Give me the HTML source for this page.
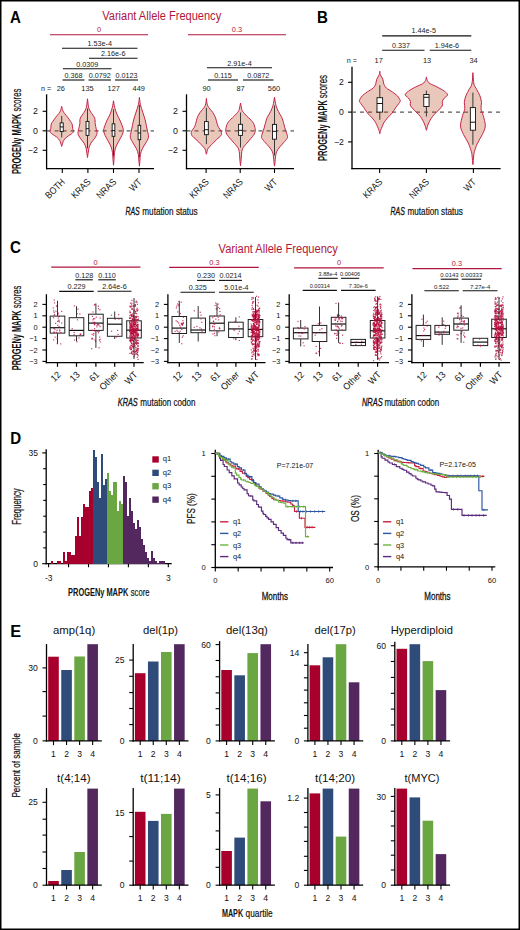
<!DOCTYPE html>
<html><head><meta charset="utf-8"><style>
html,body{margin:0;padding:0;background:#fff;}
body{width:520px;height:930px;overflow:hidden;}
svg{display:block;font-family:"Liberation Sans", sans-serif;}
</style></head><body>
<svg width="520" height="930" viewBox="0 0 520 930">
<rect x="0.75" y="0.75" width="518.5" height="928.5" fill="#fff" stroke="#000" stroke-width="1.5"/>
<text x="10.00" y="23.00" font-size="16.6" fill="#000" font-weight="bold" textLength="10.90" lengthAdjust="spacingAndGlyphs">A</text>
<text x="317.00" y="23.40" font-size="16.6" fill="#000" font-weight="bold" textLength="10.90" lengthAdjust="spacingAndGlyphs">B</text>
<text x="10.00" y="253.00" font-size="16.6" fill="#000" font-weight="bold" textLength="10.90" lengthAdjust="spacingAndGlyphs">C</text>
<text x="10.20" y="444.00" font-size="16.6" fill="#000" font-weight="bold" textLength="10.90" lengthAdjust="spacingAndGlyphs">D</text>
<text x="10.20" y="637.40" font-size="16.6" fill="#000" font-weight="bold" textLength="10.90" lengthAdjust="spacingAndGlyphs">E</text>
<text x="102.20" y="19.60" font-size="12.3" fill="#b0163c" textLength="119.00" lengthAdjust="spacingAndGlyphs">Variant Allele Frequency</text>
<line x1="50.00" y1="34.75" x2="148.00" y2="34.75" stroke="#b0163c" stroke-width="1.2"/>
<text x="99.00" y="32.40" font-size="7.4" fill="#b0163c" text-anchor="middle">0</text>
<line x1="188.00" y1="34.75" x2="286.00" y2="34.75" stroke="#b0163c" stroke-width="1.2"/>
<text x="237.00" y="32.40" font-size="7.4" fill="#b0163c" text-anchor="middle">0.3</text>
<line x1="62.00" y1="48.25" x2="137.50" y2="48.25" stroke="#111" stroke-width="1.1"/>
<text x="99.75" y="46.05" font-size="7.2" fill="#222" text-anchor="middle">1.53e-4</text>
<line x1="89.00" y1="58.25" x2="137.50" y2="58.25" stroke="#111" stroke-width="1.1"/>
<text x="113.25" y="56.05" font-size="7.2" fill="#222" text-anchor="middle">2.16e-6</text>
<line x1="63.00" y1="68.75" x2="111.50" y2="68.75" stroke="#111" stroke-width="1.1"/>
<text x="87.25" y="66.55" font-size="7.2" fill="#222" text-anchor="middle">0.0309</text>
<line x1="62.50" y1="80.00" x2="84.50" y2="80.00" stroke="#111" stroke-width="1.1"/>
<text x="73.50" y="77.80" font-size="7.2" fill="#222" text-anchor="middle">0.368</text>
<line x1="88.50" y1="80.00" x2="111.00" y2="80.00" stroke="#111" stroke-width="1.1"/>
<text x="99.75" y="77.80" font-size="7.2" fill="#222" text-anchor="middle">0.0792</text>
<line x1="115.00" y1="80.00" x2="138.00" y2="80.00" stroke="#111" stroke-width="1.1"/>
<text x="126.50" y="77.80" font-size="7.2" fill="#222" text-anchor="middle">0.0123</text>
<line x1="207.00" y1="67.75" x2="272.00" y2="67.75" stroke="#111" stroke-width="1.1"/>
<text x="239.50" y="65.55" font-size="7.2" fill="#222" text-anchor="middle">2.91e-4</text>
<line x1="208.00" y1="80.00" x2="238.00" y2="80.00" stroke="#111" stroke-width="1.1"/>
<text x="223.00" y="77.80" font-size="7.2" fill="#222" text-anchor="middle">0.115</text>
<line x1="243.00" y1="80.00" x2="273.50" y2="80.00" stroke="#111" stroke-width="1.1"/>
<text x="258.25" y="77.80" font-size="7.2" fill="#222" text-anchor="middle">0.0872</text>
<text x="41.00" y="91.00" font-size="7.2" fill="#222">n =</text>
<text x="60.75" y="91.00" font-size="7.4" fill="#222" text-anchor="middle">26</text>
<text x="87.50" y="91.00" font-size="7.4" fill="#222" text-anchor="middle">135</text>
<text x="113.75" y="91.00" font-size="7.4" fill="#222" text-anchor="middle">127</text>
<text x="138.75" y="91.00" font-size="7.4" fill="#222" text-anchor="middle">449</text>
<text x="206.50" y="91.00" font-size="7.4" fill="#222" text-anchor="middle">90</text>
<text x="240.50" y="91.00" font-size="7.4" fill="#222" text-anchor="middle">87</text>
<text x="274.00" y="91.00" font-size="7.4" fill="#222" text-anchor="middle">560</text>
<line x1="46.60" y1="94.30" x2="46.60" y2="169.30" stroke="#000" stroke-width="1.3"/>
<line x1="46.00" y1="168.70" x2="154.00" y2="168.70" stroke="#000" stroke-width="1.3"/>
<line x1="42.60" y1="111.30" x2="46.60" y2="111.30" stroke="#000" stroke-width="1.1"/>
<text x="37.90" y="114.47" font-size="8.8" fill="#111" text-anchor="end">2</text>
<line x1="42.60" y1="130.80" x2="46.60" y2="130.80" stroke="#000" stroke-width="1.1"/>
<text x="37.90" y="133.97" font-size="8.8" fill="#111" text-anchor="end">0</text>
<line x1="42.60" y1="150.30" x2="46.60" y2="150.30" stroke="#000" stroke-width="1.1"/>
<text x="37.90" y="153.47" font-size="8.8" fill="#111" text-anchor="end">−2</text>
<line x1="186.50" y1="94.30" x2="186.50" y2="169.30" stroke="#000" stroke-width="1.3"/>
<line x1="185.90" y1="168.70" x2="294.00" y2="168.70" stroke="#000" stroke-width="1.3"/>
<line x1="182.50" y1="111.30" x2="186.50" y2="111.30" stroke="#000" stroke-width="1.1"/>
<text x="177.90" y="114.47" font-size="8.8" fill="#111" text-anchor="end">2</text>
<line x1="182.50" y1="130.80" x2="186.50" y2="130.80" stroke="#000" stroke-width="1.1"/>
<text x="177.90" y="133.97" font-size="8.8" fill="#111" text-anchor="end">0</text>
<line x1="182.50" y1="150.30" x2="186.50" y2="150.30" stroke="#000" stroke-width="1.1"/>
<text x="177.90" y="153.47" font-size="8.8" fill="#111" text-anchor="end">−2</text>
<line x1="46.60" y1="130.80" x2="154.00" y2="130.80" stroke="#5a5a5a" stroke-width="1.2" stroke-dasharray="4,4"/>
<line x1="186.50" y1="130.80" x2="294.00" y2="130.80" stroke="#5a5a5a" stroke-width="1.2" stroke-dasharray="4,4"/>
<path d="M61.70,106.40 C61.90,107.13 62.42,109.62 62.90,110.80 C63.38,111.98 63.77,112.38 64.60,113.50 C65.43,114.62 66.90,116.17 67.90,117.50 C68.90,118.83 69.88,120.38 70.60,121.50 C71.32,122.62 71.87,123.07 72.20,124.20 C72.53,125.33 72.38,127.07 72.60,128.30 C72.82,129.53 73.78,130.60 73.50,131.60 C73.22,132.60 72.03,133.40 70.90,134.30 C69.77,135.20 67.90,135.98 66.70,137.00 C65.50,138.02 64.37,139.38 63.70,140.40 C63.03,141.42 63.03,142.10 62.70,143.10 C62.37,144.10 61.87,145.85 61.70,146.40 L61.70,146.40 C61.53,145.85 61.03,144.10 60.70,143.10 C60.37,142.10 60.37,141.42 59.70,140.40 C59.03,139.38 57.90,138.02 56.70,137.00 C55.50,135.98 53.63,135.20 52.50,134.30 C51.37,133.40 50.18,132.60 49.90,131.60 C49.62,130.60 50.58,129.53 50.80,128.30 C51.02,127.07 50.87,125.33 51.20,124.20 C51.53,123.07 52.08,122.62 52.80,121.50 C53.52,120.38 54.50,118.83 55.50,117.50 C56.50,116.17 57.97,114.62 58.80,113.50 C59.63,112.38 60.02,111.98 60.50,110.80 C60.98,109.62 61.50,107.13 61.70,106.40 Z" fill="#b6441c" fill-opacity="0.3" stroke="#c21a42" stroke-width="0.95"/>
<path d="M87.50,98.80 C87.70,100.25 88.13,105.25 88.70,107.50 C89.27,109.75 89.90,110.53 90.90,112.30 C91.90,114.07 93.98,116.18 94.70,118.10 C95.42,120.02 94.95,122.03 95.20,123.80 C95.45,125.57 95.90,127.08 96.20,128.70 C96.50,130.32 97.25,131.90 97.00,133.50 C96.75,135.10 95.72,136.70 94.70,138.30 C93.68,139.90 91.85,141.50 90.90,143.10 C89.95,144.70 89.43,146.42 89.00,147.90 C88.57,149.38 88.55,150.40 88.30,152.00 C88.05,153.60 87.63,156.58 87.50,157.50 L87.50,157.50 C87.37,156.58 86.95,153.60 86.70,152.00 C86.45,150.40 86.43,149.38 86.00,147.90 C85.57,146.42 85.05,144.70 84.10,143.10 C83.15,141.50 81.32,139.90 80.30,138.30 C79.28,136.70 78.25,135.10 78.00,133.50 C77.75,131.90 78.50,130.32 78.80,128.70 C79.10,127.08 79.55,125.57 79.80,123.80 C80.05,122.03 79.58,120.02 80.30,118.10 C81.02,116.18 83.10,114.07 84.10,112.30 C85.10,110.53 85.73,109.75 86.30,107.50 C86.87,105.25 87.30,100.25 87.50,98.80 Z" fill="#b6441c" fill-opacity="0.3" stroke="#c21a42" stroke-width="0.95"/>
<path d="M113.50,100.80 C113.70,101.92 114.13,105.27 114.70,107.50 C115.27,109.73 116.05,112.12 116.90,114.20 C117.75,116.28 118.92,118.07 119.80,120.00 C120.68,121.93 121.60,124.03 122.20,125.80 C122.80,127.57 123.45,129.00 123.40,130.60 C123.35,132.20 122.67,133.63 121.90,135.40 C121.13,137.17 119.80,139.28 118.80,141.20 C117.80,143.12 116.62,144.98 115.90,146.90 C115.18,148.82 114.80,150.85 114.50,152.70 C114.20,154.55 114.27,155.92 114.10,158.00 C113.93,160.08 113.60,164.00 113.50,165.20 L113.50,165.20 C113.40,164.00 113.07,160.08 112.90,158.00 C112.73,155.92 112.80,154.55 112.50,152.70 C112.20,150.85 111.82,148.82 111.10,146.90 C110.38,144.98 109.20,143.12 108.20,141.20 C107.20,139.28 105.87,137.17 105.10,135.40 C104.33,133.63 103.65,132.20 103.60,130.60 C103.55,129.00 104.20,127.57 104.80,125.80 C105.40,124.03 106.32,121.93 107.20,120.00 C108.08,118.07 109.25,116.28 110.10,114.20 C110.95,112.12 111.73,109.73 112.30,107.50 C112.87,105.27 113.30,101.92 113.50,100.80 Z" fill="#b6441c" fill-opacity="0.3" stroke="#c21a42" stroke-width="0.95"/>
<path d="M139.40,97.40 C139.57,98.60 139.83,102.12 140.40,104.60 C140.97,107.08 142.00,109.73 142.80,112.30 C143.60,114.87 144.60,117.75 145.20,120.00 C145.80,122.25 146.00,123.88 146.40,125.80 C146.80,127.72 147.25,129.58 147.60,131.50 C147.95,133.42 148.82,135.37 148.50,137.30 C148.18,139.23 146.73,141.18 145.70,143.10 C144.67,145.02 143.18,146.88 142.30,148.80 C141.42,150.72 140.78,152.73 140.40,154.60 C140.02,156.47 140.17,158.07 140.00,160.00 C139.83,161.93 139.50,165.17 139.40,166.20 L139.40,166.20 C139.30,165.17 138.97,161.93 138.80,160.00 C138.63,158.07 138.78,156.47 138.40,154.60 C138.02,152.73 137.38,150.72 136.50,148.80 C135.62,146.88 134.13,145.02 133.10,143.10 C132.07,141.18 130.62,139.23 130.30,137.30 C129.98,135.37 130.85,133.42 131.20,131.50 C131.55,129.58 132.00,127.72 132.40,125.80 C132.80,123.88 133.00,122.25 133.60,120.00 C134.20,117.75 135.20,114.87 136.00,112.30 C136.80,109.73 137.83,107.08 138.40,104.60 C138.97,102.12 139.23,98.60 139.40,97.40 Z" fill="#b6441c" fill-opacity="0.3" stroke="#c21a42" stroke-width="0.95"/>
<path d="M206.40,98.40 C206.62,99.63 206.63,103.45 207.70,105.80 C208.77,108.15 211.48,110.48 212.80,112.50 C214.12,114.52 214.90,116.10 215.60,117.90 C216.30,119.70 216.52,121.73 217.00,123.30 C217.48,124.87 217.80,125.97 218.50,127.30 C219.20,128.63 220.78,129.95 221.20,131.30 C221.62,132.65 221.73,134.05 221.00,135.40 C220.27,136.75 218.40,137.83 216.80,139.40 C215.20,140.97 212.88,143.23 211.40,144.80 C209.92,146.37 208.62,147.68 207.90,148.80 C207.18,149.92 207.35,150.60 207.10,151.50 C206.85,152.40 206.52,153.75 206.40,154.20 L206.40,154.20 C206.28,153.75 205.95,152.40 205.70,151.50 C205.45,150.60 205.62,149.92 204.90,148.80 C204.18,147.68 202.88,146.37 201.40,144.80 C199.92,143.23 197.60,140.97 196.00,139.40 C194.40,137.83 192.53,136.75 191.80,135.40 C191.07,134.05 191.18,132.65 191.60,131.30 C192.02,129.95 193.60,128.63 194.30,127.30 C195.00,125.97 195.32,124.87 195.80,123.30 C196.28,121.73 196.50,119.70 197.20,117.90 C197.90,116.10 198.68,114.52 200.00,112.50 C201.32,110.48 204.03,108.15 205.10,105.80 C206.17,103.45 206.18,99.63 206.40,98.40 Z" fill="#b6441c" fill-opacity="0.3" stroke="#c21a42" stroke-width="0.95"/>
<path d="M240.50,103.10 C240.67,103.92 241.17,106.65 241.50,108.00 C241.83,109.35 241.55,109.78 242.50,111.20 C243.45,112.62 245.52,114.72 247.20,116.50 C248.88,118.28 251.32,120.10 252.60,121.90 C253.88,123.70 254.52,125.50 254.90,127.30 C255.28,129.10 255.50,130.90 254.90,132.70 C254.30,134.50 252.70,136.30 251.30,138.10 C249.90,139.90 247.97,141.72 246.50,143.50 C245.03,145.28 243.33,147.02 242.50,148.80 C241.67,150.58 241.73,152.33 241.50,154.20 C241.27,156.07 241.27,158.08 241.10,160.00 C240.93,161.92 240.60,164.75 240.50,165.70 L240.50,165.70 C240.40,164.75 240.07,161.92 239.90,160.00 C239.73,158.08 239.73,156.07 239.50,154.20 C239.27,152.33 239.33,150.58 238.50,148.80 C237.67,147.02 235.97,145.28 234.50,143.50 C233.03,141.72 231.10,139.90 229.70,138.10 C228.30,136.30 226.70,134.50 226.10,132.70 C225.50,130.90 225.72,129.10 226.10,127.30 C226.48,125.50 227.12,123.70 228.40,121.90 C229.68,120.10 232.12,118.28 233.80,116.50 C235.48,114.72 237.55,112.62 238.50,111.20 C239.45,109.78 239.17,109.35 239.50,108.00 C239.83,106.65 240.33,103.92 240.50,103.10 Z" fill="#b6441c" fill-opacity="0.3" stroke="#c21a42" stroke-width="0.95"/>
<path d="M274.50,97.30 C274.75,98.67 275.35,103.13 276.00,105.50 C276.65,107.87 277.43,109.50 278.40,111.50 C279.37,113.50 280.95,115.63 281.80,117.50 C282.65,119.37 283.00,120.98 283.50,122.70 C284.00,124.42 284.30,126.08 284.80,127.80 C285.30,129.52 286.05,131.42 286.50,133.00 C286.95,134.58 287.82,135.87 287.50,137.30 C287.18,138.73 285.87,140.02 284.60,141.60 C283.33,143.18 281.25,145.08 279.90,146.80 C278.55,148.52 277.23,150.18 276.50,151.90 C275.77,153.62 275.73,155.50 275.50,157.10 C275.27,158.70 275.27,160.00 275.10,161.50 C274.93,163.00 274.60,165.33 274.50,166.10 L274.50,166.10 C274.40,165.33 274.07,163.00 273.90,161.50 C273.73,160.00 273.73,158.70 273.50,157.10 C273.27,155.50 273.23,153.62 272.50,151.90 C271.77,150.18 270.45,148.52 269.10,146.80 C267.75,145.08 265.67,143.18 264.40,141.60 C263.13,140.02 261.82,138.73 261.50,137.30 C261.18,135.87 262.05,134.58 262.50,133.00 C262.95,131.42 263.70,129.52 264.20,127.80 C264.70,126.08 265.00,124.42 265.50,122.70 C266.00,120.98 266.35,119.37 267.20,117.50 C268.05,115.63 269.63,113.50 270.60,111.50 C271.57,109.50 272.35,107.87 273.00,105.50 C273.65,103.13 274.25,98.67 274.50,97.30 Z" fill="#b6441c" fill-opacity="0.3" stroke="#c21a42" stroke-width="0.95"/>
<line x1="61.70" y1="115.80" x2="61.70" y2="137.40" stroke="#3a3a3a" stroke-width="1.0"/>
<rect x="60.15" y="122.90" width="3.10" height="8.70" fill="#fff" stroke="#111" stroke-width="0.9"/>
<line x1="60.15" y1="126.90" x2="63.25" y2="126.90" stroke="#111" stroke-width="1.0"/>
<line x1="87.50" y1="108.50" x2="87.50" y2="148.40" stroke="#3a3a3a" stroke-width="1.0"/>
<rect x="86.05" y="121.40" width="2.90" height="14.00" fill="#fff" stroke="#111" stroke-width="0.9"/>
<line x1="86.05" y1="128.70" x2="88.95" y2="128.70" stroke="#111" stroke-width="1.0"/>
<line x1="113.50" y1="109.40" x2="113.50" y2="156.50" stroke="#3a3a3a" stroke-width="1.0"/>
<rect x="112.15" y="123.80" width="2.70" height="12.50" fill="#fff" stroke="#111" stroke-width="0.9"/>
<line x1="112.15" y1="130.60" x2="114.85" y2="130.60" stroke="#111" stroke-width="1.0"/>
<line x1="139.40" y1="104.60" x2="139.40" y2="157.50" stroke="#3a3a3a" stroke-width="1.0"/>
<rect x="138.10" y="125.30" width="2.60" height="14.40" fill="#fff" stroke="#111" stroke-width="0.9"/>
<line x1="138.10" y1="133.00" x2="140.70" y2="133.00" stroke="#111" stroke-width="1.0"/>
<line x1="206.40" y1="107.80" x2="206.40" y2="144.10" stroke="#3a3a3a" stroke-width="1.0"/>
<rect x="204.50" y="121.60" width="3.80" height="13.10" fill="#fff" stroke="#111" stroke-width="0.9"/>
<line x1="204.50" y1="129.70" x2="208.30" y2="129.70" stroke="#111" stroke-width="1.0"/>
<line x1="240.50" y1="112.50" x2="240.50" y2="147.50" stroke="#3a3a3a" stroke-width="1.0"/>
<rect x="238.60" y="124.30" width="3.80" height="11.10" fill="#fff" stroke="#111" stroke-width="0.9"/>
<line x1="238.60" y1="130.30" x2="242.40" y2="130.30" stroke="#111" stroke-width="1.0"/>
<line x1="274.50" y1="105.50" x2="274.50" y2="155.40" stroke="#3a3a3a" stroke-width="1.0"/>
<rect x="272.55" y="124.40" width="3.90" height="14.80" fill="#fff" stroke="#111" stroke-width="0.9"/>
<line x1="272.55" y1="131.30" x2="276.45" y2="131.30" stroke="#111" stroke-width="1.0"/>
<line x1="62.30" y1="168.70" x2="62.30" y2="173.00" stroke="#000" stroke-width="1.1"/>
<text x="65.70" y="182.60" font-size="9.6" fill="#111" text-anchor="end" textLength="23.60" lengthAdjust="spacingAndGlyphs" transform="rotate(-45 65.70 182.60)">BOTH</text>
<line x1="87.90" y1="168.70" x2="87.90" y2="173.00" stroke="#000" stroke-width="1.1"/>
<text x="91.30" y="182.60" font-size="9.6" fill="#111" text-anchor="end" textLength="23.14" lengthAdjust="spacingAndGlyphs" transform="rotate(-45 91.30 182.60)">KRAS</text>
<line x1="113.50" y1="168.70" x2="113.50" y2="173.00" stroke="#000" stroke-width="1.1"/>
<text x="116.90" y="182.60" font-size="9.6" fill="#111" text-anchor="end" textLength="23.61" lengthAdjust="spacingAndGlyphs" transform="rotate(-45 116.90 182.60)">NRAS</text>
<line x1="139.00" y1="168.70" x2="139.00" y2="173.00" stroke="#000" stroke-width="1.1"/>
<text x="142.40" y="182.60" font-size="9.6" fill="#111" text-anchor="end" textLength="13.21" lengthAdjust="spacingAndGlyphs" transform="rotate(-45 142.40 182.60)">WT</text>
<line x1="206.10" y1="168.70" x2="206.10" y2="173.00" stroke="#000" stroke-width="1.1"/>
<text x="209.50" y="182.60" font-size="9.6" fill="#111" text-anchor="end" textLength="23.14" lengthAdjust="spacingAndGlyphs" transform="rotate(-45 209.50 182.60)">KRAS</text>
<line x1="240.20" y1="168.70" x2="240.20" y2="173.00" stroke="#000" stroke-width="1.1"/>
<text x="243.60" y="182.60" font-size="9.6" fill="#111" text-anchor="end" textLength="23.61" lengthAdjust="spacingAndGlyphs" transform="rotate(-45 243.60 182.60)">NRAS</text>
<line x1="274.50" y1="168.70" x2="274.50" y2="173.00" stroke="#000" stroke-width="1.1"/>
<text x="277.90" y="182.60" font-size="9.6" fill="#111" text-anchor="end" textLength="13.21" lengthAdjust="spacingAndGlyphs" transform="rotate(-45 277.90 182.60)">WT</text>
<g transform="translate(20.80 173.90) rotate(-90)">
<text x="0" y="0" font-size="12.3" font-weight="bold" fill="#111" textLength="60.30" lengthAdjust="spacingAndGlyphs">PROGENy MAPK</text>
<text x="62.30" y="0" font-size="12.3" fill="#111" textLength="23.00" lengthAdjust="spacingAndGlyphs" stroke="#111" stroke-width="0.2">scores</text>
</g>
<text x="125.40" y="214.60" font-size="10.4" fill="#111" font-style="italic" textLength="14.30" lengthAdjust="spacingAndGlyphs" stroke="#111" stroke-width="0.3">RAS</text>
<text x="142.30" y="214.60" font-size="10.4" fill="#111" textLength="55.40" lengthAdjust="spacingAndGlyphs" stroke="#111" stroke-width="0.2">mutation status</text>
<line x1="382.20" y1="35.90" x2="471.30" y2="35.90" stroke="#111" stroke-width="1.1"/>
<text x="423.80" y="33.30" font-size="7.2" fill="#222" text-anchor="middle">1.44e-5</text>
<line x1="382.20" y1="50.30" x2="424.50" y2="50.30" stroke="#111" stroke-width="1.1"/>
<text x="401.00" y="47.70" font-size="7.2" fill="#222" text-anchor="middle">0.337</text>
<line x1="429.80" y1="50.30" x2="471.30" y2="50.30" stroke="#111" stroke-width="1.1"/>
<text x="446.90" y="47.70" font-size="7.2" fill="#222" text-anchor="middle">1.94e-6</text>
<text x="346.80" y="63.30" font-size="7.2" fill="#222">n =</text>
<text x="378.70" y="63.30" font-size="7.4" fill="#222" text-anchor="middle">17</text>
<text x="427.00" y="63.30" font-size="7.4" fill="#222" text-anchor="middle">13</text>
<text x="473.60" y="63.30" font-size="7.4" fill="#222" text-anchor="middle">34</text>
<line x1="352.00" y1="66.70" x2="352.00" y2="169.20" stroke="#000" stroke-width="1.3"/>
<line x1="351.40" y1="168.60" x2="500.60" y2="168.60" stroke="#000" stroke-width="1.3"/>
<line x1="348.00" y1="82.30" x2="352.00" y2="82.30" stroke="#000" stroke-width="1.1"/>
<text x="343.70" y="85.40" font-size="8.6" fill="#111" text-anchor="end">2</text>
<line x1="348.00" y1="112.10" x2="352.00" y2="112.10" stroke="#000" stroke-width="1.1"/>
<text x="343.70" y="115.20" font-size="8.6" fill="#111" text-anchor="end">0</text>
<line x1="348.00" y1="141.90" x2="352.00" y2="141.90" stroke="#000" stroke-width="1.1"/>
<text x="343.70" y="145.00" font-size="8.6" fill="#111" text-anchor="end">−2</text>
<line x1="352.00" y1="112.10" x2="500.60" y2="112.10" stroke="#5a5a5a" stroke-width="1.2" stroke-dasharray="4,4"/>
<path d="M379.80,71.25 C379.88,71.81 379.78,73.24 380.30,74.60 C380.82,75.96 382.30,77.80 382.90,79.40 C383.50,81.00 383.30,82.75 383.90,84.20 C384.50,85.65 385.10,86.82 386.50,88.10 C387.90,89.38 390.50,90.62 392.30,91.90 C394.10,93.18 395.98,94.35 397.30,95.80 C398.62,97.25 399.95,99.32 400.20,100.60 C400.45,101.88 399.63,102.22 398.80,103.50 C397.97,104.78 396.32,106.70 395.20,108.30 C394.08,109.90 393.38,111.50 392.10,113.10 C390.82,114.70 388.87,116.30 387.50,117.90 C386.13,119.50 384.78,121.27 383.90,122.70 C383.02,124.13 382.75,125.22 382.20,126.50 C381.65,127.78 381.00,129.19 380.60,130.40 C380.20,131.61 379.93,133.19 379.80,133.75 L379.80,133.75 C379.67,133.19 379.40,131.61 379.00,130.40 C378.60,129.19 377.95,127.78 377.40,126.50 C376.85,125.22 376.58,124.13 375.70,122.70 C374.82,121.27 373.47,119.50 372.10,117.90 C370.73,116.30 368.78,114.70 367.50,113.10 C366.22,111.50 365.52,109.90 364.40,108.30 C363.28,106.70 361.63,104.78 360.80,103.50 C359.97,102.22 359.15,101.88 359.40,100.60 C359.65,99.32 360.98,97.25 362.30,95.80 C363.62,94.35 365.50,93.18 367.30,91.90 C369.10,90.62 371.70,89.38 373.10,88.10 C374.50,86.82 375.10,85.65 375.70,84.20 C376.30,82.75 376.10,81.00 376.70,79.40 C377.30,77.80 378.78,75.96 379.30,74.60 C379.82,73.24 379.72,71.81 379.80,71.25 Z" fill="#b6441c" fill-opacity="0.3" stroke="#c21a42" stroke-width="0.95"/>
<path d="M426.40,76.90 C426.57,77.52 426.78,79.47 427.40,80.60 C428.02,81.73 428.50,82.65 430.10,83.70 C431.70,84.75 434.62,85.65 437.00,86.90 C439.38,88.15 442.63,89.87 444.40,91.20 C446.17,92.53 447.60,93.77 447.60,94.90 C447.60,96.03 445.28,96.87 444.40,98.00 C443.52,99.13 442.60,100.55 442.30,101.70 C442.00,102.85 442.90,103.83 442.60,104.90 C442.30,105.97 441.53,106.87 440.50,108.10 C439.47,109.33 437.73,110.90 436.40,112.30 C435.07,113.70 433.60,115.08 432.50,116.50 C431.40,117.92 430.57,119.38 429.80,120.80 C429.03,122.22 428.47,123.42 427.90,125.00 C427.33,126.58 426.65,129.42 426.40,130.30 L426.40,130.30 C426.15,129.42 425.47,126.58 424.90,125.00 C424.33,123.42 423.77,122.22 423.00,120.80 C422.23,119.38 421.40,117.92 420.30,116.50 C419.20,115.08 417.73,113.70 416.40,112.30 C415.07,110.90 413.33,109.33 412.30,108.10 C411.27,106.87 410.50,105.97 410.20,104.90 C409.90,103.83 410.80,102.85 410.50,101.70 C410.20,100.55 409.28,99.13 408.40,98.00 C407.52,96.87 405.20,96.03 405.20,94.90 C405.20,93.77 406.63,92.53 408.40,91.20 C410.17,89.87 413.42,88.15 415.80,86.90 C418.18,85.65 421.10,84.75 422.70,83.70 C424.30,82.65 424.78,81.73 425.40,80.60 C426.02,79.47 426.23,77.52 426.40,76.90 Z" fill="#b6441c" fill-opacity="0.3" stroke="#c21a42" stroke-width="0.95"/>
<path d="M472.90,72.70 C473.07,74.58 473.27,81.22 473.90,84.00 C474.53,86.78 475.70,87.43 476.70,89.40 C477.70,91.37 479.10,93.65 479.90,95.80 C480.70,97.95 481.32,100.15 481.50,102.30 C481.68,104.45 480.73,106.55 481.00,108.70 C481.27,110.85 482.38,112.33 483.10,115.20 C483.82,118.07 485.43,122.68 485.30,125.90 C485.17,129.12 483.60,131.63 482.30,134.50 C481.00,137.37 478.82,140.23 477.50,143.10 C476.18,145.97 475.03,149.55 474.40,151.70 C473.77,153.85 473.95,153.85 473.70,156.00 C473.45,158.15 473.03,163.17 472.90,164.60 L472.90,164.60 C472.77,163.17 472.35,158.15 472.10,156.00 C471.85,153.85 472.03,153.85 471.40,151.70 C470.77,149.55 469.62,145.97 468.30,143.10 C466.98,140.23 464.80,137.37 463.50,134.50 C462.20,131.63 460.63,129.12 460.50,125.90 C460.37,122.68 461.98,118.07 462.70,115.20 C463.42,112.33 464.53,110.85 464.80,108.70 C465.07,106.55 464.12,104.45 464.30,102.30 C464.48,100.15 465.10,97.95 465.90,95.80 C466.70,93.65 468.10,91.37 469.10,89.40 C470.10,87.43 471.27,86.78 471.90,84.00 C472.53,81.22 472.73,74.58 472.90,72.70 Z" fill="#b6441c" fill-opacity="0.3" stroke="#c21a42" stroke-width="0.95"/>
<line x1="379.80" y1="85.20" x2="379.80" y2="119.80" stroke="#3a3a3a" stroke-width="1.0"/>
<rect x="377.00" y="97.70" width="5.60" height="14.40" fill="#fff" stroke="#111" stroke-width="0.9"/>
<line x1="377.00" y1="103.50" x2="382.60" y2="103.50" stroke="#111" stroke-width="1.0"/>
<line x1="426.40" y1="90.60" x2="426.40" y2="116.50" stroke="#3a3a3a" stroke-width="1.0"/>
<rect x="423.75" y="94.50" width="5.30" height="12.00" fill="#fff" stroke="#111" stroke-width="0.9"/>
<line x1="423.75" y1="97.30" x2="429.05" y2="97.30" stroke="#111" stroke-width="1.0"/>
<line x1="472.90" y1="92.60" x2="472.90" y2="144.70" stroke="#3a3a3a" stroke-width="1.0"/>
<rect x="470.35" y="107.60" width="5.10" height="22.60" fill="#fff" stroke="#111" stroke-width="0.9"/>
<line x1="470.35" y1="122.20" x2="475.45" y2="122.20" stroke="#111" stroke-width="1.0"/>
<line x1="379.60" y1="168.60" x2="379.60" y2="173.00" stroke="#000" stroke-width="1.1"/>
<text x="383.00" y="182.60" font-size="9.6" fill="#111" text-anchor="end" textLength="23.14" lengthAdjust="spacingAndGlyphs" transform="rotate(-45 383.00 182.60)">KRAS</text>
<line x1="426.40" y1="168.60" x2="426.40" y2="173.00" stroke="#000" stroke-width="1.1"/>
<text x="429.80" y="182.60" font-size="9.6" fill="#111" text-anchor="end" textLength="23.61" lengthAdjust="spacingAndGlyphs" transform="rotate(-45 429.80 182.60)">NRAS</text>
<line x1="473.40" y1="168.60" x2="473.40" y2="173.00" stroke="#000" stroke-width="1.1"/>
<text x="476.80" y="182.60" font-size="9.6" fill="#111" text-anchor="end" textLength="13.21" lengthAdjust="spacingAndGlyphs" transform="rotate(-45 476.80 182.60)">WT</text>
<g transform="translate(326.50 161.00) rotate(-90)">
<text x="0" y="0" font-size="12.3" font-weight="bold" fill="#111" textLength="60.80" lengthAdjust="spacingAndGlyphs">PROGENy MAPK</text>
<text x="62.80" y="0" font-size="12.3" fill="#111" textLength="23.20" lengthAdjust="spacingAndGlyphs" stroke="#111" stroke-width="0.2">scores</text>
</g>
<text x="390.60" y="214.60" font-size="10.4" fill="#111" font-style="italic" textLength="14.30" lengthAdjust="spacingAndGlyphs" stroke="#111" stroke-width="0.3">RAS</text>
<text x="407.50" y="214.60" font-size="10.4" fill="#111" textLength="55.40" lengthAdjust="spacingAndGlyphs" stroke="#111" stroke-width="0.2">mutation status</text>
<text x="218.60" y="252.80" font-size="12.3" fill="#b0163c" textLength="119.30" lengthAdjust="spacingAndGlyphs">Variant Allele Frequency</text>
<line x1="51.20" y1="267.10" x2="140.40" y2="267.10" stroke="#b0163c" stroke-width="1.2"/>
<text x="95.60" y="264.70" font-size="7.4" fill="#b0163c" text-anchor="middle">0</text>
<line x1="75.40" y1="279.80" x2="92.90" y2="279.80" stroke="#111" stroke-width="1.1"/>
<text x="84.15" y="277.60" font-size="7.2" fill="#222" text-anchor="middle">0.128</text>
<line x1="98.30" y1="279.80" x2="115.80" y2="279.80" stroke="#111" stroke-width="1.1"/>
<text x="107.05" y="277.60" font-size="7.2" fill="#222" text-anchor="middle">0.110</text>
<line x1="59.20" y1="291.40" x2="93.70" y2="291.40" stroke="#111" stroke-width="1.1"/>
<text x="76.45" y="289.20" font-size="7.2" fill="#222" text-anchor="middle">0.229</text>
<line x1="97.50" y1="291.20" x2="131.50" y2="291.20" stroke="#111" stroke-width="1.1"/>
<text x="114.50" y="289.00" font-size="7.2" fill="#222" text-anchor="middle">2.64e-6</text>
<line x1="46.40" y1="294.20" x2="46.40" y2="363.30" stroke="#000" stroke-width="1.3"/>
<line x1="45.80" y1="362.70" x2="143.70" y2="362.70" stroke="#000" stroke-width="1.3"/>
<line x1="42.40" y1="304.40" x2="46.40" y2="304.40" stroke="#000" stroke-width="1.1"/>
<text x="37.60" y="307.06" font-size="7.4" fill="#111" text-anchor="end">2</text>
<line x1="42.40" y1="315.80" x2="46.40" y2="315.80" stroke="#000" stroke-width="1.1"/>
<text x="37.60" y="318.46" font-size="7.4" fill="#111" text-anchor="end">1</text>
<line x1="42.40" y1="327.20" x2="46.40" y2="327.20" stroke="#000" stroke-width="1.1"/>
<text x="37.60" y="329.86" font-size="7.4" fill="#111" text-anchor="end">0</text>
<line x1="42.40" y1="338.60" x2="46.40" y2="338.60" stroke="#000" stroke-width="1.1"/>
<text x="37.60" y="341.26" font-size="7.4" fill="#111" text-anchor="end">−1</text>
<line x1="42.40" y1="350.00" x2="46.40" y2="350.00" stroke="#000" stroke-width="1.1"/>
<text x="37.60" y="352.66" font-size="7.4" fill="#111" text-anchor="end">−2</text>
<line x1="42.40" y1="361.40" x2="46.40" y2="361.40" stroke="#000" stroke-width="1.1"/>
<text x="37.60" y="364.06" font-size="7.4" fill="#111" text-anchor="end">−3</text>
<rect x="50.20" y="316.10" width="14.60" height="17.00" fill="none" stroke="#222" stroke-width="1"/>
<line x1="50.20" y1="327.70" x2="64.80" y2="327.70" stroke="#111" stroke-width="1.2"/>
<g fill="#b80d3c" fill-opacity="0.78"><rect x="58.2" y="320.2" width="1.2" height="1.2"/><rect x="53.2" y="331.6" width="1.2" height="1.2"/><rect x="53.0" y="310.3" width="1.2" height="1.2"/><rect x="57.0" y="320.8" width="1.2" height="1.2"/><rect x="53.1" y="339.3" width="1.2" height="1.2"/><rect x="53.3" y="327.7" width="1.2" height="1.2"/><rect x="53.6" y="299.4" width="1.2" height="1.2"/><rect x="54.5" y="336.6" width="1.2" height="1.2"/><rect x="61.1" y="310.8" width="1.2" height="1.2"/><rect x="52.9" y="317.1" width="1.2" height="1.2"/><rect x="53.8" y="331.7" width="1.2" height="1.2"/><rect x="53.6" y="314.5" width="1.2" height="1.2"/><rect x="54.1" y="314.2" width="1.2" height="1.2"/><rect x="55.8" y="305.6" width="1.2" height="1.2"/><rect x="57.3" y="313.6" width="1.2" height="1.2"/><rect x="54.3" y="328.8" width="1.2" height="1.2"/><rect x="58.5" y="326.0" width="1.2" height="1.2"/><rect x="57.6" y="312.5" width="1.2" height="1.2"/><rect x="56.5" y="329.6" width="1.2" height="1.2"/><rect x="58.6" y="315.9" width="1.2" height="1.2"/><rect x="57.1" y="324.7" width="1.2" height="1.2"/><rect x="60.2" y="343.3" width="1.2" height="1.2"/><rect x="61.1" y="322.4" width="1.2" height="1.2"/><rect x="53.6" y="311.9" width="1.2" height="1.2"/><rect x="53.9" y="302.3" width="1.2" height="1.2"/><rect x="56.8" y="336.2" width="1.2" height="1.2"/><rect x="59.2" y="329.4" width="1.2" height="1.2"/><rect x="55.3" y="310.6" width="1.2" height="1.2"/><rect x="57.6" y="317.3" width="1.2" height="1.2"/><rect x="56.5" y="305.3" width="1.2" height="1.2"/><rect x="56.7" y="343.1" width="1.2" height="1.2"/><rect x="58.7" y="321.3" width="1.2" height="1.2"/><rect x="58.2" y="319.5" width="1.2" height="1.2"/><rect x="55.0" y="322.8" width="1.2" height="1.2"/><rect x="52.7" y="307.4" width="1.2" height="1.2"/><rect x="56.6" y="338.4" width="1.2" height="1.2"/><rect x="53.0" y="327.6" width="1.2" height="1.2"/><rect x="59.2" y="330.4" width="1.2" height="1.2"/><rect x="55.9" y="331.7" width="1.2" height="1.2"/><rect x="60.2" y="332.1" width="1.2" height="1.2"/></g>
<line x1="57.50" y1="300.80" x2="57.50" y2="316.10" stroke="#333" stroke-width="1.0"/>
<line x1="57.50" y1="333.10" x2="57.50" y2="343.80" stroke="#333" stroke-width="1.0"/>
<rect x="69.20" y="317.70" width="14.60" height="18.10" fill="none" stroke="#222" stroke-width="1"/>
<line x1="69.20" y1="330.40" x2="83.80" y2="330.40" stroke="#111" stroke-width="1.2"/>
<g fill="#b80d3c" fill-opacity="0.78"><rect x="76.3" y="341.2" width="1.2" height="1.2"/><rect x="79.3" y="334.5" width="1.2" height="1.2"/><rect x="74.0" y="339.4" width="1.2" height="1.2"/><rect x="79.3" y="313.4" width="1.2" height="1.2"/><rect x="79.9" y="333.7" width="1.2" height="1.2"/><rect x="73.6" y="331.9" width="1.2" height="1.2"/><rect x="73.6" y="334.1" width="1.2" height="1.2"/><rect x="73.8" y="305.3" width="1.2" height="1.2"/><rect x="71.6" y="328.1" width="1.2" height="1.2"/><rect x="76.5" y="313.0" width="1.2" height="1.2"/><rect x="79.9" y="333.5" width="1.2" height="1.2"/><rect x="76.9" y="319.2" width="1.2" height="1.2"/><rect x="77.4" y="308.5" width="1.2" height="1.2"/><rect x="78.4" y="337.4" width="1.2" height="1.2"/></g>
<line x1="76.50" y1="306.20" x2="76.50" y2="317.70" stroke="#333" stroke-width="1.0"/>
<line x1="76.50" y1="335.80" x2="76.50" y2="341.20" stroke="#333" stroke-width="1.0"/>
<rect x="88.60" y="314.20" width="14.60" height="16.20" fill="none" stroke="#222" stroke-width="1"/>
<line x1="88.60" y1="323.10" x2="103.20" y2="323.10" stroke="#111" stroke-width="1.2"/>
<g fill="#b80d3c" fill-opacity="0.78"><rect x="94.4" y="339.5" width="1.2" height="1.2"/><rect x="94.4" y="303.8" width="1.2" height="1.2"/><rect x="91.5" y="337.6" width="1.2" height="1.2"/><rect x="91.5" y="333.8" width="1.2" height="1.2"/><rect x="93.9" y="323.8" width="1.2" height="1.2"/><rect x="91.4" y="329.8" width="1.2" height="1.2"/><rect x="91.8" y="329.8" width="1.2" height="1.2"/><rect x="94.1" y="321.7" width="1.2" height="1.2"/><rect x="96.3" y="326.3" width="1.2" height="1.2"/><rect x="94.0" y="328.1" width="1.2" height="1.2"/><rect x="94.1" y="330.3" width="1.2" height="1.2"/><rect x="99.6" y="341.3" width="1.2" height="1.2"/><rect x="95.0" y="340.8" width="1.2" height="1.2"/><rect x="91.8" y="315.8" width="1.2" height="1.2"/><rect x="93.9" y="322.3" width="1.2" height="1.2"/><rect x="92.3" y="319.2" width="1.2" height="1.2"/><rect x="91.1" y="348.1" width="1.2" height="1.2"/><rect x="92.2" y="338.2" width="1.2" height="1.2"/><rect x="95.7" y="316.5" width="1.2" height="1.2"/><rect x="99.5" y="338.7" width="1.2" height="1.2"/><rect x="98.5" y="324.6" width="1.2" height="1.2"/><rect x="94.1" y="318.1" width="1.2" height="1.2"/><rect x="92.4" y="311.4" width="1.2" height="1.2"/><rect x="97.7" y="324.1" width="1.2" height="1.2"/><rect x="93.8" y="304.5" width="1.2" height="1.2"/><rect x="99.5" y="326.0" width="1.2" height="1.2"/><rect x="98.4" y="347.1" width="1.2" height="1.2"/><rect x="97.4" y="330.7" width="1.2" height="1.2"/><rect x="94.0" y="324.2" width="1.2" height="1.2"/><rect x="91.2" y="338.5" width="1.2" height="1.2"/><rect x="93.2" y="332.9" width="1.2" height="1.2"/><rect x="97.0" y="323.7" width="1.2" height="1.2"/><rect x="99.1" y="336.5" width="1.2" height="1.2"/><rect x="99.6" y="317.6" width="1.2" height="1.2"/><rect x="92.9" y="334.6" width="1.2" height="1.2"/><rect x="92.9" y="318.0" width="1.2" height="1.2"/><rect x="96.4" y="324.8" width="1.2" height="1.2"/><rect x="98.8" y="330.7" width="1.2" height="1.2"/><rect x="96.6" y="330.4" width="1.2" height="1.2"/><rect x="97.9" y="308.1" width="1.2" height="1.2"/><rect x="98.9" y="339.5" width="1.2" height="1.2"/><rect x="97.8" y="332.2" width="1.2" height="1.2"/><rect x="92.5" y="321.7" width="1.2" height="1.2"/><rect x="97.8" y="305.6" width="1.2" height="1.2"/><rect x="99.4" y="309.2" width="1.2" height="1.2"/></g>
<line x1="95.90" y1="303.50" x2="95.90" y2="314.20" stroke="#333" stroke-width="1.0"/>
<line x1="95.90" y1="330.40" x2="95.90" y2="347.90" stroke="#333" stroke-width="1.0"/>
<rect x="107.40" y="318.30" width="14.60" height="18.00" fill="none" stroke="#222" stroke-width="1"/>
<line x1="107.40" y1="324.20" x2="122.00" y2="324.20" stroke="#111" stroke-width="1.2"/>
<g fill="#b80d3c" fill-opacity="0.78"><rect x="118.0" y="314.1" width="1.2" height="1.2"/><rect x="116.1" y="336.4" width="1.2" height="1.2"/><rect x="111.0" y="330.6" width="1.2" height="1.2"/><rect x="117.6" y="333.8" width="1.2" height="1.2"/><rect x="117.0" y="329.8" width="1.2" height="1.2"/><rect x="118.3" y="318.4" width="1.2" height="1.2"/><rect x="114.5" y="318.7" width="1.2" height="1.2"/><rect x="110.9" y="314.6" width="1.2" height="1.2"/></g>
<line x1="114.70" y1="311.50" x2="114.70" y2="318.30" stroke="#333" stroke-width="1.0"/>
<line x1="114.70" y1="336.30" x2="114.70" y2="339.00" stroke="#333" stroke-width="1.0"/>
<rect x="126.70" y="320.80" width="14.60" height="17.20" fill="none" stroke="#222" stroke-width="1"/>
<line x1="126.70" y1="330.20" x2="141.30" y2="330.20" stroke="#111" stroke-width="1.2"/>
<g fill="#b80d3c" fill-opacity="0.78"><rect x="134.7" y="332.4" width="1.2" height="1.2"/><rect x="132.8" y="323.0" width="1.2" height="1.2"/><rect x="130.9" y="348.2" width="1.2" height="1.2"/><rect x="131.2" y="308.6" width="1.2" height="1.2"/><rect x="134.2" y="325.8" width="1.2" height="1.2"/><rect x="131.3" y="339.5" width="1.2" height="1.2"/><rect x="137.0" y="321.9" width="1.2" height="1.2"/><rect x="132.1" y="332.7" width="1.2" height="1.2"/><rect x="136.9" y="309.7" width="1.2" height="1.2"/><rect x="132.7" y="333.9" width="1.2" height="1.2"/><rect x="133.7" y="344.1" width="1.2" height="1.2"/><rect x="133.6" y="320.1" width="1.2" height="1.2"/><rect x="130.6" y="344.8" width="1.2" height="1.2"/><rect x="129.1" y="330.7" width="1.2" height="1.2"/><rect x="133.2" y="331.6" width="1.2" height="1.2"/><rect x="135.4" y="320.0" width="1.2" height="1.2"/><rect x="133.6" y="316.3" width="1.2" height="1.2"/><rect x="133.9" y="324.2" width="1.2" height="1.2"/><rect x="133.9" y="330.3" width="1.2" height="1.2"/><rect x="131.2" y="321.9" width="1.2" height="1.2"/><rect x="133.5" y="324.5" width="1.2" height="1.2"/><rect x="133.9" y="354.2" width="1.2" height="1.2"/><rect x="132.9" y="330.9" width="1.2" height="1.2"/><rect x="133.5" y="315.3" width="1.2" height="1.2"/><rect x="135.1" y="317.3" width="1.2" height="1.2"/><rect x="133.2" y="311.2" width="1.2" height="1.2"/><rect x="137.3" y="334.2" width="1.2" height="1.2"/><rect x="137.3" y="319.2" width="1.2" height="1.2"/><rect x="131.3" y="299.8" width="1.2" height="1.2"/><rect x="136.4" y="315.7" width="1.2" height="1.2"/><rect x="132.9" y="333.8" width="1.2" height="1.2"/><rect x="129.7" y="334.6" width="1.2" height="1.2"/><rect x="134.9" y="329.1" width="1.2" height="1.2"/><rect x="135.9" y="334.6" width="1.2" height="1.2"/><rect x="135.3" y="335.7" width="1.2" height="1.2"/><rect x="134.8" y="323.6" width="1.2" height="1.2"/><rect x="137.5" y="348.1" width="1.2" height="1.2"/><rect x="130.9" y="353.0" width="1.2" height="1.2"/><rect x="133.3" y="343.2" width="1.2" height="1.2"/><rect x="137.7" y="324.4" width="1.2" height="1.2"/><rect x="132.8" y="333.2" width="1.2" height="1.2"/><rect x="133.5" y="321.1" width="1.2" height="1.2"/><rect x="131.8" y="323.6" width="1.2" height="1.2"/><rect x="135.3" y="337.2" width="1.2" height="1.2"/><rect x="132.9" y="347.7" width="1.2" height="1.2"/><rect x="129.2" y="331.1" width="1.2" height="1.2"/><rect x="133.5" y="318.6" width="1.2" height="1.2"/><rect x="129.6" y="347.0" width="1.2" height="1.2"/><rect x="137.5" y="355.0" width="1.2" height="1.2"/><rect x="129.9" y="326.3" width="1.2" height="1.2"/><rect x="135.8" y="328.4" width="1.2" height="1.2"/><rect x="131.4" y="333.0" width="1.2" height="1.2"/><rect x="137.0" y="339.6" width="1.2" height="1.2"/><rect x="136.2" y="340.2" width="1.2" height="1.2"/><rect x="137.1" y="328.3" width="1.2" height="1.2"/><rect x="134.0" y="337.3" width="1.2" height="1.2"/><rect x="129.5" y="326.8" width="1.2" height="1.2"/><rect x="135.0" y="322.6" width="1.2" height="1.2"/><rect x="137.2" y="323.6" width="1.2" height="1.2"/><rect x="134.6" y="331.4" width="1.2" height="1.2"/><rect x="136.5" y="330.8" width="1.2" height="1.2"/><rect x="129.6" y="322.9" width="1.2" height="1.2"/><rect x="132.0" y="339.5" width="1.2" height="1.2"/><rect x="133.9" y="316.3" width="1.2" height="1.2"/><rect x="130.2" y="339.4" width="1.2" height="1.2"/><rect x="133.6" y="323.5" width="1.2" height="1.2"/><rect x="130.4" y="329.3" width="1.2" height="1.2"/><rect x="129.5" y="336.0" width="1.2" height="1.2"/><rect x="131.7" y="332.7" width="1.2" height="1.2"/><rect x="135.7" y="341.1" width="1.2" height="1.2"/><rect x="130.6" y="324.4" width="1.2" height="1.2"/><rect x="132.1" y="345.9" width="1.2" height="1.2"/><rect x="129.2" y="340.1" width="1.2" height="1.2"/><rect x="135.4" y="330.1" width="1.2" height="1.2"/><rect x="133.2" y="319.6" width="1.2" height="1.2"/><rect x="137.2" y="325.7" width="1.2" height="1.2"/><rect x="132.8" y="350.5" width="1.2" height="1.2"/><rect x="133.4" y="345.9" width="1.2" height="1.2"/><rect x="133.5" y="336.4" width="1.2" height="1.2"/><rect x="135.0" y="315.9" width="1.2" height="1.2"/><rect x="136.3" y="342.4" width="1.2" height="1.2"/><rect x="135.2" y="327.3" width="1.2" height="1.2"/><rect x="132.1" y="318.8" width="1.2" height="1.2"/><rect x="129.5" y="317.3" width="1.2" height="1.2"/><rect x="135.5" y="332.7" width="1.2" height="1.2"/><rect x="131.3" y="333.0" width="1.2" height="1.2"/><rect x="136.4" y="332.1" width="1.2" height="1.2"/><rect x="136.6" y="334.2" width="1.2" height="1.2"/><rect x="131.1" y="323.0" width="1.2" height="1.2"/><rect x="131.6" y="318.1" width="1.2" height="1.2"/><rect x="132.9" y="320.3" width="1.2" height="1.2"/><rect x="131.3" y="331.0" width="1.2" height="1.2"/><rect x="133.8" y="319.3" width="1.2" height="1.2"/><rect x="131.7" y="330.2" width="1.2" height="1.2"/><rect x="132.4" y="328.4" width="1.2" height="1.2"/><rect x="133.2" y="329.3" width="1.2" height="1.2"/><rect x="133.4" y="318.8" width="1.2" height="1.2"/><rect x="129.1" y="328.6" width="1.2" height="1.2"/><rect x="132.5" y="328.2" width="1.2" height="1.2"/><rect x="129.4" y="335.3" width="1.2" height="1.2"/><rect x="131.1" y="341.4" width="1.2" height="1.2"/><rect x="134.1" y="330.6" width="1.2" height="1.2"/><rect x="134.8" y="304.3" width="1.2" height="1.2"/><rect x="135.3" y="324.3" width="1.2" height="1.2"/><rect x="131.9" y="339.6" width="1.2" height="1.2"/><rect x="137.6" y="318.6" width="1.2" height="1.2"/><rect x="134.7" y="343.0" width="1.2" height="1.2"/><rect x="129.4" y="348.2" width="1.2" height="1.2"/><rect x="134.5" y="344.9" width="1.2" height="1.2"/><rect x="135.4" y="301.7" width="1.2" height="1.2"/><rect x="133.6" y="331.9" width="1.2" height="1.2"/><rect x="133.4" y="321.2" width="1.2" height="1.2"/><rect x="136.3" y="342.6" width="1.2" height="1.2"/><rect x="134.1" y="305.5" width="1.2" height="1.2"/><rect x="135.1" y="346.5" width="1.2" height="1.2"/><rect x="131.0" y="314.7" width="1.2" height="1.2"/><rect x="132.2" y="336.6" width="1.2" height="1.2"/><rect x="129.9" y="330.4" width="1.2" height="1.2"/><rect x="134.5" y="338.6" width="1.2" height="1.2"/><rect x="134.5" y="312.4" width="1.2" height="1.2"/><rect x="129.0" y="321.5" width="1.2" height="1.2"/><rect x="136.0" y="313.1" width="1.2" height="1.2"/><rect x="133.7" y="328.6" width="1.2" height="1.2"/><rect x="134.8" y="311.1" width="1.2" height="1.2"/><rect x="131.2" y="351.2" width="1.2" height="1.2"/><rect x="129.7" y="338.7" width="1.2" height="1.2"/><rect x="130.8" y="326.4" width="1.2" height="1.2"/><rect x="135.5" y="352.9" width="1.2" height="1.2"/><rect x="132.4" y="346.1" width="1.2" height="1.2"/><rect x="133.2" y="326.1" width="1.2" height="1.2"/><rect x="134.4" y="318.5" width="1.2" height="1.2"/><rect x="134.7" y="305.5" width="1.2" height="1.2"/><rect x="131.2" y="336.3" width="1.2" height="1.2"/><rect x="135.5" y="332.8" width="1.2" height="1.2"/><rect x="129.1" y="322.3" width="1.2" height="1.2"/><rect x="129.6" y="347.1" width="1.2" height="1.2"/><rect x="135.1" y="326.2" width="1.2" height="1.2"/><rect x="134.9" y="351.0" width="1.2" height="1.2"/><rect x="133.1" y="324.2" width="1.2" height="1.2"/><rect x="133.1" y="346.2" width="1.2" height="1.2"/><rect x="130.8" y="352.1" width="1.2" height="1.2"/><rect x="137.6" y="350.3" width="1.2" height="1.2"/><rect x="133.0" y="331.4" width="1.2" height="1.2"/><rect x="136.2" y="327.7" width="1.2" height="1.2"/><rect x="131.4" y="344.8" width="1.2" height="1.2"/><rect x="130.9" y="325.5" width="1.2" height="1.2"/><rect x="134.1" y="338.5" width="1.2" height="1.2"/><rect x="130.3" y="325.4" width="1.2" height="1.2"/><rect x="130.2" y="323.2" width="1.2" height="1.2"/><rect x="136.8" y="336.4" width="1.2" height="1.2"/><rect x="135.2" y="312.7" width="1.2" height="1.2"/><rect x="133.3" y="332.5" width="1.2" height="1.2"/><rect x="133.3" y="330.1" width="1.2" height="1.2"/><rect x="133.0" y="329.0" width="1.2" height="1.2"/><rect x="132.0" y="326.2" width="1.2" height="1.2"/><rect x="131.8" y="336.6" width="1.2" height="1.2"/><rect x="135.6" y="329.3" width="1.2" height="1.2"/><rect x="136.4" y="328.1" width="1.2" height="1.2"/><rect x="135.3" y="353.7" width="1.2" height="1.2"/><rect x="136.9" y="352.2" width="1.2" height="1.2"/><rect x="132.5" y="325.2" width="1.2" height="1.2"/><rect x="137.8" y="342.8" width="1.2" height="1.2"/><rect x="132.8" y="316.8" width="1.2" height="1.2"/><rect x="131.4" y="321.3" width="1.2" height="1.2"/><rect x="136.3" y="335.4" width="1.2" height="1.2"/><rect x="131.5" y="330.9" width="1.2" height="1.2"/><rect x="131.3" y="339.2" width="1.2" height="1.2"/><rect x="133.5" y="324.3" width="1.2" height="1.2"/><rect x="137.4" y="334.1" width="1.2" height="1.2"/><rect x="136.8" y="342.2" width="1.2" height="1.2"/><rect x="137.0" y="336.8" width="1.2" height="1.2"/><rect x="137.3" y="309.3" width="1.2" height="1.2"/><rect x="129.5" y="306.1" width="1.2" height="1.2"/><rect x="135.4" y="321.5" width="1.2" height="1.2"/><rect x="134.7" y="305.0" width="1.2" height="1.2"/><rect x="131.5" y="336.4" width="1.2" height="1.2"/><rect x="130.1" y="339.2" width="1.2" height="1.2"/><rect x="131.6" y="315.3" width="1.2" height="1.2"/><rect x="135.5" y="331.2" width="1.2" height="1.2"/><rect x="134.8" y="340.3" width="1.2" height="1.2"/><rect x="131.7" y="327.1" width="1.2" height="1.2"/><rect x="130.5" y="314.8" width="1.2" height="1.2"/><rect x="130.4" y="323.5" width="1.2" height="1.2"/><rect x="133.4" y="337.3" width="1.2" height="1.2"/><rect x="137.7" y="334.9" width="1.2" height="1.2"/><rect x="130.7" y="321.0" width="1.2" height="1.2"/><rect x="129.8" y="331.3" width="1.2" height="1.2"/><rect x="131.1" y="325.2" width="1.2" height="1.2"/><rect x="131.3" y="334.3" width="1.2" height="1.2"/><rect x="135.6" y="300.5" width="1.2" height="1.2"/><rect x="132.6" y="315.6" width="1.2" height="1.2"/><rect x="132.3" y="313.2" width="1.2" height="1.2"/><rect x="132.0" y="338.2" width="1.2" height="1.2"/><rect x="137.5" y="340.0" width="1.2" height="1.2"/><rect x="130.1" y="333.4" width="1.2" height="1.2"/><rect x="136.6" y="307.7" width="1.2" height="1.2"/><rect x="130.9" y="328.4" width="1.2" height="1.2"/><rect x="132.5" y="327.3" width="1.2" height="1.2"/><rect x="132.9" y="340.0" width="1.2" height="1.2"/><rect x="136.7" y="356.7" width="1.2" height="1.2"/><rect x="129.2" y="320.5" width="1.2" height="1.2"/><rect x="136.9" y="351.8" width="1.2" height="1.2"/><rect x="133.2" y="333.5" width="1.2" height="1.2"/><rect x="132.4" y="328.6" width="1.2" height="1.2"/><rect x="137.1" y="328.7" width="1.2" height="1.2"/><rect x="137.5" y="342.3" width="1.2" height="1.2"/><rect x="131.2" y="302.6" width="1.2" height="1.2"/><rect x="133.6" y="335.5" width="1.2" height="1.2"/><rect x="135.0" y="334.3" width="1.2" height="1.2"/><rect x="134.7" y="351.1" width="1.2" height="1.2"/><rect x="135.7" y="320.2" width="1.2" height="1.2"/><rect x="129.4" y="310.5" width="1.2" height="1.2"/><rect x="135.9" y="333.8" width="1.2" height="1.2"/><rect x="134.7" y="332.5" width="1.2" height="1.2"/><rect x="131.2" y="326.2" width="1.2" height="1.2"/><rect x="134.6" y="336.2" width="1.2" height="1.2"/><rect x="129.6" y="326.5" width="1.2" height="1.2"/><rect x="133.6" y="321.9" width="1.2" height="1.2"/><rect x="131.0" y="315.9" width="1.2" height="1.2"/><rect x="134.3" y="321.4" width="1.2" height="1.2"/><rect x="133.1" y="341.4" width="1.2" height="1.2"/><rect x="137.4" y="329.6" width="1.2" height="1.2"/><rect x="133.2" y="309.7" width="1.2" height="1.2"/><rect x="131.1" y="304.3" width="1.2" height="1.2"/><rect x="135.2" y="329.5" width="1.2" height="1.2"/><rect x="133.4" y="327.7" width="1.2" height="1.2"/><rect x="134.9" y="331.7" width="1.2" height="1.2"/><rect x="134.9" y="318.7" width="1.2" height="1.2"/><rect x="137.1" y="334.4" width="1.2" height="1.2"/><rect x="132.0" y="329.4" width="1.2" height="1.2"/><rect x="132.7" y="332.7" width="1.2" height="1.2"/><rect x="136.0" y="324.7" width="1.2" height="1.2"/><rect x="135.5" y="319.7" width="1.2" height="1.2"/><rect x="137.5" y="318.7" width="1.2" height="1.2"/><rect x="131.8" y="328.5" width="1.2" height="1.2"/><rect x="131.0" y="333.4" width="1.2" height="1.2"/><rect x="135.7" y="319.0" width="1.2" height="1.2"/><rect x="133.4" y="318.5" width="1.2" height="1.2"/><rect x="132.7" y="332.9" width="1.2" height="1.2"/><rect x="134.8" y="338.6" width="1.2" height="1.2"/><rect x="132.5" y="336.8" width="1.2" height="1.2"/><rect x="130.9" y="326.1" width="1.2" height="1.2"/><rect x="129.5" y="337.0" width="1.2" height="1.2"/><rect x="129.5" y="327.5" width="1.2" height="1.2"/><rect x="136.8" y="303.7" width="1.2" height="1.2"/><rect x="135.4" y="348.7" width="1.2" height="1.2"/><rect x="131.9" y="328.3" width="1.2" height="1.2"/><rect x="135.6" y="342.6" width="1.2" height="1.2"/><rect x="132.3" y="350.5" width="1.2" height="1.2"/><rect x="132.3" y="333.2" width="1.2" height="1.2"/><rect x="129.0" y="324.3" width="1.2" height="1.2"/><rect x="131.5" y="336.7" width="1.2" height="1.2"/><rect x="130.1" y="306.6" width="1.2" height="1.2"/><rect x="137.5" y="358.8" width="1.2" height="1.2"/><rect x="136.2" y="332.5" width="1.2" height="1.2"/><rect x="136.2" y="342.3" width="1.2" height="1.2"/><rect x="133.2" y="324.5" width="1.2" height="1.2"/><rect x="132.3" y="330.8" width="1.2" height="1.2"/><rect x="132.2" y="337.4" width="1.2" height="1.2"/><rect x="136.9" y="324.1" width="1.2" height="1.2"/><rect x="136.1" y="343.9" width="1.2" height="1.2"/><rect x="135.7" y="331.7" width="1.2" height="1.2"/><rect x="129.6" y="332.7" width="1.2" height="1.2"/><rect x="137.1" y="329.8" width="1.2" height="1.2"/><rect x="136.9" y="327.7" width="1.2" height="1.2"/><rect x="132.0" y="353.6" width="1.2" height="1.2"/><rect x="134.4" y="323.5" width="1.2" height="1.2"/><rect x="131.8" y="327.0" width="1.2" height="1.2"/><rect x="131.4" y="352.5" width="1.2" height="1.2"/><rect x="137.0" y="353.9" width="1.2" height="1.2"/><rect x="134.6" y="329.4" width="1.2" height="1.2"/><rect x="131.1" y="331.9" width="1.2" height="1.2"/><rect x="133.2" y="327.6" width="1.2" height="1.2"/><rect x="132.4" y="318.8" width="1.2" height="1.2"/><rect x="133.3" y="328.7" width="1.2" height="1.2"/><rect x="137.2" y="344.7" width="1.2" height="1.2"/><rect x="135.5" y="339.8" width="1.2" height="1.2"/><rect x="136.2" y="353.4" width="1.2" height="1.2"/><rect x="131.9" y="331.7" width="1.2" height="1.2"/><rect x="131.8" y="308.6" width="1.2" height="1.2"/><rect x="129.7" y="311.9" width="1.2" height="1.2"/><rect x="130.7" y="348.7" width="1.2" height="1.2"/><rect x="129.6" y="329.0" width="1.2" height="1.2"/><rect x="129.3" y="317.5" width="1.2" height="1.2"/><rect x="137.6" y="316.2" width="1.2" height="1.2"/><rect x="136.8" y="324.5" width="1.2" height="1.2"/><rect x="129.8" y="340.5" width="1.2" height="1.2"/><rect x="129.9" y="327.9" width="1.2" height="1.2"/><rect x="132.9" y="305.3" width="1.2" height="1.2"/><rect x="131.1" y="329.0" width="1.2" height="1.2"/><rect x="134.9" y="310.8" width="1.2" height="1.2"/><rect x="135.6" y="339.2" width="1.2" height="1.2"/><rect x="130.1" y="341.5" width="1.2" height="1.2"/><rect x="136.4" y="310.7" width="1.2" height="1.2"/><rect x="132.3" y="323.5" width="1.2" height="1.2"/><rect x="135.5" y="347.4" width="1.2" height="1.2"/><rect x="131.2" y="332.3" width="1.2" height="1.2"/><rect x="130.4" y="339.5" width="1.2" height="1.2"/><rect x="131.9" y="343.5" width="1.2" height="1.2"/><rect x="132.5" y="315.7" width="1.2" height="1.2"/><rect x="131.0" y="346.6" width="1.2" height="1.2"/><rect x="136.1" y="328.0" width="1.2" height="1.2"/><rect x="129.9" y="302.6" width="1.2" height="1.2"/><rect x="136.4" y="301.5" width="1.2" height="1.2"/><rect x="137.0" y="333.2" width="1.2" height="1.2"/><rect x="130.1" y="340.9" width="1.2" height="1.2"/><rect x="130.7" y="331.9" width="1.2" height="1.2"/><rect x="137.2" y="348.3" width="1.2" height="1.2"/><rect x="132.3" y="325.5" width="1.2" height="1.2"/><rect x="131.3" y="339.7" width="1.2" height="1.2"/><rect x="135.8" y="316.6" width="1.2" height="1.2"/><rect x="134.2" y="335.5" width="1.2" height="1.2"/><rect x="134.5" y="326.4" width="1.2" height="1.2"/><rect x="130.3" y="331.7" width="1.2" height="1.2"/><rect x="130.8" y="342.9" width="1.2" height="1.2"/><rect x="134.7" y="328.2" width="1.2" height="1.2"/><rect x="130.8" y="349.0" width="1.2" height="1.2"/><rect x="135.0" y="342.1" width="1.2" height="1.2"/><rect x="130.6" y="329.8" width="1.2" height="1.2"/><rect x="136.0" y="325.0" width="1.2" height="1.2"/><rect x="133.8" y="338.1" width="1.2" height="1.2"/><rect x="132.5" y="335.2" width="1.2" height="1.2"/><rect x="133.8" y="331.5" width="1.2" height="1.2"/><rect x="130.5" y="324.6" width="1.2" height="1.2"/><rect x="135.1" y="323.8" width="1.2" height="1.2"/><rect x="131.7" y="318.5" width="1.2" height="1.2"/><rect x="137.4" y="335.4" width="1.2" height="1.2"/><rect x="132.1" y="321.4" width="1.2" height="1.2"/><rect x="132.7" y="346.7" width="1.2" height="1.2"/><rect x="135.4" y="322.3" width="1.2" height="1.2"/><rect x="130.8" y="336.3" width="1.2" height="1.2"/><rect x="132.7" y="330.0" width="1.2" height="1.2"/><rect x="136.8" y="335.3" width="1.2" height="1.2"/><rect x="133.1" y="315.0" width="1.2" height="1.2"/><rect x="133.9" y="330.2" width="1.2" height="1.2"/><rect x="134.6" y="331.0" width="1.2" height="1.2"/><rect x="134.5" y="334.2" width="1.2" height="1.2"/><rect x="132.3" y="325.3" width="1.2" height="1.2"/><rect x="131.5" y="320.4" width="1.2" height="1.2"/><rect x="133.6" y="328.6" width="1.2" height="1.2"/><rect x="133.3" y="335.2" width="1.2" height="1.2"/><rect x="136.1" y="325.6" width="1.2" height="1.2"/><rect x="130.1" y="338.5" width="1.2" height="1.2"/><rect x="137.3" y="326.8" width="1.2" height="1.2"/><rect x="129.5" y="345.8" width="1.2" height="1.2"/><rect x="137.1" y="326.2" width="1.2" height="1.2"/><rect x="134.5" y="304.1" width="1.2" height="1.2"/><rect x="136.2" y="349.8" width="1.2" height="1.2"/><rect x="131.0" y="342.8" width="1.2" height="1.2"/><rect x="132.6" y="351.0" width="1.2" height="1.2"/><rect x="130.6" y="344.8" width="1.2" height="1.2"/><rect x="130.9" y="305.7" width="1.2" height="1.2"/><rect x="132.4" y="314.2" width="1.2" height="1.2"/><rect x="130.1" y="339.4" width="1.2" height="1.2"/><rect x="136.9" y="329.2" width="1.2" height="1.2"/><rect x="129.4" y="352.8" width="1.2" height="1.2"/><rect x="129.4" y="305.5" width="1.2" height="1.2"/><rect x="136.4" y="319.2" width="1.2" height="1.2"/><rect x="133.8" y="343.7" width="1.2" height="1.2"/><rect x="134.5" y="342.4" width="1.2" height="1.2"/><rect x="134.1" y="323.4" width="1.2" height="1.2"/><rect x="132.7" y="343.4" width="1.2" height="1.2"/><rect x="132.9" y="320.0" width="1.2" height="1.2"/><rect x="129.2" y="315.1" width="1.2" height="1.2"/><rect x="131.1" y="316.1" width="1.2" height="1.2"/><rect x="135.7" y="317.0" width="1.2" height="1.2"/><rect x="130.6" y="331.9" width="1.2" height="1.2"/><rect x="133.2" y="312.5" width="1.2" height="1.2"/><rect x="132.8" y="334.9" width="1.2" height="1.2"/><rect x="129.8" y="333.7" width="1.2" height="1.2"/><rect x="129.4" y="312.1" width="1.2" height="1.2"/><rect x="134.6" y="335.2" width="1.2" height="1.2"/><rect x="135.8" y="349.9" width="1.2" height="1.2"/><rect x="133.5" y="340.8" width="1.2" height="1.2"/><rect x="132.3" y="345.5" width="1.2" height="1.2"/><rect x="137.3" y="334.7" width="1.2" height="1.2"/><rect x="137.7" y="348.1" width="1.2" height="1.2"/><rect x="135.4" y="351.1" width="1.2" height="1.2"/><rect x="137.6" y="332.7" width="1.2" height="1.2"/><rect x="133.3" y="319.8" width="1.2" height="1.2"/><rect x="130.5" y="319.8" width="1.2" height="1.2"/><rect x="129.6" y="337.1" width="1.2" height="1.2"/><rect x="130.4" y="313.9" width="1.2" height="1.2"/><rect x="136.9" y="349.0" width="1.2" height="1.2"/><rect x="130.3" y="324.5" width="1.2" height="1.2"/><rect x="133.4" y="356.0" width="1.2" height="1.2"/><rect x="131.3" y="337.8" width="1.2" height="1.2"/><rect x="133.5" y="323.9" width="1.2" height="1.2"/><rect x="130.6" y="327.1" width="1.2" height="1.2"/><rect x="130.4" y="332.5" width="1.2" height="1.2"/><rect x="136.9" y="349.6" width="1.2" height="1.2"/><rect x="130.5" y="320.0" width="1.2" height="1.2"/><rect x="133.7" y="330.4" width="1.2" height="1.2"/><rect x="134.6" y="321.6" width="1.2" height="1.2"/><rect x="133.9" y="309.5" width="1.2" height="1.2"/><rect x="134.1" y="352.2" width="1.2" height="1.2"/><rect x="137.7" y="334.0" width="1.2" height="1.2"/><rect x="134.5" y="324.1" width="1.2" height="1.2"/><rect x="131.3" y="307.8" width="1.2" height="1.2"/><rect x="137.7" y="345.3" width="1.2" height="1.2"/><rect x="135.7" y="316.3" width="1.2" height="1.2"/><rect x="132.9" y="322.2" width="1.2" height="1.2"/><rect x="129.4" y="339.8" width="1.2" height="1.2"/><rect x="136.2" y="350.9" width="1.2" height="1.2"/><rect x="137.6" y="328.3" width="1.2" height="1.2"/><rect x="134.2" y="350.2" width="1.2" height="1.2"/><rect x="129.0" y="322.1" width="1.2" height="1.2"/><rect x="129.3" y="317.7" width="1.2" height="1.2"/><rect x="132.8" y="341.0" width="1.2" height="1.2"/><rect x="133.5" y="345.5" width="1.2" height="1.2"/><rect x="131.0" y="335.1" width="1.2" height="1.2"/><rect x="134.7" y="323.9" width="1.2" height="1.2"/><rect x="132.1" y="329.9" width="1.2" height="1.2"/><rect x="130.0" y="329.0" width="1.2" height="1.2"/><rect x="134.1" y="322.2" width="1.2" height="1.2"/><rect x="134.2" y="337.1" width="1.2" height="1.2"/><rect x="133.2" y="334.7" width="1.2" height="1.2"/><rect x="130.2" y="348.9" width="1.2" height="1.2"/><rect x="130.3" y="339.1" width="1.2" height="1.2"/><rect x="129.9" y="324.5" width="1.2" height="1.2"/><rect x="135.9" y="309.2" width="1.2" height="1.2"/><rect x="132.5" y="305.7" width="1.2" height="1.2"/><rect x="134.7" y="328.6" width="1.2" height="1.2"/><rect x="133.9" y="331.1" width="1.2" height="1.2"/><rect x="132.9" y="316.1" width="1.2" height="1.2"/><rect x="137.2" y="346.2" width="1.2" height="1.2"/><rect x="136.9" y="327.6" width="1.2" height="1.2"/><rect x="129.4" y="317.6" width="1.2" height="1.2"/><rect x="131.1" y="313.8" width="1.2" height="1.2"/><rect x="129.5" y="325.8" width="1.2" height="1.2"/></g>
<line x1="134.00" y1="298.00" x2="134.00" y2="320.80" stroke="#333" stroke-width="1.0"/>
<line x1="134.00" y1="338.00" x2="134.00" y2="359.00" stroke="#333" stroke-width="1.0"/>
<line x1="57.50" y1="362.70" x2="57.50" y2="366.80" stroke="#000" stroke-width="1.2"/>
<text x="61.50" y="375.30" font-size="9.4" fill="#111" text-anchor="end" textLength="9.72" lengthAdjust="spacingAndGlyphs" transform="rotate(-45 61.50 375.30)">12</text>
<line x1="76.50" y1="362.70" x2="76.50" y2="366.80" stroke="#000" stroke-width="1.2"/>
<text x="80.50" y="375.30" font-size="9.4" fill="#111" text-anchor="end" textLength="9.72" lengthAdjust="spacingAndGlyphs" transform="rotate(-45 80.50 375.30)">13</text>
<line x1="95.90" y1="362.70" x2="95.90" y2="366.80" stroke="#000" stroke-width="1.2"/>
<text x="99.90" y="375.30" font-size="9.4" fill="#111" text-anchor="end" textLength="9.72" lengthAdjust="spacingAndGlyphs" transform="rotate(-45 99.90 375.30)">61</text>
<line x1="114.70" y1="362.70" x2="114.70" y2="366.80" stroke="#000" stroke-width="1.2"/>
<text x="118.70" y="375.30" font-size="9.4" fill="#111" text-anchor="end" textLength="21.86" lengthAdjust="spacingAndGlyphs" transform="rotate(-45 118.70 375.30)">Other</text>
<line x1="134.00" y1="362.70" x2="134.00" y2="366.80" stroke="#000" stroke-width="1.2"/>
<text x="138.00" y="375.30" font-size="9.4" fill="#111" text-anchor="end" textLength="13.59" lengthAdjust="spacingAndGlyphs" transform="rotate(-45 138.00 375.30)">WT</text>
<line x1="169.20" y1="267.40" x2="258.80" y2="267.40" stroke="#b0163c" stroke-width="1.2"/>
<text x="214.50" y="265.00" font-size="7.4" fill="#b0163c" text-anchor="middle">0.3</text>
<line x1="197.00" y1="280.40" x2="215.00" y2="280.40" stroke="#111" stroke-width="1.1"/>
<text x="206.00" y="278.20" font-size="7.2" fill="#222" text-anchor="middle">0.230</text>
<line x1="219.00" y1="280.40" x2="242.00" y2="280.40" stroke="#111" stroke-width="1.1"/>
<text x="230.50" y="278.20" font-size="7.2" fill="#222" text-anchor="middle">0.0214</text>
<line x1="180.50" y1="292.30" x2="215.00" y2="292.30" stroke="#111" stroke-width="1.1"/>
<text x="197.75" y="290.10" font-size="7.2" fill="#222" text-anchor="middle">0.325</text>
<line x1="219.00" y1="292.30" x2="253.70" y2="292.30" stroke="#111" stroke-width="1.1"/>
<text x="236.35" y="290.10" font-size="7.2" fill="#222" text-anchor="middle">5.01e-4</text>
<line x1="167.90" y1="294.20" x2="167.90" y2="363.30" stroke="#000" stroke-width="1.3"/>
<line x1="167.30" y1="362.70" x2="265.50" y2="362.70" stroke="#000" stroke-width="1.3"/>
<line x1="163.90" y1="304.40" x2="167.90" y2="304.40" stroke="#000" stroke-width="1.1"/>
<text x="159.10" y="307.06" font-size="7.4" fill="#111" text-anchor="end">2</text>
<line x1="163.90" y1="315.80" x2="167.90" y2="315.80" stroke="#000" stroke-width="1.1"/>
<text x="159.10" y="318.46" font-size="7.4" fill="#111" text-anchor="end">1</text>
<line x1="163.90" y1="327.20" x2="167.90" y2="327.20" stroke="#000" stroke-width="1.1"/>
<text x="159.10" y="329.86" font-size="7.4" fill="#111" text-anchor="end">0</text>
<line x1="163.90" y1="338.60" x2="167.90" y2="338.60" stroke="#000" stroke-width="1.1"/>
<text x="159.10" y="341.26" font-size="7.4" fill="#111" text-anchor="end">−1</text>
<line x1="163.90" y1="350.00" x2="167.90" y2="350.00" stroke="#000" stroke-width="1.1"/>
<text x="159.10" y="352.66" font-size="7.4" fill="#111" text-anchor="end">−2</text>
<line x1="163.90" y1="361.40" x2="167.90" y2="361.40" stroke="#000" stroke-width="1.1"/>
<text x="159.10" y="364.06" font-size="7.4" fill="#111" text-anchor="end">−3</text>
<rect x="172.00" y="316.50" width="14.60" height="17.00" fill="none" stroke="#222" stroke-width="1"/>
<line x1="172.00" y1="328.10" x2="186.60" y2="328.10" stroke="#111" stroke-width="1.2"/>
<g fill="#b80d3c" fill-opacity="0.78"><rect x="179.1" y="324.8" width="1.2" height="1.2"/><rect x="182.6" y="322.1" width="1.2" height="1.2"/><rect x="179.6" y="330.6" width="1.2" height="1.2"/><rect x="178.8" y="332.1" width="1.2" height="1.2"/><rect x="175.8" y="307.3" width="1.2" height="1.2"/><rect x="177.0" y="303.4" width="1.2" height="1.2"/><rect x="182.1" y="323.0" width="1.2" height="1.2"/><rect x="181.2" y="328.8" width="1.2" height="1.2"/><rect x="181.7" y="324.0" width="1.2" height="1.2"/><rect x="180.8" y="322.8" width="1.2" height="1.2"/><rect x="178.3" y="300.7" width="1.2" height="1.2"/><rect x="176.3" y="329.7" width="1.2" height="1.2"/><rect x="174.7" y="332.9" width="1.2" height="1.2"/><rect x="177.3" y="331.0" width="1.2" height="1.2"/><rect x="181.7" y="324.4" width="1.2" height="1.2"/><rect x="180.6" y="301.6" width="1.2" height="1.2"/><rect x="178.1" y="322.5" width="1.2" height="1.2"/><rect x="181.2" y="343.1" width="1.2" height="1.2"/><rect x="179.9" y="312.9" width="1.2" height="1.2"/><rect x="182.8" y="322.7" width="1.2" height="1.2"/><rect x="174.5" y="330.7" width="1.2" height="1.2"/><rect x="180.8" y="323.7" width="1.2" height="1.2"/><rect x="182.6" y="335.2" width="1.2" height="1.2"/><rect x="182.0" y="324.1" width="1.2" height="1.2"/><rect x="177.2" y="311.3" width="1.2" height="1.2"/><rect x="179.8" y="326.6" width="1.2" height="1.2"/><rect x="182.9" y="316.7" width="1.2" height="1.2"/><rect x="178.4" y="303.9" width="1.2" height="1.2"/><rect x="181.8" y="336.6" width="1.2" height="1.2"/><rect x="178.1" y="305.1" width="1.2" height="1.2"/><rect x="177.0" y="321.3" width="1.2" height="1.2"/><rect x="176.2" y="305.4" width="1.2" height="1.2"/><rect x="182.3" y="320.1" width="1.2" height="1.2"/><rect x="175.6" y="320.3" width="1.2" height="1.2"/></g>
<line x1="179.30" y1="301.20" x2="179.30" y2="316.50" stroke="#333" stroke-width="1.0"/>
<line x1="179.30" y1="333.50" x2="179.30" y2="342.90" stroke="#333" stroke-width="1.0"/>
<rect x="190.90" y="318.10" width="14.60" height="14.60" fill="none" stroke="#222" stroke-width="1"/>
<line x1="190.90" y1="330.00" x2="205.50" y2="330.00" stroke="#111" stroke-width="1.2"/>
<g fill="#b80d3c" fill-opacity="0.78"><rect x="201.4" y="330.7" width="1.2" height="1.2"/><rect x="196.2" y="325.8" width="1.2" height="1.2"/><rect x="193.6" y="326.7" width="1.2" height="1.2"/><rect x="199.3" y="327.2" width="1.2" height="1.2"/><rect x="199.7" y="311.7" width="1.2" height="1.2"/><rect x="193.8" y="310.2" width="1.2" height="1.2"/><rect x="200.4" y="314.6" width="1.2" height="1.2"/><rect x="200.4" y="318.3" width="1.2" height="1.2"/><rect x="200.8" y="328.4" width="1.2" height="1.2"/><rect x="201.2" y="321.8" width="1.2" height="1.2"/></g>
<line x1="198.20" y1="306.00" x2="198.20" y2="318.10" stroke="#333" stroke-width="1.0"/>
<line x1="198.20" y1="332.70" x2="198.20" y2="341.50" stroke="#333" stroke-width="1.0"/>
<rect x="209.70" y="316.00" width="14.60" height="14.80" fill="none" stroke="#222" stroke-width="1"/>
<line x1="209.70" y1="323.20" x2="224.30" y2="323.20" stroke="#111" stroke-width="1.2"/>
<g fill="#b80d3c" fill-opacity="0.78"><rect x="213.8" y="328.6" width="1.2" height="1.2"/><rect x="213.0" y="320.7" width="1.2" height="1.2"/><rect x="219.1" y="328.2" width="1.2" height="1.2"/><rect x="217.6" y="306.8" width="1.2" height="1.2"/><rect x="214.5" y="304.9" width="1.2" height="1.2"/><rect x="218.7" y="327.5" width="1.2" height="1.2"/><rect x="213.8" y="326.2" width="1.2" height="1.2"/><rect x="212.2" y="317.1" width="1.2" height="1.2"/><rect x="214.3" y="335.1" width="1.2" height="1.2"/><rect x="215.2" y="318.6" width="1.2" height="1.2"/><rect x="216.4" y="308.5" width="1.2" height="1.2"/><rect x="212.3" y="333.4" width="1.2" height="1.2"/><rect x="215.6" y="308.4" width="1.2" height="1.2"/><rect x="215.1" y="302.4" width="1.2" height="1.2"/><rect x="218.2" y="331.4" width="1.2" height="1.2"/><rect x="219.6" y="314.1" width="1.2" height="1.2"/><rect x="212.8" y="320.7" width="1.2" height="1.2"/><rect x="212.0" y="326.1" width="1.2" height="1.2"/><rect x="213.8" y="315.7" width="1.2" height="1.2"/><rect x="212.1" y="325.5" width="1.2" height="1.2"/><rect x="219.0" y="307.9" width="1.2" height="1.2"/><rect x="213.6" y="323.7" width="1.2" height="1.2"/><rect x="219.3" y="310.9" width="1.2" height="1.2"/><rect x="214.3" y="323.2" width="1.2" height="1.2"/><rect x="213.9" y="332.7" width="1.2" height="1.2"/><rect x="218.1" y="319.2" width="1.2" height="1.2"/><rect x="217.6" y="316.6" width="1.2" height="1.2"/><rect x="212.7" y="322.9" width="1.2" height="1.2"/><rect x="218.9" y="327.5" width="1.2" height="1.2"/><rect x="217.5" y="303.5" width="1.2" height="1.2"/></g>
<line x1="217.00" y1="303.30" x2="217.00" y2="316.00" stroke="#333" stroke-width="1.0"/>
<line x1="217.00" y1="330.80" x2="217.00" y2="336.20" stroke="#333" stroke-width="1.0"/>
<rect x="228.60" y="322.20" width="14.60" height="15.30" fill="none" stroke="#222" stroke-width="1"/>
<line x1="228.60" y1="328.90" x2="243.20" y2="328.90" stroke="#111" stroke-width="1.2"/>
<g fill="#b80d3c" fill-opacity="0.78"><rect x="234.4" y="320.9" width="1.2" height="1.2"/><rect x="238.7" y="339.9" width="1.2" height="1.2"/><rect x="233.2" y="338.2" width="1.2" height="1.2"/><rect x="238.8" y="330.7" width="1.2" height="1.2"/><rect x="238.7" y="316.3" width="1.2" height="1.2"/><rect x="233.0" y="329.2" width="1.2" height="1.2"/><rect x="237.5" y="333.2" width="1.2" height="1.2"/><rect x="234.0" y="329.6" width="1.2" height="1.2"/><rect x="238.3" y="325.7" width="1.2" height="1.2"/></g>
<line x1="235.90" y1="317.30" x2="235.90" y2="322.20" stroke="#333" stroke-width="1.0"/>
<line x1="235.90" y1="337.50" x2="235.90" y2="340.20" stroke="#333" stroke-width="1.0"/>
<rect x="248.20" y="319.50" width="14.60" height="17.20" fill="none" stroke="#222" stroke-width="1"/>
<line x1="248.20" y1="329.40" x2="262.80" y2="329.40" stroke="#111" stroke-width="1.2"/>
<g fill="#b80d3c" fill-opacity="0.78"><rect x="256.3" y="335.2" width="1.2" height="1.2"/><rect x="254.4" y="327.0" width="1.2" height="1.2"/><rect x="257.3" y="318.4" width="1.2" height="1.2"/><rect x="254.6" y="320.7" width="1.2" height="1.2"/><rect x="258.3" y="323.8" width="1.2" height="1.2"/><rect x="253.2" y="328.2" width="1.2" height="1.2"/><rect x="256.7" y="337.2" width="1.2" height="1.2"/><rect x="251.9" y="332.3" width="1.2" height="1.2"/><rect x="252.7" y="320.3" width="1.2" height="1.2"/><rect x="251.9" y="319.1" width="1.2" height="1.2"/><rect x="253.4" y="343.6" width="1.2" height="1.2"/><rect x="256.9" y="342.6" width="1.2" height="1.2"/><rect x="251.4" y="358.2" width="1.2" height="1.2"/><rect x="253.9" y="350.4" width="1.2" height="1.2"/><rect x="256.9" y="354.0" width="1.2" height="1.2"/><rect x="254.3" y="324.8" width="1.2" height="1.2"/><rect x="251.5" y="334.6" width="1.2" height="1.2"/><rect x="252.3" y="347.6" width="1.2" height="1.2"/><rect x="254.0" y="324.5" width="1.2" height="1.2"/><rect x="257.4" y="330.0" width="1.2" height="1.2"/><rect x="256.1" y="321.4" width="1.2" height="1.2"/><rect x="254.6" y="311.0" width="1.2" height="1.2"/><rect x="254.1" y="340.3" width="1.2" height="1.2"/><rect x="257.0" y="343.3" width="1.2" height="1.2"/><rect x="255.5" y="340.8" width="1.2" height="1.2"/><rect x="257.1" y="318.8" width="1.2" height="1.2"/><rect x="256.8" y="318.0" width="1.2" height="1.2"/><rect x="258.2" y="332.6" width="1.2" height="1.2"/><rect x="258.0" y="331.0" width="1.2" height="1.2"/><rect x="256.5" y="304.6" width="1.2" height="1.2"/><rect x="253.3" y="317.1" width="1.2" height="1.2"/><rect x="256.0" y="314.7" width="1.2" height="1.2"/><rect x="257.4" y="340.2" width="1.2" height="1.2"/><rect x="256.8" y="336.5" width="1.2" height="1.2"/><rect x="254.2" y="319.7" width="1.2" height="1.2"/><rect x="254.5" y="319.2" width="1.2" height="1.2"/><rect x="256.4" y="316.4" width="1.2" height="1.2"/><rect x="258.7" y="316.9" width="1.2" height="1.2"/><rect x="257.3" y="336.4" width="1.2" height="1.2"/><rect x="253.9" y="347.4" width="1.2" height="1.2"/><rect x="250.9" y="330.1" width="1.2" height="1.2"/><rect x="257.4" y="319.0" width="1.2" height="1.2"/><rect x="258.8" y="325.1" width="1.2" height="1.2"/><rect x="255.6" y="320.6" width="1.2" height="1.2"/><rect x="255.3" y="326.7" width="1.2" height="1.2"/><rect x="256.1" y="323.8" width="1.2" height="1.2"/><rect x="257.8" y="310.0" width="1.2" height="1.2"/><rect x="258.8" y="312.3" width="1.2" height="1.2"/><rect x="252.4" y="325.4" width="1.2" height="1.2"/><rect x="257.2" y="321.5" width="1.2" height="1.2"/><rect x="251.6" y="313.8" width="1.2" height="1.2"/><rect x="251.0" y="341.5" width="1.2" height="1.2"/><rect x="252.9" y="326.1" width="1.2" height="1.2"/><rect x="254.2" y="325.5" width="1.2" height="1.2"/><rect x="254.2" y="328.9" width="1.2" height="1.2"/><rect x="252.8" y="323.0" width="1.2" height="1.2"/><rect x="252.5" y="314.3" width="1.2" height="1.2"/><rect x="255.1" y="325.6" width="1.2" height="1.2"/><rect x="254.0" y="332.7" width="1.2" height="1.2"/><rect x="252.4" y="353.9" width="1.2" height="1.2"/><rect x="257.6" y="345.3" width="1.2" height="1.2"/><rect x="256.1" y="346.3" width="1.2" height="1.2"/><rect x="252.5" y="308.6" width="1.2" height="1.2"/><rect x="259.0" y="331.2" width="1.2" height="1.2"/><rect x="257.7" y="314.6" width="1.2" height="1.2"/><rect x="257.7" y="344.5" width="1.2" height="1.2"/><rect x="255.3" y="315.3" width="1.2" height="1.2"/><rect x="251.6" y="330.0" width="1.2" height="1.2"/><rect x="258.0" y="334.5" width="1.2" height="1.2"/><rect x="252.9" y="315.4" width="1.2" height="1.2"/><rect x="254.3" y="319.4" width="1.2" height="1.2"/><rect x="252.1" y="335.5" width="1.2" height="1.2"/><rect x="253.0" y="351.4" width="1.2" height="1.2"/><rect x="252.7" y="327.9" width="1.2" height="1.2"/><rect x="254.3" y="322.0" width="1.2" height="1.2"/><rect x="256.1" y="343.7" width="1.2" height="1.2"/><rect x="258.7" y="319.8" width="1.2" height="1.2"/><rect x="258.0" y="315.6" width="1.2" height="1.2"/><rect x="258.5" y="353.8" width="1.2" height="1.2"/><rect x="257.4" y="337.3" width="1.2" height="1.2"/><rect x="256.1" y="345.4" width="1.2" height="1.2"/><rect x="250.7" y="349.3" width="1.2" height="1.2"/><rect x="256.3" y="330.2" width="1.2" height="1.2"/><rect x="251.8" y="327.5" width="1.2" height="1.2"/><rect x="252.6" y="334.4" width="1.2" height="1.2"/><rect x="251.9" y="329.8" width="1.2" height="1.2"/><rect x="258.4" y="313.9" width="1.2" height="1.2"/><rect x="258.3" y="329.8" width="1.2" height="1.2"/><rect x="255.8" y="318.7" width="1.2" height="1.2"/><rect x="258.4" y="331.8" width="1.2" height="1.2"/><rect x="257.4" y="305.7" width="1.2" height="1.2"/><rect x="256.6" y="332.8" width="1.2" height="1.2"/><rect x="255.2" y="319.1" width="1.2" height="1.2"/><rect x="258.3" y="326.7" width="1.2" height="1.2"/><rect x="255.4" y="311.4" width="1.2" height="1.2"/><rect x="251.7" y="326.5" width="1.2" height="1.2"/><rect x="254.8" y="338.4" width="1.2" height="1.2"/><rect x="251.8" y="343.2" width="1.2" height="1.2"/><rect x="254.8" y="333.5" width="1.2" height="1.2"/><rect x="258.1" y="308.9" width="1.2" height="1.2"/><rect x="250.6" y="327.7" width="1.2" height="1.2"/><rect x="255.4" y="336.6" width="1.2" height="1.2"/><rect x="256.3" y="313.4" width="1.2" height="1.2"/><rect x="254.2" y="335.3" width="1.2" height="1.2"/><rect x="258.9" y="315.3" width="1.2" height="1.2"/><rect x="256.1" y="346.4" width="1.2" height="1.2"/><rect x="250.8" y="337.2" width="1.2" height="1.2"/><rect x="258.7" y="310.0" width="1.2" height="1.2"/><rect x="253.4" y="313.1" width="1.2" height="1.2"/><rect x="254.8" y="345.3" width="1.2" height="1.2"/><rect x="258.4" y="325.4" width="1.2" height="1.2"/><rect x="256.0" y="350.8" width="1.2" height="1.2"/><rect x="253.5" y="332.5" width="1.2" height="1.2"/><rect x="254.7" y="336.7" width="1.2" height="1.2"/><rect x="255.1" y="316.6" width="1.2" height="1.2"/><rect x="254.3" y="328.8" width="1.2" height="1.2"/><rect x="254.2" y="317.3" width="1.2" height="1.2"/><rect x="253.1" y="301.1" width="1.2" height="1.2"/><rect x="257.8" y="318.2" width="1.2" height="1.2"/><rect x="252.9" y="312.9" width="1.2" height="1.2"/><rect x="255.0" y="337.6" width="1.2" height="1.2"/><rect x="257.5" y="349.0" width="1.2" height="1.2"/><rect x="253.4" y="324.1" width="1.2" height="1.2"/><rect x="255.7" y="322.3" width="1.2" height="1.2"/><rect x="256.1" y="339.0" width="1.2" height="1.2"/><rect x="256.9" y="328.4" width="1.2" height="1.2"/><rect x="258.3" y="323.3" width="1.2" height="1.2"/><rect x="253.2" y="322.9" width="1.2" height="1.2"/><rect x="250.6" y="326.2" width="1.2" height="1.2"/><rect x="255.9" y="339.9" width="1.2" height="1.2"/><rect x="256.3" y="358.9" width="1.2" height="1.2"/><rect x="255.9" y="335.5" width="1.2" height="1.2"/><rect x="255.9" y="295.7" width="1.2" height="1.2"/><rect x="255.7" y="311.4" width="1.2" height="1.2"/><rect x="256.5" y="311.0" width="1.2" height="1.2"/><rect x="254.5" y="332.7" width="1.2" height="1.2"/><rect x="257.2" y="349.1" width="1.2" height="1.2"/><rect x="250.8" y="335.1" width="1.2" height="1.2"/><rect x="257.3" y="333.1" width="1.2" height="1.2"/><rect x="253.8" y="346.2" width="1.2" height="1.2"/><rect x="257.7" y="316.3" width="1.2" height="1.2"/><rect x="252.8" y="331.9" width="1.2" height="1.2"/><rect x="253.2" y="308.8" width="1.2" height="1.2"/><rect x="254.3" y="316.0" width="1.2" height="1.2"/><rect x="256.1" y="333.7" width="1.2" height="1.2"/><rect x="255.5" y="332.1" width="1.2" height="1.2"/><rect x="250.9" y="325.5" width="1.2" height="1.2"/><rect x="255.6" y="347.5" width="1.2" height="1.2"/><rect x="258.6" y="346.0" width="1.2" height="1.2"/><rect x="253.9" y="325.1" width="1.2" height="1.2"/><rect x="255.7" y="328.3" width="1.2" height="1.2"/><rect x="254.7" y="311.5" width="1.2" height="1.2"/><rect x="256.2" y="321.6" width="1.2" height="1.2"/><rect x="252.4" y="331.1" width="1.2" height="1.2"/><rect x="250.6" y="329.0" width="1.2" height="1.2"/><rect x="256.5" y="329.7" width="1.2" height="1.2"/><rect x="251.3" y="355.6" width="1.2" height="1.2"/><rect x="258.1" y="354.5" width="1.2" height="1.2"/><rect x="256.8" y="329.5" width="1.2" height="1.2"/><rect x="252.6" y="329.6" width="1.2" height="1.2"/><rect x="251.0" y="326.5" width="1.2" height="1.2"/><rect x="257.3" y="317.9" width="1.2" height="1.2"/><rect x="256.9" y="320.8" width="1.2" height="1.2"/><rect x="251.3" y="298.8" width="1.2" height="1.2"/><rect x="254.6" y="311.3" width="1.2" height="1.2"/><rect x="258.7" y="310.5" width="1.2" height="1.2"/><rect x="256.8" y="326.5" width="1.2" height="1.2"/><rect x="256.2" y="330.1" width="1.2" height="1.2"/><rect x="257.7" y="327.7" width="1.2" height="1.2"/><rect x="256.9" y="338.8" width="1.2" height="1.2"/><rect x="252.0" y="333.7" width="1.2" height="1.2"/><rect x="251.0" y="338.6" width="1.2" height="1.2"/><rect x="253.7" y="314.3" width="1.2" height="1.2"/><rect x="256.4" y="313.2" width="1.2" height="1.2"/><rect x="251.8" y="320.2" width="1.2" height="1.2"/><rect x="256.2" y="331.7" width="1.2" height="1.2"/><rect x="256.0" y="313.9" width="1.2" height="1.2"/><rect x="257.4" y="314.7" width="1.2" height="1.2"/><rect x="258.8" y="334.8" width="1.2" height="1.2"/><rect x="253.1" y="331.7" width="1.2" height="1.2"/><rect x="251.1" y="308.6" width="1.2" height="1.2"/><rect x="257.8" y="350.5" width="1.2" height="1.2"/><rect x="253.4" y="323.7" width="1.2" height="1.2"/><rect x="257.8" y="302.1" width="1.2" height="1.2"/><rect x="254.3" y="317.2" width="1.2" height="1.2"/><rect x="258.3" y="319.9" width="1.2" height="1.2"/><rect x="255.8" y="311.3" width="1.2" height="1.2"/><rect x="258.4" y="343.4" width="1.2" height="1.2"/><rect x="250.5" y="331.8" width="1.2" height="1.2"/><rect x="252.8" y="316.1" width="1.2" height="1.2"/><rect x="257.7" y="309.9" width="1.2" height="1.2"/><rect x="258.3" y="336.8" width="1.2" height="1.2"/><rect x="257.6" y="354.8" width="1.2" height="1.2"/><rect x="258.1" y="334.9" width="1.2" height="1.2"/><rect x="258.0" y="316.7" width="1.2" height="1.2"/><rect x="257.6" y="322.3" width="1.2" height="1.2"/><rect x="253.6" y="314.3" width="1.2" height="1.2"/><rect x="251.3" y="297.1" width="1.2" height="1.2"/><rect x="252.3" y="302.3" width="1.2" height="1.2"/><rect x="257.1" y="318.7" width="1.2" height="1.2"/><rect x="255.8" y="337.4" width="1.2" height="1.2"/><rect x="256.5" y="323.0" width="1.2" height="1.2"/><rect x="252.8" y="317.6" width="1.2" height="1.2"/><rect x="257.1" y="329.7" width="1.2" height="1.2"/><rect x="251.3" y="331.8" width="1.2" height="1.2"/><rect x="257.6" y="311.5" width="1.2" height="1.2"/><rect x="255.6" y="329.0" width="1.2" height="1.2"/><rect x="258.4" y="316.7" width="1.2" height="1.2"/><rect x="254.7" y="341.1" width="1.2" height="1.2"/><rect x="255.7" y="315.5" width="1.2" height="1.2"/><rect x="252.1" y="331.1" width="1.2" height="1.2"/><rect x="256.7" y="336.6" width="1.2" height="1.2"/><rect x="254.0" y="314.9" width="1.2" height="1.2"/><rect x="255.1" y="342.1" width="1.2" height="1.2"/><rect x="259.3" y="330.2" width="1.2" height="1.2"/><rect x="253.8" y="331.1" width="1.2" height="1.2"/><rect x="257.4" y="344.1" width="1.2" height="1.2"/><rect x="251.9" y="340.6" width="1.2" height="1.2"/><rect x="255.1" y="316.2" width="1.2" height="1.2"/><rect x="250.7" y="319.6" width="1.2" height="1.2"/><rect x="258.1" y="337.0" width="1.2" height="1.2"/><rect x="252.8" y="308.2" width="1.2" height="1.2"/><rect x="257.3" y="329.2" width="1.2" height="1.2"/><rect x="257.2" y="343.7" width="1.2" height="1.2"/><rect x="252.7" y="343.6" width="1.2" height="1.2"/><rect x="252.1" y="337.2" width="1.2" height="1.2"/><rect x="251.3" y="329.9" width="1.2" height="1.2"/><rect x="258.1" y="345.6" width="1.2" height="1.2"/><rect x="254.5" y="333.5" width="1.2" height="1.2"/><rect x="251.1" y="358.5" width="1.2" height="1.2"/><rect x="255.8" y="316.8" width="1.2" height="1.2"/><rect x="258.9" y="321.5" width="1.2" height="1.2"/><rect x="252.8" y="332.0" width="1.2" height="1.2"/><rect x="258.9" y="307.8" width="1.2" height="1.2"/><rect x="256.4" y="319.1" width="1.2" height="1.2"/><rect x="251.9" y="314.7" width="1.2" height="1.2"/><rect x="259.0" y="337.7" width="1.2" height="1.2"/><rect x="250.9" y="338.1" width="1.2" height="1.2"/><rect x="252.8" y="326.9" width="1.2" height="1.2"/><rect x="258.4" y="308.2" width="1.2" height="1.2"/><rect x="257.9" y="353.4" width="1.2" height="1.2"/><rect x="256.7" y="352.6" width="1.2" height="1.2"/><rect x="256.2" y="335.2" width="1.2" height="1.2"/><rect x="251.8" y="332.5" width="1.2" height="1.2"/><rect x="257.1" y="327.0" width="1.2" height="1.2"/><rect x="253.1" y="348.4" width="1.2" height="1.2"/><rect x="255.7" y="319.1" width="1.2" height="1.2"/><rect x="253.4" y="327.9" width="1.2" height="1.2"/><rect x="252.8" y="320.4" width="1.2" height="1.2"/><rect x="252.0" y="339.7" width="1.2" height="1.2"/><rect x="252.6" y="339.6" width="1.2" height="1.2"/><rect x="250.6" y="341.5" width="1.2" height="1.2"/><rect x="256.8" y="345.1" width="1.2" height="1.2"/><rect x="258.6" y="328.9" width="1.2" height="1.2"/><rect x="252.5" y="331.3" width="1.2" height="1.2"/><rect x="258.3" y="355.0" width="1.2" height="1.2"/><rect x="251.7" y="315.4" width="1.2" height="1.2"/><rect x="258.7" y="321.1" width="1.2" height="1.2"/><rect x="257.9" y="329.7" width="1.2" height="1.2"/><rect x="253.5" y="316.1" width="1.2" height="1.2"/><rect x="257.7" y="315.7" width="1.2" height="1.2"/><rect x="251.8" y="306.7" width="1.2" height="1.2"/><rect x="252.5" y="330.5" width="1.2" height="1.2"/><rect x="255.4" y="349.7" width="1.2" height="1.2"/><rect x="251.8" y="335.8" width="1.2" height="1.2"/><rect x="254.1" y="335.6" width="1.2" height="1.2"/><rect x="251.9" y="319.0" width="1.2" height="1.2"/><rect x="253.5" y="323.7" width="1.2" height="1.2"/><rect x="252.0" y="355.9" width="1.2" height="1.2"/><rect x="258.4" y="314.4" width="1.2" height="1.2"/><rect x="251.5" y="328.2" width="1.2" height="1.2"/><rect x="258.4" y="332.6" width="1.2" height="1.2"/><rect x="256.4" y="326.8" width="1.2" height="1.2"/><rect x="253.0" y="331.6" width="1.2" height="1.2"/><rect x="252.8" y="344.0" width="1.2" height="1.2"/><rect x="259.2" y="331.8" width="1.2" height="1.2"/><rect x="259.3" y="341.1" width="1.2" height="1.2"/><rect x="253.1" y="333.5" width="1.2" height="1.2"/><rect x="258.4" y="324.4" width="1.2" height="1.2"/><rect x="253.1" y="350.0" width="1.2" height="1.2"/><rect x="259.1" y="336.0" width="1.2" height="1.2"/><rect x="253.5" y="354.5" width="1.2" height="1.2"/><rect x="251.7" y="330.2" width="1.2" height="1.2"/><rect x="255.1" y="355.8" width="1.2" height="1.2"/><rect x="252.1" y="327.8" width="1.2" height="1.2"/><rect x="252.4" y="297.2" width="1.2" height="1.2"/><rect x="255.5" y="340.5" width="1.2" height="1.2"/><rect x="257.3" y="333.6" width="1.2" height="1.2"/><rect x="256.8" y="334.7" width="1.2" height="1.2"/><rect x="251.3" y="329.5" width="1.2" height="1.2"/><rect x="255.9" y="333.2" width="1.2" height="1.2"/><rect x="252.3" y="315.5" width="1.2" height="1.2"/><rect x="255.9" y="327.8" width="1.2" height="1.2"/><rect x="255.6" y="320.3" width="1.2" height="1.2"/><rect x="252.3" y="301.1" width="1.2" height="1.2"/><rect x="254.1" y="349.8" width="1.2" height="1.2"/><rect x="256.8" y="337.2" width="1.2" height="1.2"/><rect x="253.5" y="353.2" width="1.2" height="1.2"/><rect x="257.9" y="336.8" width="1.2" height="1.2"/><rect x="250.7" y="339.0" width="1.2" height="1.2"/><rect x="258.5" y="314.4" width="1.2" height="1.2"/><rect x="252.9" y="297.5" width="1.2" height="1.2"/><rect x="252.1" y="331.9" width="1.2" height="1.2"/><rect x="252.0" y="334.5" width="1.2" height="1.2"/><rect x="253.8" y="315.0" width="1.2" height="1.2"/><rect x="255.1" y="326.3" width="1.2" height="1.2"/><rect x="254.4" y="326.7" width="1.2" height="1.2"/><rect x="256.8" y="319.9" width="1.2" height="1.2"/><rect x="257.7" y="326.8" width="1.2" height="1.2"/><rect x="256.7" y="336.2" width="1.2" height="1.2"/><rect x="253.9" y="317.7" width="1.2" height="1.2"/><rect x="258.2" y="327.5" width="1.2" height="1.2"/><rect x="258.9" y="322.2" width="1.2" height="1.2"/><rect x="255.2" y="309.6" width="1.2" height="1.2"/><rect x="255.2" y="328.1" width="1.2" height="1.2"/><rect x="252.5" y="332.6" width="1.2" height="1.2"/><rect x="252.7" y="330.4" width="1.2" height="1.2"/><rect x="257.7" y="333.8" width="1.2" height="1.2"/><rect x="256.6" y="334.1" width="1.2" height="1.2"/><rect x="252.2" y="328.8" width="1.2" height="1.2"/><rect x="255.6" y="347.6" width="1.2" height="1.2"/><rect x="255.1" y="329.7" width="1.2" height="1.2"/><rect x="258.1" y="325.5" width="1.2" height="1.2"/><rect x="256.8" y="320.8" width="1.2" height="1.2"/><rect x="254.8" y="334.9" width="1.2" height="1.2"/><rect x="254.9" y="329.6" width="1.2" height="1.2"/><rect x="254.1" y="326.1" width="1.2" height="1.2"/><rect x="251.7" y="335.0" width="1.2" height="1.2"/><rect x="251.8" y="302.6" width="1.2" height="1.2"/><rect x="255.5" y="311.3" width="1.2" height="1.2"/><rect x="257.8" y="327.3" width="1.2" height="1.2"/><rect x="258.7" y="318.5" width="1.2" height="1.2"/><rect x="257.9" y="315.5" width="1.2" height="1.2"/><rect x="255.1" y="337.6" width="1.2" height="1.2"/><rect x="257.3" y="299.3" width="1.2" height="1.2"/><rect x="253.5" y="349.2" width="1.2" height="1.2"/><rect x="254.3" y="328.3" width="1.2" height="1.2"/><rect x="259.1" y="341.0" width="1.2" height="1.2"/><rect x="257.7" y="338.6" width="1.2" height="1.2"/><rect x="257.9" y="296.4" width="1.2" height="1.2"/><rect x="258.9" y="344.5" width="1.2" height="1.2"/><rect x="258.7" y="333.5" width="1.2" height="1.2"/><rect x="256.1" y="327.6" width="1.2" height="1.2"/><rect x="253.7" y="343.2" width="1.2" height="1.2"/><rect x="254.3" y="321.9" width="1.2" height="1.2"/><rect x="254.9" y="326.4" width="1.2" height="1.2"/><rect x="259.0" y="335.6" width="1.2" height="1.2"/><rect x="257.3" y="328.6" width="1.2" height="1.2"/><rect x="257.6" y="347.0" width="1.2" height="1.2"/><rect x="258.3" y="319.3" width="1.2" height="1.2"/><rect x="256.1" y="330.5" width="1.2" height="1.2"/><rect x="252.8" y="324.9" width="1.2" height="1.2"/><rect x="255.3" y="322.3" width="1.2" height="1.2"/><rect x="258.6" y="316.7" width="1.2" height="1.2"/><rect x="255.1" y="319.3" width="1.2" height="1.2"/><rect x="254.3" y="319.7" width="1.2" height="1.2"/><rect x="253.2" y="339.2" width="1.2" height="1.2"/><rect x="256.2" y="323.8" width="1.2" height="1.2"/><rect x="258.9" y="342.1" width="1.2" height="1.2"/><rect x="255.0" y="341.3" width="1.2" height="1.2"/><rect x="255.2" y="325.6" width="1.2" height="1.2"/><rect x="251.8" y="344.2" width="1.2" height="1.2"/><rect x="253.1" y="333.2" width="1.2" height="1.2"/><rect x="254.1" y="333.1" width="1.2" height="1.2"/><rect x="251.3" y="324.8" width="1.2" height="1.2"/><rect x="255.3" y="338.3" width="1.2" height="1.2"/><rect x="255.5" y="338.5" width="1.2" height="1.2"/><rect x="256.2" y="310.2" width="1.2" height="1.2"/><rect x="254.6" y="334.6" width="1.2" height="1.2"/><rect x="255.3" y="349.9" width="1.2" height="1.2"/><rect x="253.2" y="314.7" width="1.2" height="1.2"/><rect x="252.6" y="316.5" width="1.2" height="1.2"/><rect x="253.9" y="330.7" width="1.2" height="1.2"/><rect x="255.7" y="345.1" width="1.2" height="1.2"/><rect x="258.1" y="341.4" width="1.2" height="1.2"/><rect x="252.6" y="328.5" width="1.2" height="1.2"/><rect x="253.0" y="311.2" width="1.2" height="1.2"/><rect x="259.2" y="321.4" width="1.2" height="1.2"/><rect x="251.9" y="320.2" width="1.2" height="1.2"/><rect x="251.1" y="352.2" width="1.2" height="1.2"/><rect x="251.1" y="338.6" width="1.2" height="1.2"/><rect x="253.9" y="315.8" width="1.2" height="1.2"/><rect x="251.5" y="304.8" width="1.2" height="1.2"/><rect x="252.5" y="336.5" width="1.2" height="1.2"/><rect x="251.9" y="351.2" width="1.2" height="1.2"/><rect x="253.5" y="321.3" width="1.2" height="1.2"/><rect x="255.9" y="314.0" width="1.2" height="1.2"/><rect x="258.0" y="345.4" width="1.2" height="1.2"/><rect x="257.0" y="335.3" width="1.2" height="1.2"/><rect x="257.0" y="311.2" width="1.2" height="1.2"/><rect x="257.4" y="328.5" width="1.2" height="1.2"/><rect x="256.7" y="310.5" width="1.2" height="1.2"/><rect x="258.1" y="334.2" width="1.2" height="1.2"/><rect x="250.6" y="323.5" width="1.2" height="1.2"/><rect x="254.9" y="329.5" width="1.2" height="1.2"/><rect x="259.0" y="307.7" width="1.2" height="1.2"/><rect x="257.4" y="313.5" width="1.2" height="1.2"/><rect x="258.2" y="320.7" width="1.2" height="1.2"/><rect x="254.5" y="316.1" width="1.2" height="1.2"/><rect x="254.5" y="318.4" width="1.2" height="1.2"/><rect x="253.9" y="325.4" width="1.2" height="1.2"/><rect x="255.4" y="315.2" width="1.2" height="1.2"/><rect x="257.4" y="317.6" width="1.2" height="1.2"/><rect x="258.0" y="336.3" width="1.2" height="1.2"/><rect x="252.1" y="311.3" width="1.2" height="1.2"/><rect x="253.2" y="327.5" width="1.2" height="1.2"/><rect x="255.6" y="339.5" width="1.2" height="1.2"/><rect x="251.3" y="343.0" width="1.2" height="1.2"/><rect x="257.9" y="339.1" width="1.2" height="1.2"/><rect x="257.9" y="321.1" width="1.2" height="1.2"/><rect x="254.3" y="337.3" width="1.2" height="1.2"/><rect x="258.5" y="324.9" width="1.2" height="1.2"/><rect x="255.5" y="332.2" width="1.2" height="1.2"/><rect x="254.9" y="327.8" width="1.2" height="1.2"/><rect x="255.2" y="350.1" width="1.2" height="1.2"/><rect x="259.3" y="315.1" width="1.2" height="1.2"/><rect x="256.5" y="309.6" width="1.2" height="1.2"/><rect x="253.9" y="325.5" width="1.2" height="1.2"/><rect x="253.6" y="314.9" width="1.2" height="1.2"/><rect x="258.8" y="343.2" width="1.2" height="1.2"/><rect x="251.4" y="319.4" width="1.2" height="1.2"/><rect x="253.8" y="311.2" width="1.2" height="1.2"/><rect x="255.5" y="311.9" width="1.2" height="1.2"/><rect x="258.2" y="338.7" width="1.2" height="1.2"/><rect x="254.4" y="344.3" width="1.2" height="1.2"/><rect x="256.0" y="323.7" width="1.2" height="1.2"/><rect x="255.2" y="341.2" width="1.2" height="1.2"/><rect x="257.7" y="327.2" width="1.2" height="1.2"/><rect x="259.1" y="333.8" width="1.2" height="1.2"/><rect x="257.8" y="339.0" width="1.2" height="1.2"/></g>
<line x1="255.50" y1="297.10" x2="255.50" y2="319.50" stroke="#333" stroke-width="1.0"/>
<line x1="255.50" y1="336.70" x2="255.50" y2="359.90" stroke="#333" stroke-width="1.0"/>
<line x1="179.30" y1="362.70" x2="179.30" y2="366.80" stroke="#000" stroke-width="1.2"/>
<text x="183.30" y="375.30" font-size="9.4" fill="#111" text-anchor="end" textLength="9.72" lengthAdjust="spacingAndGlyphs" transform="rotate(-45 183.30 375.30)">12</text>
<line x1="198.20" y1="362.70" x2="198.20" y2="366.80" stroke="#000" stroke-width="1.2"/>
<text x="202.20" y="375.30" font-size="9.4" fill="#111" text-anchor="end" textLength="9.72" lengthAdjust="spacingAndGlyphs" transform="rotate(-45 202.20 375.30)">13</text>
<line x1="217.00" y1="362.70" x2="217.00" y2="366.80" stroke="#000" stroke-width="1.2"/>
<text x="221.00" y="375.30" font-size="9.4" fill="#111" text-anchor="end" textLength="9.72" lengthAdjust="spacingAndGlyphs" transform="rotate(-45 221.00 375.30)">61</text>
<line x1="235.90" y1="362.70" x2="235.90" y2="366.80" stroke="#000" stroke-width="1.2"/>
<text x="239.90" y="375.30" font-size="9.4" fill="#111" text-anchor="end" textLength="21.86" lengthAdjust="spacingAndGlyphs" transform="rotate(-45 239.90 375.30)">Other</text>
<line x1="255.50" y1="362.70" x2="255.50" y2="366.80" stroke="#000" stroke-width="1.2"/>
<text x="259.50" y="375.30" font-size="9.4" fill="#111" text-anchor="end" textLength="13.59" lengthAdjust="spacingAndGlyphs" transform="rotate(-45 259.50 375.30)">WT</text>
<line x1="294.10" y1="267.80" x2="383.70" y2="267.80" stroke="#b0163c" stroke-width="1.2"/>
<text x="339.00" y="265.40" font-size="7.4" fill="#b0163c" text-anchor="middle">0</text>
<line x1="318.30" y1="278.30" x2="337.70" y2="278.30" stroke="#111" stroke-width="1.1"/>
<text x="328.00" y="276.10" font-size="5.6" fill="#222" text-anchor="middle">3.88e-4</text>
<line x1="341.00" y1="278.30" x2="359.20" y2="278.30" stroke="#111" stroke-width="1.1"/>
<text x="350.10" y="276.10" font-size="5.6" fill="#222" text-anchor="middle">0.00406</text>
<line x1="302.70" y1="290.40" x2="336.90" y2="290.40" stroke="#111" stroke-width="1.1"/>
<text x="319.80" y="288.20" font-size="5.6" fill="#222" text-anchor="middle">0.00314</text>
<line x1="341.00" y1="290.40" x2="375.60" y2="290.40" stroke="#111" stroke-width="1.1"/>
<text x="358.30" y="288.20" font-size="5.6" fill="#222" text-anchor="middle">7.30e-6</text>
<line x1="289.20" y1="294.20" x2="289.20" y2="363.30" stroke="#000" stroke-width="1.3"/>
<line x1="288.60" y1="362.70" x2="389.00" y2="362.70" stroke="#000" stroke-width="1.3"/>
<line x1="285.20" y1="304.40" x2="289.20" y2="304.40" stroke="#000" stroke-width="1.1"/>
<text x="280.40" y="307.06" font-size="7.4" fill="#111" text-anchor="end">2</text>
<line x1="285.20" y1="315.80" x2="289.20" y2="315.80" stroke="#000" stroke-width="1.1"/>
<text x="280.40" y="318.46" font-size="7.4" fill="#111" text-anchor="end">1</text>
<line x1="285.20" y1="327.20" x2="289.20" y2="327.20" stroke="#000" stroke-width="1.1"/>
<text x="280.40" y="329.86" font-size="7.4" fill="#111" text-anchor="end">0</text>
<line x1="285.20" y1="338.60" x2="289.20" y2="338.60" stroke="#000" stroke-width="1.1"/>
<text x="280.40" y="341.26" font-size="7.4" fill="#111" text-anchor="end">−1</text>
<line x1="285.20" y1="350.00" x2="289.20" y2="350.00" stroke="#000" stroke-width="1.1"/>
<text x="280.40" y="352.66" font-size="7.4" fill="#111" text-anchor="end">−2</text>
<line x1="285.20" y1="361.40" x2="289.20" y2="361.40" stroke="#000" stroke-width="1.1"/>
<text x="280.40" y="364.06" font-size="7.4" fill="#111" text-anchor="end">−3</text>
<rect x="293.40" y="328.10" width="14.60" height="10.80" fill="none" stroke="#222" stroke-width="1"/>
<line x1="293.40" y1="332.70" x2="308.00" y2="332.70" stroke="#111" stroke-width="1.2"/>
<g fill="#b80d3c" fill-opacity="0.78"><rect x="303.6" y="328.4" width="1.2" height="1.2"/><rect x="301.8" y="332.5" width="1.2" height="1.2"/><rect x="303.5" y="345.2" width="1.2" height="1.2"/><rect x="298.3" y="328.1" width="1.2" height="1.2"/><rect x="300.2" y="335.5" width="1.2" height="1.2"/><rect x="297.3" y="326.8" width="1.2" height="1.2"/><rect x="301.2" y="332.7" width="1.2" height="1.2"/><rect x="304.4" y="325.9" width="1.2" height="1.2"/><rect x="301.3" y="327.6" width="1.2" height="1.2"/><rect x="302.6" y="342.2" width="1.2" height="1.2"/><rect x="298.4" y="335.4" width="1.2" height="1.2"/><rect x="298.4" y="332.6" width="1.2" height="1.2"/><rect x="303.1" y="332.1" width="1.2" height="1.2"/><rect x="297.4" y="320.9" width="1.2" height="1.2"/></g>
<line x1="300.70" y1="320.00" x2="300.70" y2="328.10" stroke="#333" stroke-width="1.0"/>
<line x1="300.70" y1="338.90" x2="300.70" y2="346.40" stroke="#333" stroke-width="1.0"/>
<rect x="312.20" y="325.40" width="14.60" height="16.10" fill="none" stroke="#222" stroke-width="1"/>
<line x1="312.20" y1="332.70" x2="326.80" y2="332.70" stroke="#111" stroke-width="1.2"/>
<g fill="#b80d3c" fill-opacity="0.78"><rect x="318.9" y="322.1" width="1.2" height="1.2"/><rect x="320.2" y="322.4" width="1.2" height="1.2"/><rect x="319.2" y="329.2" width="1.2" height="1.2"/><rect x="318.1" y="351.1" width="1.2" height="1.2"/><rect x="315.6" y="332.5" width="1.2" height="1.2"/><rect x="315.5" y="345.9" width="1.2" height="1.2"/><rect x="315.4" y="352.5" width="1.2" height="1.2"/><rect x="321.7" y="341.0" width="1.2" height="1.2"/><rect x="319.9" y="347.8" width="1.2" height="1.2"/><rect x="314.6" y="334.6" width="1.2" height="1.2"/><rect x="321.3" y="328.1" width="1.2" height="1.2"/><rect x="317.6" y="323.0" width="1.2" height="1.2"/><rect x="316.0" y="352.8" width="1.2" height="1.2"/><rect x="322.4" y="332.2" width="1.2" height="1.2"/></g>
<line x1="319.50" y1="306.50" x2="319.50" y2="325.40" stroke="#333" stroke-width="1.0"/>
<line x1="319.50" y1="341.50" x2="319.50" y2="356.40" stroke="#333" stroke-width="1.0"/>
<rect x="331.30" y="317.30" width="14.60" height="12.90" fill="none" stroke="#222" stroke-width="1"/>
<line x1="331.30" y1="324.00" x2="345.90" y2="324.00" stroke="#111" stroke-width="1.2"/>
<g fill="#b80d3c" fill-opacity="0.78"><rect x="338.7" y="328.3" width="1.2" height="1.2"/><rect x="337.0" y="316.0" width="1.2" height="1.2"/><rect x="334.1" y="333.1" width="1.2" height="1.2"/><rect x="342.0" y="334.6" width="1.2" height="1.2"/><rect x="337.5" y="313.7" width="1.2" height="1.2"/><rect x="334.0" y="317.0" width="1.2" height="1.2"/><rect x="341.8" y="317.3" width="1.2" height="1.2"/><rect x="341.5" y="329.1" width="1.2" height="1.2"/><rect x="340.8" y="315.4" width="1.2" height="1.2"/><rect x="342.0" y="318.1" width="1.2" height="1.2"/><rect x="338.0" y="337.5" width="1.2" height="1.2"/><rect x="337.0" y="331.1" width="1.2" height="1.2"/><rect x="339.9" y="320.5" width="1.2" height="1.2"/><rect x="341.3" y="324.9" width="1.2" height="1.2"/><rect x="337.9" y="332.6" width="1.2" height="1.2"/><rect x="335.1" y="325.4" width="1.2" height="1.2"/><rect x="336.8" y="315.1" width="1.2" height="1.2"/><rect x="336.2" y="334.8" width="1.2" height="1.2"/><rect x="338.3" y="318.0" width="1.2" height="1.2"/><rect x="337.0" y="321.1" width="1.2" height="1.2"/><rect x="334.7" y="319.8" width="1.2" height="1.2"/><rect x="340.9" y="325.5" width="1.2" height="1.2"/><rect x="335.3" y="318.2" width="1.2" height="1.2"/><rect x="336.1" y="329.9" width="1.2" height="1.2"/><rect x="339.4" y="323.4" width="1.2" height="1.2"/><rect x="336.6" y="326.1" width="1.2" height="1.2"/><rect x="334.4" y="332.9" width="1.2" height="1.2"/><rect x="336.0" y="337.7" width="1.2" height="1.2"/><rect x="337.5" y="326.1" width="1.2" height="1.2"/><rect x="340.9" y="318.1" width="1.2" height="1.2"/><rect x="336.7" y="325.4" width="1.2" height="1.2"/><rect x="339.9" y="316.9" width="1.2" height="1.2"/><rect x="335.4" y="302.9" width="1.2" height="1.2"/><rect x="342.0" y="342.9" width="1.2" height="1.2"/><rect x="337.6" y="315.1" width="1.2" height="1.2"/><rect x="334.8" y="322.9" width="1.2" height="1.2"/><rect x="341.5" y="320.8" width="1.2" height="1.2"/><rect x="338.8" y="314.8" width="1.2" height="1.2"/><rect x="338.9" y="317.5" width="1.2" height="1.2"/><rect x="335.5" y="329.4" width="1.2" height="1.2"/><rect x="338.1" y="327.1" width="1.2" height="1.2"/><rect x="338.4" y="319.0" width="1.2" height="1.2"/><rect x="337.0" y="320.7" width="1.2" height="1.2"/><rect x="339.4" y="342.3" width="1.2" height="1.2"/><rect x="337.0" y="314.3" width="1.2" height="1.2"/><rect x="334.4" y="319.2" width="1.2" height="1.2"/><rect x="336.4" y="332.8" width="1.2" height="1.2"/><rect x="339.4" y="342.8" width="1.2" height="1.2"/><rect x="336.8" y="334.3" width="1.2" height="1.2"/><rect x="338.0" y="332.3" width="1.2" height="1.2"/></g>
<line x1="338.60" y1="302.50" x2="338.60" y2="317.30" stroke="#333" stroke-width="1.0"/>
<line x1="338.60" y1="330.20" x2="338.60" y2="342.90" stroke="#333" stroke-width="1.0"/>
<rect x="350.90" y="339.40" width="14.60" height="6.20" fill="none" stroke="#222" stroke-width="1"/>
<line x1="350.90" y1="342.40" x2="365.50" y2="342.40" stroke="#111" stroke-width="1.2"/>
<g fill="#b80d3c" fill-opacity="0.78"><rect x="355.9" y="341.3" width="1.2" height="1.2"/><rect x="355.2" y="343.8" width="1.2" height="1.2"/><rect x="361.2" y="340.8" width="1.2" height="1.2"/><rect x="360.8" y="343.6" width="1.2" height="1.2"/></g>
<line x1="358.20" y1="339.40" x2="358.20" y2="339.40" stroke="#333" stroke-width="1.0"/>
<line x1="358.20" y1="345.60" x2="358.20" y2="345.60" stroke="#333" stroke-width="1.0"/>
<rect x="370.30" y="320.50" width="14.60" height="17.50" fill="none" stroke="#222" stroke-width="1"/>
<line x1="370.30" y1="330.80" x2="384.90" y2="330.80" stroke="#111" stroke-width="1.2"/>
<g fill="#b80d3c" fill-opacity="0.78"><rect x="373.8" y="297.5" width="1.2" height="1.2"/><rect x="378.6" y="328.0" width="1.2" height="1.2"/><rect x="378.4" y="332.3" width="1.2" height="1.2"/><rect x="378.4" y="319.3" width="1.2" height="1.2"/><rect x="378.7" y="341.3" width="1.2" height="1.2"/><rect x="375.7" y="328.9" width="1.2" height="1.2"/><rect x="378.1" y="358.1" width="1.2" height="1.2"/><rect x="380.6" y="331.8" width="1.2" height="1.2"/><rect x="379.1" y="335.5" width="1.2" height="1.2"/><rect x="373.0" y="327.6" width="1.2" height="1.2"/><rect x="374.0" y="324.4" width="1.2" height="1.2"/><rect x="376.0" y="332.8" width="1.2" height="1.2"/><rect x="373.0" y="340.9" width="1.2" height="1.2"/><rect x="374.2" y="320.5" width="1.2" height="1.2"/><rect x="380.0" y="348.8" width="1.2" height="1.2"/><rect x="374.9" y="306.8" width="1.2" height="1.2"/><rect x="376.4" y="318.3" width="1.2" height="1.2"/><rect x="372.6" y="323.0" width="1.2" height="1.2"/><rect x="379.9" y="315.7" width="1.2" height="1.2"/><rect x="373.0" y="330.7" width="1.2" height="1.2"/><rect x="380.1" y="316.3" width="1.2" height="1.2"/><rect x="374.8" y="324.9" width="1.2" height="1.2"/><rect x="373.6" y="325.7" width="1.2" height="1.2"/><rect x="380.6" y="331.3" width="1.2" height="1.2"/><rect x="379.2" y="318.5" width="1.2" height="1.2"/><rect x="376.1" y="348.7" width="1.2" height="1.2"/><rect x="379.2" y="340.7" width="1.2" height="1.2"/><rect x="373.4" y="334.5" width="1.2" height="1.2"/><rect x="380.9" y="317.8" width="1.2" height="1.2"/><rect x="378.7" y="297.5" width="1.2" height="1.2"/><rect x="379.1" y="344.8" width="1.2" height="1.2"/><rect x="376.6" y="339.0" width="1.2" height="1.2"/><rect x="373.1" y="309.9" width="1.2" height="1.2"/><rect x="377.1" y="323.5" width="1.2" height="1.2"/><rect x="380.8" y="313.4" width="1.2" height="1.2"/><rect x="373.0" y="346.6" width="1.2" height="1.2"/><rect x="378.8" y="347.2" width="1.2" height="1.2"/><rect x="377.4" y="332.7" width="1.2" height="1.2"/><rect x="381.1" y="317.5" width="1.2" height="1.2"/><rect x="374.8" y="316.3" width="1.2" height="1.2"/><rect x="373.1" y="314.1" width="1.2" height="1.2"/><rect x="374.4" y="318.8" width="1.2" height="1.2"/><rect x="375.3" y="340.9" width="1.2" height="1.2"/><rect x="378.5" y="344.2" width="1.2" height="1.2"/><rect x="374.7" y="346.7" width="1.2" height="1.2"/><rect x="376.5" y="329.6" width="1.2" height="1.2"/><rect x="380.8" y="346.9" width="1.2" height="1.2"/><rect x="380.4" y="321.0" width="1.2" height="1.2"/><rect x="373.9" y="339.0" width="1.2" height="1.2"/><rect x="379.8" y="316.0" width="1.2" height="1.2"/><rect x="377.4" y="323.3" width="1.2" height="1.2"/><rect x="378.5" y="329.3" width="1.2" height="1.2"/><rect x="377.9" y="319.4" width="1.2" height="1.2"/><rect x="379.9" y="303.5" width="1.2" height="1.2"/><rect x="373.6" y="334.9" width="1.2" height="1.2"/><rect x="374.4" y="325.1" width="1.2" height="1.2"/><rect x="373.1" y="342.6" width="1.2" height="1.2"/><rect x="378.8" y="326.7" width="1.2" height="1.2"/><rect x="376.5" y="338.5" width="1.2" height="1.2"/><rect x="376.7" y="338.9" width="1.2" height="1.2"/><rect x="375.8" y="337.4" width="1.2" height="1.2"/><rect x="372.7" y="331.5" width="1.2" height="1.2"/><rect x="381.3" y="333.8" width="1.2" height="1.2"/><rect x="378.9" y="328.7" width="1.2" height="1.2"/><rect x="381.2" y="322.3" width="1.2" height="1.2"/><rect x="376.9" y="321.9" width="1.2" height="1.2"/><rect x="376.4" y="325.8" width="1.2" height="1.2"/><rect x="372.7" y="335.7" width="1.2" height="1.2"/><rect x="380.7" y="346.3" width="1.2" height="1.2"/><rect x="380.8" y="315.5" width="1.2" height="1.2"/><rect x="378.3" y="311.8" width="1.2" height="1.2"/><rect x="373.8" y="328.5" width="1.2" height="1.2"/><rect x="372.9" y="340.1" width="1.2" height="1.2"/><rect x="375.2" y="333.1" width="1.2" height="1.2"/><rect x="374.2" y="299.9" width="1.2" height="1.2"/><rect x="380.7" y="309.6" width="1.2" height="1.2"/><rect x="374.1" y="306.2" width="1.2" height="1.2"/><rect x="379.1" y="334.8" width="1.2" height="1.2"/><rect x="375.5" y="300.7" width="1.2" height="1.2"/><rect x="375.4" y="340.0" width="1.2" height="1.2"/><rect x="375.8" y="354.7" width="1.2" height="1.2"/><rect x="379.9" y="314.8" width="1.2" height="1.2"/><rect x="374.7" y="324.0" width="1.2" height="1.2"/><rect x="378.1" y="347.7" width="1.2" height="1.2"/><rect x="379.8" y="333.7" width="1.2" height="1.2"/><rect x="380.9" y="319.5" width="1.2" height="1.2"/><rect x="377.0" y="296.9" width="1.2" height="1.2"/><rect x="375.2" y="319.7" width="1.2" height="1.2"/><rect x="377.7" y="328.7" width="1.2" height="1.2"/><rect x="374.1" y="349.0" width="1.2" height="1.2"/><rect x="376.5" y="339.9" width="1.2" height="1.2"/><rect x="373.0" y="335.1" width="1.2" height="1.2"/><rect x="376.5" y="327.4" width="1.2" height="1.2"/><rect x="372.6" y="337.5" width="1.2" height="1.2"/><rect x="380.0" y="351.4" width="1.2" height="1.2"/><rect x="376.3" y="345.1" width="1.2" height="1.2"/><rect x="375.1" y="307.5" width="1.2" height="1.2"/><rect x="376.3" y="319.0" width="1.2" height="1.2"/><rect x="375.6" y="313.1" width="1.2" height="1.2"/><rect x="379.9" y="307.8" width="1.2" height="1.2"/><rect x="380.5" y="337.1" width="1.2" height="1.2"/><rect x="376.5" y="335.2" width="1.2" height="1.2"/><rect x="377.6" y="339.6" width="1.2" height="1.2"/><rect x="373.4" y="322.8" width="1.2" height="1.2"/><rect x="375.5" y="336.8" width="1.2" height="1.2"/><rect x="380.6" y="338.6" width="1.2" height="1.2"/><rect x="381.0" y="356.0" width="1.2" height="1.2"/><rect x="378.1" y="297.8" width="1.2" height="1.2"/><rect x="378.5" y="330.7" width="1.2" height="1.2"/><rect x="378.0" y="323.7" width="1.2" height="1.2"/><rect x="381.0" y="322.9" width="1.2" height="1.2"/><rect x="376.8" y="347.6" width="1.2" height="1.2"/><rect x="375.6" y="320.9" width="1.2" height="1.2"/><rect x="380.4" y="318.4" width="1.2" height="1.2"/><rect x="378.6" y="338.3" width="1.2" height="1.2"/><rect x="376.5" y="330.4" width="1.2" height="1.2"/><rect x="375.9" y="347.9" width="1.2" height="1.2"/><rect x="377.7" y="340.1" width="1.2" height="1.2"/><rect x="377.6" y="312.5" width="1.2" height="1.2"/><rect x="376.1" y="338.0" width="1.2" height="1.2"/><rect x="380.4" y="335.9" width="1.2" height="1.2"/><rect x="377.4" y="335.0" width="1.2" height="1.2"/><rect x="374.8" y="351.7" width="1.2" height="1.2"/><rect x="373.5" y="348.3" width="1.2" height="1.2"/><rect x="376.9" y="317.3" width="1.2" height="1.2"/><rect x="377.5" y="326.4" width="1.2" height="1.2"/><rect x="373.6" y="331.6" width="1.2" height="1.2"/><rect x="377.1" y="348.3" width="1.2" height="1.2"/><rect x="376.2" y="323.4" width="1.2" height="1.2"/><rect x="373.3" y="325.4" width="1.2" height="1.2"/><rect x="377.4" y="300.4" width="1.2" height="1.2"/><rect x="378.9" y="339.9" width="1.2" height="1.2"/><rect x="381.3" y="329.0" width="1.2" height="1.2"/><rect x="378.9" y="321.1" width="1.2" height="1.2"/><rect x="376.1" y="351.6" width="1.2" height="1.2"/><rect x="374.1" y="345.8" width="1.2" height="1.2"/><rect x="379.4" y="347.6" width="1.2" height="1.2"/><rect x="373.8" y="323.8" width="1.2" height="1.2"/><rect x="374.7" y="329.5" width="1.2" height="1.2"/><rect x="375.9" y="323.5" width="1.2" height="1.2"/><rect x="374.5" y="349.0" width="1.2" height="1.2"/><rect x="375.2" y="330.6" width="1.2" height="1.2"/><rect x="380.4" y="324.4" width="1.2" height="1.2"/><rect x="378.1" y="313.2" width="1.2" height="1.2"/><rect x="380.7" y="342.2" width="1.2" height="1.2"/><rect x="380.2" y="314.6" width="1.2" height="1.2"/><rect x="375.6" y="341.1" width="1.2" height="1.2"/><rect x="379.3" y="350.6" width="1.2" height="1.2"/><rect x="373.7" y="316.6" width="1.2" height="1.2"/><rect x="375.9" y="302.9" width="1.2" height="1.2"/><rect x="378.9" y="325.7" width="1.2" height="1.2"/><rect x="373.5" y="348.6" width="1.2" height="1.2"/><rect x="377.4" y="334.2" width="1.2" height="1.2"/><rect x="380.7" y="331.1" width="1.2" height="1.2"/><rect x="378.5" y="321.6" width="1.2" height="1.2"/><rect x="376.5" y="328.4" width="1.2" height="1.2"/><rect x="380.0" y="338.6" width="1.2" height="1.2"/><rect x="372.8" y="322.1" width="1.2" height="1.2"/><rect x="373.6" y="325.0" width="1.2" height="1.2"/><rect x="377.5" y="331.7" width="1.2" height="1.2"/><rect x="375.2" y="319.4" width="1.2" height="1.2"/><rect x="373.9" y="322.9" width="1.2" height="1.2"/><rect x="380.3" y="314.9" width="1.2" height="1.2"/><rect x="379.7" y="306.1" width="1.2" height="1.2"/><rect x="380.9" y="323.1" width="1.2" height="1.2"/><rect x="373.9" y="342.5" width="1.2" height="1.2"/><rect x="377.0" y="329.9" width="1.2" height="1.2"/><rect x="372.9" y="347.7" width="1.2" height="1.2"/><rect x="374.2" y="309.1" width="1.2" height="1.2"/><rect x="376.1" y="338.2" width="1.2" height="1.2"/><rect x="376.8" y="307.8" width="1.2" height="1.2"/><rect x="376.1" y="344.7" width="1.2" height="1.2"/><rect x="380.3" y="353.3" width="1.2" height="1.2"/><rect x="375.5" y="324.0" width="1.2" height="1.2"/><rect x="374.5" y="324.8" width="1.2" height="1.2"/><rect x="373.0" y="344.6" width="1.2" height="1.2"/><rect x="374.1" y="316.1" width="1.2" height="1.2"/><rect x="377.7" y="317.7" width="1.2" height="1.2"/><rect x="376.0" y="341.8" width="1.2" height="1.2"/><rect x="377.7" y="327.6" width="1.2" height="1.2"/><rect x="375.5" y="330.0" width="1.2" height="1.2"/><rect x="381.3" y="345.4" width="1.2" height="1.2"/><rect x="373.0" y="330.8" width="1.2" height="1.2"/><rect x="375.0" y="342.5" width="1.2" height="1.2"/><rect x="375.0" y="346.7" width="1.2" height="1.2"/><rect x="377.6" y="316.8" width="1.2" height="1.2"/><rect x="377.2" y="328.6" width="1.2" height="1.2"/><rect x="372.9" y="316.0" width="1.2" height="1.2"/><rect x="380.3" y="304.4" width="1.2" height="1.2"/><rect x="379.4" y="318.9" width="1.2" height="1.2"/><rect x="375.8" y="314.2" width="1.2" height="1.2"/><rect x="375.1" y="312.6" width="1.2" height="1.2"/><rect x="380.8" y="337.3" width="1.2" height="1.2"/><rect x="378.6" y="299.0" width="1.2" height="1.2"/><rect x="379.1" y="320.1" width="1.2" height="1.2"/><rect x="377.1" y="353.0" width="1.2" height="1.2"/><rect x="377.4" y="319.3" width="1.2" height="1.2"/><rect x="376.2" y="318.0" width="1.2" height="1.2"/><rect x="375.5" y="341.5" width="1.2" height="1.2"/><rect x="381.3" y="333.8" width="1.2" height="1.2"/><rect x="374.8" y="314.2" width="1.2" height="1.2"/><rect x="374.7" y="330.3" width="1.2" height="1.2"/><rect x="372.7" y="323.9" width="1.2" height="1.2"/><rect x="380.2" y="335.3" width="1.2" height="1.2"/><rect x="377.6" y="312.8" width="1.2" height="1.2"/><rect x="375.3" y="333.4" width="1.2" height="1.2"/><rect x="375.3" y="331.4" width="1.2" height="1.2"/><rect x="375.3" y="333.6" width="1.2" height="1.2"/><rect x="380.8" y="325.8" width="1.2" height="1.2"/><rect x="375.6" y="309.6" width="1.2" height="1.2"/><rect x="373.3" y="346.4" width="1.2" height="1.2"/><rect x="374.2" y="319.1" width="1.2" height="1.2"/><rect x="375.7" y="306.8" width="1.2" height="1.2"/><rect x="380.2" y="331.1" width="1.2" height="1.2"/><rect x="373.2" y="312.7" width="1.2" height="1.2"/><rect x="375.0" y="296.2" width="1.2" height="1.2"/><rect x="374.9" y="331.8" width="1.2" height="1.2"/><rect x="375.0" y="337.7" width="1.2" height="1.2"/><rect x="378.8" y="330.0" width="1.2" height="1.2"/><rect x="374.4" y="331.7" width="1.2" height="1.2"/><rect x="377.9" y="343.7" width="1.2" height="1.2"/><rect x="374.3" y="343.1" width="1.2" height="1.2"/><rect x="379.0" y="312.1" width="1.2" height="1.2"/><rect x="373.3" y="348.7" width="1.2" height="1.2"/><rect x="379.7" y="323.9" width="1.2" height="1.2"/><rect x="373.8" y="338.5" width="1.2" height="1.2"/><rect x="374.3" y="318.9" width="1.2" height="1.2"/><rect x="378.2" y="298.4" width="1.2" height="1.2"/><rect x="380.7" y="321.5" width="1.2" height="1.2"/><rect x="379.2" y="331.8" width="1.2" height="1.2"/><rect x="378.3" y="341.8" width="1.2" height="1.2"/><rect x="375.6" y="309.7" width="1.2" height="1.2"/><rect x="373.1" y="341.5" width="1.2" height="1.2"/><rect x="378.1" y="324.7" width="1.2" height="1.2"/><rect x="375.6" y="331.0" width="1.2" height="1.2"/><rect x="374.9" y="308.1" width="1.2" height="1.2"/><rect x="376.7" y="329.4" width="1.2" height="1.2"/><rect x="377.6" y="331.6" width="1.2" height="1.2"/><rect x="378.0" y="333.8" width="1.2" height="1.2"/><rect x="379.0" y="328.2" width="1.2" height="1.2"/><rect x="374.0" y="325.4" width="1.2" height="1.2"/><rect x="373.9" y="334.6" width="1.2" height="1.2"/><rect x="379.8" y="329.4" width="1.2" height="1.2"/><rect x="376.3" y="322.1" width="1.2" height="1.2"/><rect x="377.5" y="309.0" width="1.2" height="1.2"/><rect x="378.4" y="323.8" width="1.2" height="1.2"/><rect x="379.1" y="317.7" width="1.2" height="1.2"/><rect x="374.9" y="320.5" width="1.2" height="1.2"/><rect x="379.4" y="322.5" width="1.2" height="1.2"/><rect x="375.3" y="303.6" width="1.2" height="1.2"/><rect x="376.6" y="334.6" width="1.2" height="1.2"/><rect x="380.9" y="325.4" width="1.2" height="1.2"/><rect x="373.8" y="346.9" width="1.2" height="1.2"/><rect x="378.4" y="345.9" width="1.2" height="1.2"/><rect x="379.4" y="329.6" width="1.2" height="1.2"/><rect x="374.6" y="298.8" width="1.2" height="1.2"/><rect x="372.9" y="328.9" width="1.2" height="1.2"/><rect x="373.8" y="322.1" width="1.2" height="1.2"/><rect x="377.5" y="345.3" width="1.2" height="1.2"/><rect x="374.2" y="335.3" width="1.2" height="1.2"/><rect x="373.9" y="342.1" width="1.2" height="1.2"/><rect x="374.2" y="323.3" width="1.2" height="1.2"/><rect x="374.0" y="326.0" width="1.2" height="1.2"/><rect x="374.7" y="354.6" width="1.2" height="1.2"/><rect x="381.2" y="333.4" width="1.2" height="1.2"/><rect x="375.6" y="307.0" width="1.2" height="1.2"/><rect x="379.6" y="328.8" width="1.2" height="1.2"/><rect x="380.5" y="315.6" width="1.2" height="1.2"/><rect x="373.6" y="332.0" width="1.2" height="1.2"/><rect x="378.3" y="328.1" width="1.2" height="1.2"/><rect x="376.1" y="323.1" width="1.2" height="1.2"/><rect x="377.6" y="332.2" width="1.2" height="1.2"/><rect x="376.2" y="324.6" width="1.2" height="1.2"/><rect x="378.1" y="310.8" width="1.2" height="1.2"/><rect x="374.9" y="330.5" width="1.2" height="1.2"/><rect x="376.4" y="340.1" width="1.2" height="1.2"/><rect x="379.3" y="329.8" width="1.2" height="1.2"/><rect x="378.3" y="338.8" width="1.2" height="1.2"/><rect x="374.5" y="314.0" width="1.2" height="1.2"/><rect x="380.2" y="320.6" width="1.2" height="1.2"/><rect x="380.2" y="324.9" width="1.2" height="1.2"/><rect x="379.8" y="325.9" width="1.2" height="1.2"/><rect x="375.1" y="353.9" width="1.2" height="1.2"/><rect x="380.4" y="320.1" width="1.2" height="1.2"/><rect x="374.0" y="343.9" width="1.2" height="1.2"/><rect x="376.6" y="320.2" width="1.2" height="1.2"/><rect x="377.7" y="309.9" width="1.2" height="1.2"/><rect x="380.4" y="336.4" width="1.2" height="1.2"/><rect x="375.8" y="321.6" width="1.2" height="1.2"/><rect x="374.2" y="334.3" width="1.2" height="1.2"/><rect x="380.2" y="298.8" width="1.2" height="1.2"/><rect x="372.8" y="341.4" width="1.2" height="1.2"/><rect x="373.6" y="328.2" width="1.2" height="1.2"/><rect x="380.6" y="330.7" width="1.2" height="1.2"/><rect x="373.9" y="328.3" width="1.2" height="1.2"/><rect x="374.1" y="328.0" width="1.2" height="1.2"/><rect x="378.6" y="321.8" width="1.2" height="1.2"/><rect x="380.7" y="340.3" width="1.2" height="1.2"/><rect x="378.9" y="336.1" width="1.2" height="1.2"/><rect x="372.9" y="360.0" width="1.2" height="1.2"/><rect x="374.7" y="300.0" width="1.2" height="1.2"/><rect x="373.0" y="334.7" width="1.2" height="1.2"/><rect x="377.0" y="306.2" width="1.2" height="1.2"/><rect x="373.5" y="330.5" width="1.2" height="1.2"/><rect x="372.8" y="344.7" width="1.2" height="1.2"/><rect x="380.3" y="341.9" width="1.2" height="1.2"/><rect x="373.7" y="327.9" width="1.2" height="1.2"/><rect x="376.4" y="320.5" width="1.2" height="1.2"/><rect x="374.2" y="329.3" width="1.2" height="1.2"/><rect x="379.1" y="325.2" width="1.2" height="1.2"/><rect x="377.0" y="320.7" width="1.2" height="1.2"/><rect x="377.0" y="339.5" width="1.2" height="1.2"/><rect x="380.7" y="337.9" width="1.2" height="1.2"/><rect x="381.1" y="322.5" width="1.2" height="1.2"/><rect x="380.4" y="337.2" width="1.2" height="1.2"/><rect x="374.2" y="327.2" width="1.2" height="1.2"/><rect x="374.9" y="316.6" width="1.2" height="1.2"/><rect x="377.1" y="332.8" width="1.2" height="1.2"/><rect x="376.2" y="330.5" width="1.2" height="1.2"/><rect x="372.7" y="315.1" width="1.2" height="1.2"/><rect x="378.6" y="323.6" width="1.2" height="1.2"/><rect x="377.4" y="317.7" width="1.2" height="1.2"/><rect x="378.7" y="313.0" width="1.2" height="1.2"/><rect x="378.9" y="359.4" width="1.2" height="1.2"/><rect x="376.1" y="325.2" width="1.2" height="1.2"/><rect x="381.1" y="322.1" width="1.2" height="1.2"/><rect x="376.0" y="343.1" width="1.2" height="1.2"/><rect x="373.9" y="316.9" width="1.2" height="1.2"/><rect x="381.4" y="339.0" width="1.2" height="1.2"/><rect x="380.7" y="349.5" width="1.2" height="1.2"/><rect x="374.9" y="329.3" width="1.2" height="1.2"/><rect x="374.7" y="317.3" width="1.2" height="1.2"/><rect x="374.4" y="319.1" width="1.2" height="1.2"/><rect x="379.5" y="350.5" width="1.2" height="1.2"/><rect x="380.6" y="348.2" width="1.2" height="1.2"/><rect x="375.5" y="351.0" width="1.2" height="1.2"/><rect x="378.3" y="335.8" width="1.2" height="1.2"/><rect x="381.1" y="316.0" width="1.2" height="1.2"/><rect x="372.6" y="324.6" width="1.2" height="1.2"/><rect x="377.1" y="327.9" width="1.2" height="1.2"/><rect x="377.8" y="298.8" width="1.2" height="1.2"/><rect x="378.1" y="339.8" width="1.2" height="1.2"/><rect x="379.1" y="328.3" width="1.2" height="1.2"/><rect x="376.1" y="311.3" width="1.2" height="1.2"/><rect x="377.2" y="345.2" width="1.2" height="1.2"/><rect x="375.4" y="311.3" width="1.2" height="1.2"/><rect x="378.1" y="313.8" width="1.2" height="1.2"/><rect x="378.0" y="318.2" width="1.2" height="1.2"/><rect x="374.9" y="325.8" width="1.2" height="1.2"/><rect x="378.9" y="343.1" width="1.2" height="1.2"/><rect x="377.2" y="319.3" width="1.2" height="1.2"/><rect x="373.9" y="318.0" width="1.2" height="1.2"/><rect x="380.7" y="330.2" width="1.2" height="1.2"/><rect x="377.2" y="310.4" width="1.2" height="1.2"/><rect x="379.7" y="325.3" width="1.2" height="1.2"/><rect x="379.8" y="329.3" width="1.2" height="1.2"/><rect x="376.7" y="338.0" width="1.2" height="1.2"/><rect x="380.5" y="310.5" width="1.2" height="1.2"/><rect x="380.2" y="306.6" width="1.2" height="1.2"/><rect x="379.9" y="343.0" width="1.2" height="1.2"/><rect x="379.8" y="332.7" width="1.2" height="1.2"/><rect x="374.8" y="334.9" width="1.2" height="1.2"/><rect x="373.5" y="334.8" width="1.2" height="1.2"/><rect x="377.2" y="311.6" width="1.2" height="1.2"/><rect x="376.6" y="350.2" width="1.2" height="1.2"/><rect x="381.4" y="341.6" width="1.2" height="1.2"/><rect x="378.7" y="336.7" width="1.2" height="1.2"/><rect x="379.6" y="312.2" width="1.2" height="1.2"/><rect x="379.3" y="334.1" width="1.2" height="1.2"/><rect x="375.8" y="342.2" width="1.2" height="1.2"/><rect x="377.2" y="347.2" width="1.2" height="1.2"/><rect x="375.6" y="329.8" width="1.2" height="1.2"/><rect x="376.0" y="343.3" width="1.2" height="1.2"/><rect x="377.6" y="338.8" width="1.2" height="1.2"/><rect x="373.1" y="329.8" width="1.2" height="1.2"/><rect x="375.0" y="339.2" width="1.2" height="1.2"/><rect x="375.5" y="350.5" width="1.2" height="1.2"/><rect x="373.4" y="330.1" width="1.2" height="1.2"/><rect x="378.2" y="357.5" width="1.2" height="1.2"/><rect x="376.3" y="335.1" width="1.2" height="1.2"/><rect x="379.6" y="320.7" width="1.2" height="1.2"/><rect x="373.0" y="317.8" width="1.2" height="1.2"/><rect x="376.5" y="318.8" width="1.2" height="1.2"/><rect x="375.2" y="312.5" width="1.2" height="1.2"/><rect x="376.2" y="346.5" width="1.2" height="1.2"/><rect x="375.7" y="312.1" width="1.2" height="1.2"/><rect x="376.0" y="306.4" width="1.2" height="1.2"/><rect x="374.3" y="298.2" width="1.2" height="1.2"/><rect x="381.1" y="312.2" width="1.2" height="1.2"/><rect x="378.5" y="325.2" width="1.2" height="1.2"/><rect x="375.5" y="314.4" width="1.2" height="1.2"/><rect x="375.9" y="351.7" width="1.2" height="1.2"/><rect x="377.2" y="339.6" width="1.2" height="1.2"/><rect x="379.3" y="295.9" width="1.2" height="1.2"/><rect x="372.8" y="329.3" width="1.2" height="1.2"/><rect x="376.7" y="314.5" width="1.2" height="1.2"/><rect x="380.0" y="319.3" width="1.2" height="1.2"/><rect x="380.4" y="313.8" width="1.2" height="1.2"/><rect x="376.5" y="337.4" width="1.2" height="1.2"/><rect x="379.8" y="310.5" width="1.2" height="1.2"/><rect x="378.5" y="329.6" width="1.2" height="1.2"/><rect x="373.0" y="327.7" width="1.2" height="1.2"/><rect x="378.6" y="313.3" width="1.2" height="1.2"/><rect x="379.4" y="304.1" width="1.2" height="1.2"/><rect x="373.7" y="320.0" width="1.2" height="1.2"/><rect x="379.8" y="329.8" width="1.2" height="1.2"/><rect x="373.5" y="334.6" width="1.2" height="1.2"/><rect x="377.6" y="350.3" width="1.2" height="1.2"/><rect x="373.1" y="342.1" width="1.2" height="1.2"/><rect x="376.8" y="318.6" width="1.2" height="1.2"/><rect x="373.1" y="306.9" width="1.2" height="1.2"/><rect x="377.7" y="322.9" width="1.2" height="1.2"/><rect x="381.4" y="313.9" width="1.2" height="1.2"/><rect x="373.9" y="341.2" width="1.2" height="1.2"/><rect x="375.5" y="300.5" width="1.2" height="1.2"/><rect x="381.3" y="327.0" width="1.2" height="1.2"/><rect x="375.0" y="328.5" width="1.2" height="1.2"/><rect x="374.9" y="327.6" width="1.2" height="1.2"/><rect x="380.1" y="341.8" width="1.2" height="1.2"/><rect x="376.3" y="311.6" width="1.2" height="1.2"/><rect x="373.1" y="322.4" width="1.2" height="1.2"/><rect x="379.6" y="318.4" width="1.2" height="1.2"/><rect x="380.1" y="357.4" width="1.2" height="1.2"/><rect x="373.1" y="328.2" width="1.2" height="1.2"/><rect x="377.3" y="338.9" width="1.2" height="1.2"/><rect x="376.9" y="316.7" width="1.2" height="1.2"/><rect x="377.7" y="340.8" width="1.2" height="1.2"/><rect x="374.4" y="310.5" width="1.2" height="1.2"/><rect x="380.7" y="349.1" width="1.2" height="1.2"/><rect x="375.4" y="324.0" width="1.2" height="1.2"/></g>
<line x1="377.60" y1="296.30" x2="377.60" y2="320.50" stroke="#333" stroke-width="1.0"/>
<line x1="377.60" y1="338.00" x2="377.60" y2="359.90" stroke="#333" stroke-width="1.0"/>
<line x1="300.70" y1="362.70" x2="300.70" y2="366.80" stroke="#000" stroke-width="1.2"/>
<text x="304.70" y="375.30" font-size="9.4" fill="#111" text-anchor="end" textLength="9.72" lengthAdjust="spacingAndGlyphs" transform="rotate(-45 304.70 375.30)">12</text>
<line x1="319.50" y1="362.70" x2="319.50" y2="366.80" stroke="#000" stroke-width="1.2"/>
<text x="323.50" y="375.30" font-size="9.4" fill="#111" text-anchor="end" textLength="9.72" lengthAdjust="spacingAndGlyphs" transform="rotate(-45 323.50 375.30)">13</text>
<line x1="338.60" y1="362.70" x2="338.60" y2="366.80" stroke="#000" stroke-width="1.2"/>
<text x="342.60" y="375.30" font-size="9.4" fill="#111" text-anchor="end" textLength="9.72" lengthAdjust="spacingAndGlyphs" transform="rotate(-45 342.60 375.30)">61</text>
<line x1="358.20" y1="362.70" x2="358.20" y2="366.80" stroke="#000" stroke-width="1.2"/>
<text x="362.20" y="375.30" font-size="9.4" fill="#111" text-anchor="end" textLength="21.86" lengthAdjust="spacingAndGlyphs" transform="rotate(-45 362.20 375.30)">Other</text>
<line x1="377.60" y1="362.70" x2="377.60" y2="366.80" stroke="#000" stroke-width="1.2"/>
<text x="381.60" y="375.30" font-size="9.4" fill="#111" text-anchor="end" textLength="13.59" lengthAdjust="spacingAndGlyphs" transform="rotate(-45 381.60 375.30)">WT</text>
<line x1="412.50" y1="268.60" x2="501.70" y2="268.60" stroke="#b0163c" stroke-width="1.2"/>
<text x="456.90" y="266.20" font-size="7.4" fill="#b0163c" text-anchor="middle">0.3</text>
<line x1="440.70" y1="279.20" x2="458.30" y2="279.20" stroke="#111" stroke-width="1.1"/>
<text x="449.50" y="277.00" font-size="6.0" fill="#222" text-anchor="middle">0.0143</text>
<line x1="461.70" y1="279.20" x2="481.20" y2="279.20" stroke="#111" stroke-width="1.1"/>
<text x="471.45" y="277.00" font-size="6.0" fill="#222" text-anchor="middle">0.00333</text>
<line x1="424.40" y1="290.80" x2="458.80" y2="290.80" stroke="#111" stroke-width="1.1"/>
<text x="441.60" y="288.60" font-size="6.0" fill="#222" text-anchor="middle">0.522</text>
<line x1="462.70" y1="290.80" x2="497.50" y2="290.80" stroke="#111" stroke-width="1.1"/>
<text x="480.10" y="288.60" font-size="6.0" fill="#222" text-anchor="middle">7.27e-4</text>
<line x1="411.90" y1="294.20" x2="411.90" y2="363.30" stroke="#000" stroke-width="1.3"/>
<line x1="411.30" y1="362.70" x2="510.00" y2="362.70" stroke="#000" stroke-width="1.3"/>
<line x1="407.90" y1="304.40" x2="411.90" y2="304.40" stroke="#000" stroke-width="1.1"/>
<text x="403.10" y="307.06" font-size="7.4" fill="#111" text-anchor="end">2</text>
<line x1="407.90" y1="315.80" x2="411.90" y2="315.80" stroke="#000" stroke-width="1.1"/>
<text x="403.10" y="318.46" font-size="7.4" fill="#111" text-anchor="end">1</text>
<line x1="407.90" y1="327.20" x2="411.90" y2="327.20" stroke="#000" stroke-width="1.1"/>
<text x="403.10" y="329.86" font-size="7.4" fill="#111" text-anchor="end">0</text>
<line x1="407.90" y1="338.60" x2="411.90" y2="338.60" stroke="#000" stroke-width="1.1"/>
<text x="403.10" y="341.26" font-size="7.4" fill="#111" text-anchor="end">−1</text>
<line x1="407.90" y1="350.00" x2="411.90" y2="350.00" stroke="#000" stroke-width="1.1"/>
<text x="403.10" y="352.66" font-size="7.4" fill="#111" text-anchor="end">−2</text>
<line x1="407.90" y1="361.40" x2="411.90" y2="361.40" stroke="#000" stroke-width="1.1"/>
<text x="403.10" y="364.06" font-size="7.4" fill="#111" text-anchor="end">−3</text>
<rect x="416.10" y="325.40" width="14.60" height="14.00" fill="none" stroke="#222" stroke-width="1"/>
<line x1="416.10" y1="335.60" x2="430.70" y2="335.60" stroke="#111" stroke-width="1.2"/>
<g fill="#b80d3c" fill-opacity="0.78"><rect x="423.1" y="330.4" width="1.2" height="1.2"/><rect x="421.3" y="318.6" width="1.2" height="1.2"/><rect x="420.8" y="340.3" width="1.2" height="1.2"/><rect x="424.6" y="334.7" width="1.2" height="1.2"/><rect x="425.4" y="322.1" width="1.2" height="1.2"/><rect x="426.6" y="320.6" width="1.2" height="1.2"/><rect x="422.3" y="324.5" width="1.2" height="1.2"/><rect x="422.2" y="334.8" width="1.2" height="1.2"/><rect x="424.0" y="328.9" width="1.2" height="1.2"/><rect x="419.1" y="339.1" width="1.2" height="1.2"/><rect x="426.5" y="325.5" width="1.2" height="1.2"/><rect x="423.3" y="327.4" width="1.2" height="1.2"/></g>
<line x1="423.40" y1="314.60" x2="423.40" y2="325.40" stroke="#333" stroke-width="1.0"/>
<line x1="423.40" y1="339.40" x2="423.40" y2="347.00" stroke="#333" stroke-width="1.0"/>
<rect x="434.90" y="325.40" width="14.60" height="8.90" fill="none" stroke="#222" stroke-width="1"/>
<line x1="434.90" y1="332.10" x2="449.50" y2="332.10" stroke="#111" stroke-width="1.2"/>
<g fill="#b80d3c" fill-opacity="0.78"><rect x="443.1" y="332.1" width="1.2" height="1.2"/><rect x="443.1" y="320.6" width="1.2" height="1.2"/><rect x="444.6" y="327.8" width="1.2" height="1.2"/><rect x="438.5" y="334.4" width="1.2" height="1.2"/><rect x="438.1" y="333.8" width="1.2" height="1.2"/><rect x="438.1" y="326.6" width="1.2" height="1.2"/><rect x="440.9" y="333.3" width="1.2" height="1.2"/><rect x="445.2" y="326.0" width="1.2" height="1.2"/><rect x="443.2" y="324.2" width="1.2" height="1.2"/><rect x="443.3" y="330.7" width="1.2" height="1.2"/><rect x="437.6" y="331.4" width="1.2" height="1.2"/><rect x="439.3" y="332.6" width="1.2" height="1.2"/><rect x="442.3" y="323.7" width="1.2" height="1.2"/><rect x="438.6" y="325.1" width="1.2" height="1.2"/></g>
<line x1="442.20" y1="317.30" x2="442.20" y2="325.40" stroke="#333" stroke-width="1.0"/>
<line x1="442.20" y1="334.30" x2="442.20" y2="344.80" stroke="#333" stroke-width="1.0"/>
<rect x="453.80" y="318.10" width="14.60" height="12.10" fill="none" stroke="#222" stroke-width="1"/>
<line x1="453.80" y1="324.00" x2="468.40" y2="324.00" stroke="#111" stroke-width="1.2"/>
<g fill="#b80d3c" fill-opacity="0.78"><rect x="464.1" y="335.8" width="1.2" height="1.2"/><rect x="457.5" y="314.5" width="1.2" height="1.2"/><rect x="463.1" y="341.6" width="1.2" height="1.2"/><rect x="456.4" y="334.0" width="1.2" height="1.2"/><rect x="459.4" y="322.2" width="1.2" height="1.2"/><rect x="460.9" y="318.8" width="1.2" height="1.2"/><rect x="456.9" y="317.8" width="1.2" height="1.2"/><rect x="459.9" y="307.0" width="1.2" height="1.2"/><rect x="462.1" y="327.3" width="1.2" height="1.2"/><rect x="457.2" y="338.4" width="1.2" height="1.2"/><rect x="464.2" y="336.6" width="1.2" height="1.2"/><rect x="460.7" y="322.9" width="1.2" height="1.2"/><rect x="462.7" y="321.1" width="1.2" height="1.2"/><rect x="460.5" y="333.0" width="1.2" height="1.2"/><rect x="460.4" y="327.8" width="1.2" height="1.2"/><rect x="463.7" y="321.6" width="1.2" height="1.2"/><rect x="456.9" y="312.8" width="1.2" height="1.2"/><rect x="457.3" y="316.0" width="1.2" height="1.2"/><rect x="463.5" y="320.6" width="1.2" height="1.2"/><rect x="456.4" y="327.0" width="1.2" height="1.2"/><rect x="459.1" y="307.5" width="1.2" height="1.2"/><rect x="456.6" y="338.0" width="1.2" height="1.2"/><rect x="459.0" y="318.3" width="1.2" height="1.2"/><rect x="462.6" y="316.0" width="1.2" height="1.2"/><rect x="457.7" y="326.0" width="1.2" height="1.2"/><rect x="456.7" y="325.6" width="1.2" height="1.2"/><rect x="461.0" y="314.9" width="1.2" height="1.2"/><rect x="463.0" y="334.5" width="1.2" height="1.2"/><rect x="461.3" y="331.1" width="1.2" height="1.2"/><rect x="460.6" y="320.9" width="1.2" height="1.2"/><rect x="457.0" y="324.2" width="1.2" height="1.2"/><rect x="461.2" y="320.2" width="1.2" height="1.2"/><rect x="459.2" y="319.1" width="1.2" height="1.2"/><rect x="457.6" y="312.6" width="1.2" height="1.2"/><rect x="457.6" y="334.5" width="1.2" height="1.2"/><rect x="463.5" y="332.4" width="1.2" height="1.2"/><rect x="463.8" y="320.2" width="1.2" height="1.2"/><rect x="456.9" y="317.6" width="1.2" height="1.2"/><rect x="463.8" y="324.3" width="1.2" height="1.2"/><rect x="460.8" y="332.7" width="1.2" height="1.2"/></g>
<line x1="461.10" y1="305.20" x2="461.10" y2="318.10" stroke="#333" stroke-width="1.0"/>
<line x1="461.10" y1="330.20" x2="461.10" y2="342.90" stroke="#333" stroke-width="1.0"/>
<rect x="473.10" y="338.30" width="14.60" height="7.30" fill="none" stroke="#222" stroke-width="1"/>
<line x1="473.10" y1="342.10" x2="487.70" y2="342.10" stroke="#111" stroke-width="1.2"/>
<g fill="#b80d3c" fill-opacity="0.78"><rect x="479.9" y="345.4" width="1.2" height="1.2"/><rect x="479.0" y="338.5" width="1.2" height="1.2"/><rect x="477.2" y="344.5" width="1.2" height="1.2"/><rect x="483.1" y="344.6" width="1.2" height="1.2"/><rect x="479.8" y="344.7" width="1.2" height="1.2"/></g>
<line x1="480.40" y1="338.30" x2="480.40" y2="338.30" stroke="#333" stroke-width="1.0"/>
<line x1="480.40" y1="345.60" x2="480.40" y2="345.60" stroke="#333" stroke-width="1.0"/>
<rect x="491.70" y="319.20" width="14.60" height="18.30" fill="none" stroke="#222" stroke-width="1"/>
<line x1="491.70" y1="328.80" x2="506.30" y2="328.80" stroke="#111" stroke-width="1.2"/>
<g fill="#b80d3c" fill-opacity="0.78"><rect x="502.3" y="329.9" width="1.2" height="1.2"/><rect x="498.3" y="326.0" width="1.2" height="1.2"/><rect x="500.1" y="333.0" width="1.2" height="1.2"/><rect x="496.0" y="307.7" width="1.2" height="1.2"/><rect x="496.3" y="327.8" width="1.2" height="1.2"/><rect x="494.3" y="318.6" width="1.2" height="1.2"/><rect x="496.6" y="312.7" width="1.2" height="1.2"/><rect x="501.8" y="339.7" width="1.2" height="1.2"/><rect x="496.1" y="345.8" width="1.2" height="1.2"/><rect x="499.2" y="338.3" width="1.2" height="1.2"/><rect x="494.6" y="333.1" width="1.2" height="1.2"/><rect x="496.2" y="303.3" width="1.2" height="1.2"/><rect x="494.4" y="301.2" width="1.2" height="1.2"/><rect x="501.2" y="309.8" width="1.2" height="1.2"/><rect x="497.0" y="311.2" width="1.2" height="1.2"/><rect x="502.1" y="334.3" width="1.2" height="1.2"/><rect x="494.1" y="311.3" width="1.2" height="1.2"/><rect x="497.6" y="343.0" width="1.2" height="1.2"/><rect x="494.8" y="321.7" width="1.2" height="1.2"/><rect x="500.0" y="328.6" width="1.2" height="1.2"/><rect x="495.3" y="353.6" width="1.2" height="1.2"/><rect x="495.8" y="322.9" width="1.2" height="1.2"/><rect x="495.9" y="335.0" width="1.2" height="1.2"/><rect x="502.8" y="306.6" width="1.2" height="1.2"/><rect x="498.4" y="332.4" width="1.2" height="1.2"/><rect x="500.8" y="310.2" width="1.2" height="1.2"/><rect x="499.6" y="350.0" width="1.2" height="1.2"/><rect x="495.8" y="313.3" width="1.2" height="1.2"/><rect x="500.9" y="306.0" width="1.2" height="1.2"/><rect x="494.8" y="306.0" width="1.2" height="1.2"/><rect x="495.4" y="324.8" width="1.2" height="1.2"/><rect x="502.5" y="313.3" width="1.2" height="1.2"/><rect x="495.2" y="315.5" width="1.2" height="1.2"/><rect x="501.3" y="304.5" width="1.2" height="1.2"/><rect x="500.5" y="359.6" width="1.2" height="1.2"/><rect x="501.3" y="314.5" width="1.2" height="1.2"/><rect x="497.8" y="334.6" width="1.2" height="1.2"/><rect x="501.2" y="307.6" width="1.2" height="1.2"/><rect x="496.6" y="334.7" width="1.2" height="1.2"/><rect x="502.4" y="296.3" width="1.2" height="1.2"/><rect x="495.0" y="320.2" width="1.2" height="1.2"/><rect x="496.2" y="355.2" width="1.2" height="1.2"/><rect x="501.4" y="322.2" width="1.2" height="1.2"/><rect x="498.0" y="328.9" width="1.2" height="1.2"/><rect x="496.1" y="338.3" width="1.2" height="1.2"/><rect x="500.0" y="329.4" width="1.2" height="1.2"/><rect x="500.9" y="323.8" width="1.2" height="1.2"/><rect x="501.0" y="312.4" width="1.2" height="1.2"/><rect x="501.3" y="312.2" width="1.2" height="1.2"/><rect x="499.7" y="322.1" width="1.2" height="1.2"/><rect x="501.3" y="331.5" width="1.2" height="1.2"/><rect x="501.3" y="316.3" width="1.2" height="1.2"/><rect x="501.0" y="345.8" width="1.2" height="1.2"/><rect x="494.2" y="346.2" width="1.2" height="1.2"/><rect x="495.0" y="328.3" width="1.2" height="1.2"/><rect x="499.3" y="334.1" width="1.2" height="1.2"/><rect x="498.0" y="312.4" width="1.2" height="1.2"/><rect x="497.1" y="322.1" width="1.2" height="1.2"/><rect x="501.4" y="337.2" width="1.2" height="1.2"/><rect x="494.8" y="318.1" width="1.2" height="1.2"/><rect x="496.4" y="318.7" width="1.2" height="1.2"/><rect x="499.8" y="322.6" width="1.2" height="1.2"/><rect x="501.1" y="311.4" width="1.2" height="1.2"/><rect x="494.4" y="345.3" width="1.2" height="1.2"/><rect x="501.2" y="344.3" width="1.2" height="1.2"/><rect x="502.4" y="332.8" width="1.2" height="1.2"/><rect x="497.2" y="339.3" width="1.2" height="1.2"/><rect x="499.4" y="333.1" width="1.2" height="1.2"/><rect x="498.4" y="340.3" width="1.2" height="1.2"/><rect x="502.4" y="317.9" width="1.2" height="1.2"/><rect x="495.7" y="325.7" width="1.2" height="1.2"/><rect x="498.6" y="332.3" width="1.2" height="1.2"/><rect x="494.0" y="319.5" width="1.2" height="1.2"/><rect x="498.0" y="345.1" width="1.2" height="1.2"/><rect x="497.1" y="332.2" width="1.2" height="1.2"/><rect x="494.9" y="316.5" width="1.2" height="1.2"/><rect x="498.5" y="297.8" width="1.2" height="1.2"/><rect x="497.3" y="317.5" width="1.2" height="1.2"/><rect x="499.9" y="358.1" width="1.2" height="1.2"/><rect x="494.7" y="313.1" width="1.2" height="1.2"/><rect x="502.4" y="315.5" width="1.2" height="1.2"/><rect x="497.2" y="315.6" width="1.2" height="1.2"/><rect x="497.3" y="315.8" width="1.2" height="1.2"/><rect x="498.6" y="308.7" width="1.2" height="1.2"/><rect x="498.4" y="312.3" width="1.2" height="1.2"/><rect x="497.2" y="296.7" width="1.2" height="1.2"/><rect x="501.3" y="333.1" width="1.2" height="1.2"/><rect x="500.0" y="326.9" width="1.2" height="1.2"/><rect x="500.6" y="311.5" width="1.2" height="1.2"/><rect x="501.8" y="321.6" width="1.2" height="1.2"/><rect x="494.3" y="324.2" width="1.2" height="1.2"/><rect x="496.9" y="301.5" width="1.2" height="1.2"/><rect x="501.8" y="353.4" width="1.2" height="1.2"/><rect x="495.3" y="357.6" width="1.2" height="1.2"/><rect x="494.4" y="310.0" width="1.2" height="1.2"/><rect x="497.5" y="316.8" width="1.2" height="1.2"/><rect x="496.5" y="327.4" width="1.2" height="1.2"/><rect x="500.7" y="305.0" width="1.2" height="1.2"/><rect x="497.7" y="322.6" width="1.2" height="1.2"/><rect x="502.6" y="347.0" width="1.2" height="1.2"/><rect x="499.9" y="310.7" width="1.2" height="1.2"/><rect x="497.4" y="304.6" width="1.2" height="1.2"/><rect x="500.1" y="352.1" width="1.2" height="1.2"/><rect x="496.5" y="322.0" width="1.2" height="1.2"/><rect x="501.3" y="338.7" width="1.2" height="1.2"/><rect x="501.0" y="345.5" width="1.2" height="1.2"/><rect x="498.5" y="322.7" width="1.2" height="1.2"/><rect x="501.7" y="334.9" width="1.2" height="1.2"/><rect x="495.5" y="341.4" width="1.2" height="1.2"/><rect x="496.8" y="349.9" width="1.2" height="1.2"/><rect x="497.4" y="340.4" width="1.2" height="1.2"/><rect x="502.5" y="332.2" width="1.2" height="1.2"/><rect x="496.7" y="337.7" width="1.2" height="1.2"/><rect x="502.3" y="325.3" width="1.2" height="1.2"/><rect x="497.9" y="332.3" width="1.2" height="1.2"/><rect x="495.0" y="341.0" width="1.2" height="1.2"/><rect x="497.4" y="326.7" width="1.2" height="1.2"/><rect x="502.5" y="343.6" width="1.2" height="1.2"/><rect x="502.0" y="326.6" width="1.2" height="1.2"/><rect x="498.0" y="338.4" width="1.2" height="1.2"/><rect x="500.8" y="339.5" width="1.2" height="1.2"/><rect x="496.8" y="308.4" width="1.2" height="1.2"/><rect x="498.1" y="343.2" width="1.2" height="1.2"/><rect x="498.9" y="349.6" width="1.2" height="1.2"/><rect x="496.4" y="315.0" width="1.2" height="1.2"/><rect x="497.2" y="304.4" width="1.2" height="1.2"/><rect x="496.5" y="344.7" width="1.2" height="1.2"/><rect x="499.5" y="318.1" width="1.2" height="1.2"/><rect x="494.4" y="326.1" width="1.2" height="1.2"/><rect x="501.3" y="355.0" width="1.2" height="1.2"/><rect x="502.3" y="314.2" width="1.2" height="1.2"/><rect x="496.3" y="321.7" width="1.2" height="1.2"/><rect x="498.8" y="328.0" width="1.2" height="1.2"/><rect x="500.6" y="333.8" width="1.2" height="1.2"/><rect x="501.1" y="320.6" width="1.2" height="1.2"/><rect x="495.0" y="313.0" width="1.2" height="1.2"/><rect x="502.5" y="319.7" width="1.2" height="1.2"/><rect x="499.6" y="349.2" width="1.2" height="1.2"/><rect x="497.5" y="318.0" width="1.2" height="1.2"/><rect x="502.3" y="302.1" width="1.2" height="1.2"/><rect x="497.5" y="327.1" width="1.2" height="1.2"/><rect x="501.1" y="313.2" width="1.2" height="1.2"/><rect x="501.7" y="321.8" width="1.2" height="1.2"/><rect x="498.7" y="336.0" width="1.2" height="1.2"/><rect x="501.9" y="304.3" width="1.2" height="1.2"/><rect x="495.2" y="324.6" width="1.2" height="1.2"/><rect x="497.6" y="324.6" width="1.2" height="1.2"/><rect x="498.4" y="332.7" width="1.2" height="1.2"/><rect x="499.1" y="341.9" width="1.2" height="1.2"/><rect x="497.6" y="308.8" width="1.2" height="1.2"/><rect x="501.4" y="316.4" width="1.2" height="1.2"/><rect x="500.9" y="322.1" width="1.2" height="1.2"/><rect x="499.9" y="332.6" width="1.2" height="1.2"/><rect x="500.6" y="320.0" width="1.2" height="1.2"/><rect x="501.9" y="327.6" width="1.2" height="1.2"/><rect x="499.7" y="326.5" width="1.2" height="1.2"/><rect x="501.7" y="298.3" width="1.2" height="1.2"/><rect x="500.2" y="344.6" width="1.2" height="1.2"/><rect x="499.4" y="346.0" width="1.2" height="1.2"/><rect x="499.3" y="326.8" width="1.2" height="1.2"/><rect x="501.2" y="333.6" width="1.2" height="1.2"/><rect x="496.0" y="326.2" width="1.2" height="1.2"/><rect x="494.8" y="338.7" width="1.2" height="1.2"/><rect x="501.0" y="308.4" width="1.2" height="1.2"/><rect x="494.7" y="312.1" width="1.2" height="1.2"/><rect x="501.4" y="346.8" width="1.2" height="1.2"/><rect x="499.5" y="327.2" width="1.2" height="1.2"/><rect x="495.2" y="328.9" width="1.2" height="1.2"/><rect x="497.9" y="326.9" width="1.2" height="1.2"/><rect x="498.9" y="333.2" width="1.2" height="1.2"/><rect x="501.3" y="329.3" width="1.2" height="1.2"/><rect x="495.0" y="323.5" width="1.2" height="1.2"/><rect x="497.0" y="331.3" width="1.2" height="1.2"/><rect x="496.9" y="349.9" width="1.2" height="1.2"/><rect x="501.0" y="317.6" width="1.2" height="1.2"/><rect x="495.9" y="323.1" width="1.2" height="1.2"/><rect x="498.7" y="343.2" width="1.2" height="1.2"/><rect x="494.3" y="303.3" width="1.2" height="1.2"/><rect x="498.4" y="328.4" width="1.2" height="1.2"/><rect x="497.7" y="324.0" width="1.2" height="1.2"/><rect x="500.4" y="348.5" width="1.2" height="1.2"/><rect x="499.1" y="336.4" width="1.2" height="1.2"/><rect x="499.2" y="312.3" width="1.2" height="1.2"/><rect x="496.0" y="338.9" width="1.2" height="1.2"/><rect x="496.9" y="341.3" width="1.2" height="1.2"/><rect x="498.2" y="333.9" width="1.2" height="1.2"/><rect x="495.2" y="327.2" width="1.2" height="1.2"/><rect x="500.2" y="304.6" width="1.2" height="1.2"/><rect x="498.0" y="334.6" width="1.2" height="1.2"/><rect x="497.5" y="322.1" width="1.2" height="1.2"/><rect x="496.5" y="336.4" width="1.2" height="1.2"/><rect x="498.5" y="336.7" width="1.2" height="1.2"/><rect x="497.9" y="352.1" width="1.2" height="1.2"/><rect x="495.7" y="335.8" width="1.2" height="1.2"/><rect x="496.3" y="351.2" width="1.2" height="1.2"/><rect x="502.5" y="304.8" width="1.2" height="1.2"/><rect x="500.6" y="318.6" width="1.2" height="1.2"/><rect x="500.3" y="316.3" width="1.2" height="1.2"/><rect x="495.8" y="326.7" width="1.2" height="1.2"/><rect x="494.1" y="322.1" width="1.2" height="1.2"/><rect x="499.5" y="344.4" width="1.2" height="1.2"/><rect x="496.3" y="308.5" width="1.2" height="1.2"/><rect x="499.6" y="321.9" width="1.2" height="1.2"/><rect x="502.7" y="335.3" width="1.2" height="1.2"/><rect x="495.6" y="326.1" width="1.2" height="1.2"/><rect x="497.1" y="332.2" width="1.2" height="1.2"/><rect x="498.0" y="350.9" width="1.2" height="1.2"/><rect x="494.9" y="310.7" width="1.2" height="1.2"/><rect x="500.8" y="335.0" width="1.2" height="1.2"/><rect x="498.1" y="333.5" width="1.2" height="1.2"/><rect x="501.0" y="325.7" width="1.2" height="1.2"/><rect x="495.1" y="298.5" width="1.2" height="1.2"/><rect x="495.0" y="332.1" width="1.2" height="1.2"/><rect x="495.9" y="310.3" width="1.2" height="1.2"/><rect x="496.2" y="320.4" width="1.2" height="1.2"/><rect x="500.2" y="332.4" width="1.2" height="1.2"/><rect x="497.8" y="312.7" width="1.2" height="1.2"/><rect x="501.1" y="326.0" width="1.2" height="1.2"/><rect x="501.4" y="312.2" width="1.2" height="1.2"/><rect x="495.9" y="329.5" width="1.2" height="1.2"/><rect x="499.1" y="329.7" width="1.2" height="1.2"/><rect x="501.3" y="326.2" width="1.2" height="1.2"/><rect x="500.9" y="329.2" width="1.2" height="1.2"/><rect x="501.8" y="323.1" width="1.2" height="1.2"/><rect x="498.7" y="328.8" width="1.2" height="1.2"/><rect x="499.5" y="340.4" width="1.2" height="1.2"/><rect x="501.8" y="333.8" width="1.2" height="1.2"/><rect x="495.8" y="305.1" width="1.2" height="1.2"/><rect x="496.2" y="330.0" width="1.2" height="1.2"/><rect x="494.9" y="340.7" width="1.2" height="1.2"/><rect x="499.2" y="319.0" width="1.2" height="1.2"/><rect x="498.0" y="335.2" width="1.2" height="1.2"/><rect x="499.1" y="335.3" width="1.2" height="1.2"/><rect x="497.9" y="311.4" width="1.2" height="1.2"/><rect x="494.6" y="308.9" width="1.2" height="1.2"/><rect x="498.1" y="326.9" width="1.2" height="1.2"/><rect x="497.5" y="322.5" width="1.2" height="1.2"/><rect x="496.1" y="316.0" width="1.2" height="1.2"/><rect x="499.7" y="305.5" width="1.2" height="1.2"/><rect x="495.3" y="321.3" width="1.2" height="1.2"/><rect x="502.0" y="311.0" width="1.2" height="1.2"/><rect x="496.1" y="323.1" width="1.2" height="1.2"/><rect x="502.7" y="324.4" width="1.2" height="1.2"/><rect x="500.9" y="329.9" width="1.2" height="1.2"/><rect x="501.2" y="343.5" width="1.2" height="1.2"/><rect x="494.4" y="310.3" width="1.2" height="1.2"/><rect x="494.8" y="308.2" width="1.2" height="1.2"/><rect x="494.4" y="356.1" width="1.2" height="1.2"/><rect x="494.4" y="323.5" width="1.2" height="1.2"/><rect x="495.9" y="330.0" width="1.2" height="1.2"/><rect x="499.6" y="310.4" width="1.2" height="1.2"/><rect x="495.4" y="338.6" width="1.2" height="1.2"/><rect x="494.2" y="321.7" width="1.2" height="1.2"/><rect x="502.5" y="328.1" width="1.2" height="1.2"/><rect x="500.2" y="320.3" width="1.2" height="1.2"/><rect x="495.4" y="338.9" width="1.2" height="1.2"/><rect x="498.5" y="354.4" width="1.2" height="1.2"/><rect x="501.8" y="349.8" width="1.2" height="1.2"/><rect x="502.0" y="345.0" width="1.2" height="1.2"/><rect x="498.9" y="358.8" width="1.2" height="1.2"/><rect x="501.2" y="328.2" width="1.2" height="1.2"/><rect x="499.2" y="305.6" width="1.2" height="1.2"/><rect x="501.0" y="327.4" width="1.2" height="1.2"/><rect x="498.8" y="332.4" width="1.2" height="1.2"/><rect x="496.6" y="330.2" width="1.2" height="1.2"/><rect x="500.5" y="326.2" width="1.2" height="1.2"/><rect x="494.2" y="328.9" width="1.2" height="1.2"/><rect x="498.0" y="341.7" width="1.2" height="1.2"/><rect x="495.1" y="302.2" width="1.2" height="1.2"/><rect x="497.8" y="321.4" width="1.2" height="1.2"/><rect x="495.0" y="319.0" width="1.2" height="1.2"/><rect x="497.1" y="347.5" width="1.2" height="1.2"/><rect x="494.8" y="324.8" width="1.2" height="1.2"/><rect x="501.5" y="323.9" width="1.2" height="1.2"/><rect x="494.9" y="297.0" width="1.2" height="1.2"/><rect x="500.7" y="318.6" width="1.2" height="1.2"/><rect x="495.3" y="337.7" width="1.2" height="1.2"/><rect x="500.8" y="300.4" width="1.2" height="1.2"/><rect x="495.0" y="334.0" width="1.2" height="1.2"/><rect x="500.1" y="328.0" width="1.2" height="1.2"/><rect x="498.0" y="312.1" width="1.2" height="1.2"/><rect x="497.6" y="316.5" width="1.2" height="1.2"/><rect x="502.0" y="310.1" width="1.2" height="1.2"/><rect x="500.4" y="313.0" width="1.2" height="1.2"/><rect x="501.4" y="337.9" width="1.2" height="1.2"/><rect x="500.0" y="326.9" width="1.2" height="1.2"/><rect x="501.5" y="323.9" width="1.2" height="1.2"/><rect x="495.6" y="298.1" width="1.2" height="1.2"/><rect x="502.3" y="341.5" width="1.2" height="1.2"/><rect x="496.2" y="304.5" width="1.2" height="1.2"/><rect x="496.7" y="336.7" width="1.2" height="1.2"/><rect x="494.8" y="319.6" width="1.2" height="1.2"/><rect x="497.9" y="339.2" width="1.2" height="1.2"/><rect x="502.2" y="350.8" width="1.2" height="1.2"/><rect x="500.7" y="325.0" width="1.2" height="1.2"/><rect x="500.6" y="354.3" width="1.2" height="1.2"/><rect x="497.6" y="325.9" width="1.2" height="1.2"/><rect x="494.2" y="339.7" width="1.2" height="1.2"/><rect x="502.1" y="331.7" width="1.2" height="1.2"/><rect x="500.8" y="314.8" width="1.2" height="1.2"/><rect x="501.8" y="351.8" width="1.2" height="1.2"/><rect x="494.9" y="333.2" width="1.2" height="1.2"/><rect x="501.3" y="308.9" width="1.2" height="1.2"/><rect x="497.2" y="319.0" width="1.2" height="1.2"/><rect x="498.7" y="348.3" width="1.2" height="1.2"/><rect x="498.7" y="337.0" width="1.2" height="1.2"/><rect x="499.7" y="325.7" width="1.2" height="1.2"/><rect x="497.6" y="318.8" width="1.2" height="1.2"/><rect x="502.5" y="348.6" width="1.2" height="1.2"/><rect x="494.8" y="315.2" width="1.2" height="1.2"/><rect x="502.0" y="330.8" width="1.2" height="1.2"/><rect x="494.1" y="340.5" width="1.2" height="1.2"/><rect x="502.7" y="326.1" width="1.2" height="1.2"/><rect x="495.6" y="352.9" width="1.2" height="1.2"/><rect x="500.1" y="305.3" width="1.2" height="1.2"/><rect x="500.6" y="337.0" width="1.2" height="1.2"/><rect x="496.3" y="328.0" width="1.2" height="1.2"/><rect x="494.3" y="315.7" width="1.2" height="1.2"/><rect x="496.3" y="323.8" width="1.2" height="1.2"/><rect x="502.5" y="317.6" width="1.2" height="1.2"/><rect x="499.8" y="314.5" width="1.2" height="1.2"/><rect x="499.3" y="311.1" width="1.2" height="1.2"/><rect x="494.6" y="323.2" width="1.2" height="1.2"/><rect x="494.6" y="315.0" width="1.2" height="1.2"/><rect x="495.3" y="342.8" width="1.2" height="1.2"/><rect x="495.0" y="329.1" width="1.2" height="1.2"/><rect x="500.0" y="329.4" width="1.2" height="1.2"/><rect x="495.6" y="323.7" width="1.2" height="1.2"/><rect x="494.9" y="354.7" width="1.2" height="1.2"/><rect x="500.1" y="322.4" width="1.2" height="1.2"/><rect x="497.9" y="343.2" width="1.2" height="1.2"/><rect x="502.2" y="326.8" width="1.2" height="1.2"/><rect x="497.0" y="320.7" width="1.2" height="1.2"/><rect x="501.3" y="329.7" width="1.2" height="1.2"/><rect x="496.0" y="324.3" width="1.2" height="1.2"/><rect x="499.9" y="345.3" width="1.2" height="1.2"/><rect x="496.5" y="305.1" width="1.2" height="1.2"/><rect x="501.9" y="338.1" width="1.2" height="1.2"/><rect x="495.4" y="328.4" width="1.2" height="1.2"/><rect x="499.8" y="316.3" width="1.2" height="1.2"/><rect x="495.6" y="309.9" width="1.2" height="1.2"/><rect x="502.6" y="332.2" width="1.2" height="1.2"/><rect x="497.4" y="333.4" width="1.2" height="1.2"/><rect x="496.0" y="315.8" width="1.2" height="1.2"/><rect x="494.6" y="310.9" width="1.2" height="1.2"/><rect x="495.2" y="358.8" width="1.2" height="1.2"/><rect x="502.5" y="330.6" width="1.2" height="1.2"/><rect x="495.2" y="311.1" width="1.2" height="1.2"/><rect x="500.9" y="347.0" width="1.2" height="1.2"/><rect x="498.6" y="327.6" width="1.2" height="1.2"/><rect x="495.0" y="342.9" width="1.2" height="1.2"/><rect x="496.5" y="328.1" width="1.2" height="1.2"/><rect x="497.4" y="356.1" width="1.2" height="1.2"/><rect x="495.7" y="328.8" width="1.2" height="1.2"/><rect x="495.9" y="316.5" width="1.2" height="1.2"/><rect x="499.6" y="316.4" width="1.2" height="1.2"/><rect x="498.2" y="337.8" width="1.2" height="1.2"/><rect x="499.8" y="331.3" width="1.2" height="1.2"/><rect x="501.3" y="324.0" width="1.2" height="1.2"/><rect x="497.9" y="328.1" width="1.2" height="1.2"/><rect x="495.0" y="331.6" width="1.2" height="1.2"/><rect x="494.8" y="303.4" width="1.2" height="1.2"/><rect x="495.1" y="334.0" width="1.2" height="1.2"/><rect x="496.0" y="318.0" width="1.2" height="1.2"/><rect x="497.9" y="329.0" width="1.2" height="1.2"/><rect x="497.2" y="332.1" width="1.2" height="1.2"/><rect x="498.1" y="331.8" width="1.2" height="1.2"/><rect x="494.6" y="346.4" width="1.2" height="1.2"/><rect x="496.0" y="319.9" width="1.2" height="1.2"/><rect x="501.6" y="327.0" width="1.2" height="1.2"/><rect x="502.5" y="307.3" width="1.2" height="1.2"/><rect x="502.3" y="332.6" width="1.2" height="1.2"/><rect x="498.6" y="321.8" width="1.2" height="1.2"/><rect x="501.6" y="328.4" width="1.2" height="1.2"/><rect x="495.9" y="337.5" width="1.2" height="1.2"/><rect x="502.1" y="338.6" width="1.2" height="1.2"/><rect x="498.1" y="334.0" width="1.2" height="1.2"/><rect x="498.0" y="327.0" width="1.2" height="1.2"/><rect x="496.8" y="321.5" width="1.2" height="1.2"/><rect x="497.2" y="334.3" width="1.2" height="1.2"/><rect x="495.1" y="350.3" width="1.2" height="1.2"/><rect x="495.6" y="345.9" width="1.2" height="1.2"/><rect x="494.1" y="325.9" width="1.2" height="1.2"/><rect x="494.2" y="316.8" width="1.2" height="1.2"/><rect x="498.1" y="312.1" width="1.2" height="1.2"/><rect x="496.1" y="326.6" width="1.2" height="1.2"/><rect x="498.4" y="308.0" width="1.2" height="1.2"/><rect x="495.3" y="309.5" width="1.2" height="1.2"/><rect x="501.1" y="313.6" width="1.2" height="1.2"/><rect x="501.5" y="352.4" width="1.2" height="1.2"/><rect x="497.2" y="319.0" width="1.2" height="1.2"/><rect x="496.0" y="336.0" width="1.2" height="1.2"/><rect x="499.3" y="322.0" width="1.2" height="1.2"/><rect x="495.9" y="333.1" width="1.2" height="1.2"/><rect x="494.3" y="323.9" width="1.2" height="1.2"/><rect x="495.7" y="319.6" width="1.2" height="1.2"/><rect x="500.6" y="331.0" width="1.2" height="1.2"/><rect x="497.5" y="308.9" width="1.2" height="1.2"/><rect x="502.3" y="326.7" width="1.2" height="1.2"/><rect x="496.1" y="325.5" width="1.2" height="1.2"/><rect x="502.3" y="308.9" width="1.2" height="1.2"/><rect x="498.3" y="330.5" width="1.2" height="1.2"/><rect x="495.9" y="349.9" width="1.2" height="1.2"/><rect x="501.3" y="326.6" width="1.2" height="1.2"/><rect x="498.0" y="346.4" width="1.2" height="1.2"/><rect x="496.8" y="333.8" width="1.2" height="1.2"/><rect x="499.9" y="315.6" width="1.2" height="1.2"/><rect x="494.2" y="335.8" width="1.2" height="1.2"/><rect x="501.3" y="321.1" width="1.2" height="1.2"/><rect x="494.0" y="334.5" width="1.2" height="1.2"/><rect x="498.0" y="318.2" width="1.2" height="1.2"/><rect x="498.9" y="320.1" width="1.2" height="1.2"/><rect x="496.1" y="325.7" width="1.2" height="1.2"/><rect x="495.1" y="319.3" width="1.2" height="1.2"/><rect x="495.2" y="336.5" width="1.2" height="1.2"/><rect x="498.6" y="325.5" width="1.2" height="1.2"/><rect x="494.5" y="298.8" width="1.2" height="1.2"/><rect x="496.1" y="311.5" width="1.2" height="1.2"/><rect x="498.0" y="338.2" width="1.2" height="1.2"/><rect x="497.6" y="346.1" width="1.2" height="1.2"/><rect x="501.6" y="345.6" width="1.2" height="1.2"/><rect x="502.4" y="312.6" width="1.2" height="1.2"/><rect x="497.6" y="323.2" width="1.2" height="1.2"/><rect x="494.9" y="339.0" width="1.2" height="1.2"/><rect x="496.6" y="340.8" width="1.2" height="1.2"/><rect x="502.5" y="329.2" width="1.2" height="1.2"/><rect x="498.7" y="339.2" width="1.2" height="1.2"/><rect x="501.5" y="315.7" width="1.2" height="1.2"/><rect x="498.5" y="335.9" width="1.2" height="1.2"/><rect x="495.0" y="306.1" width="1.2" height="1.2"/></g>
<line x1="499.00" y1="297.10" x2="499.00" y2="319.20" stroke="#333" stroke-width="1.0"/>
<line x1="499.00" y1="337.50" x2="499.00" y2="359.60" stroke="#333" stroke-width="1.0"/>
<line x1="423.40" y1="362.70" x2="423.40" y2="366.80" stroke="#000" stroke-width="1.2"/>
<text x="427.40" y="375.30" font-size="9.4" fill="#111" text-anchor="end" textLength="9.72" lengthAdjust="spacingAndGlyphs" transform="rotate(-45 427.40 375.30)">12</text>
<line x1="442.20" y1="362.70" x2="442.20" y2="366.80" stroke="#000" stroke-width="1.2"/>
<text x="446.20" y="375.30" font-size="9.4" fill="#111" text-anchor="end" textLength="9.72" lengthAdjust="spacingAndGlyphs" transform="rotate(-45 446.20 375.30)">13</text>
<line x1="461.10" y1="362.70" x2="461.10" y2="366.80" stroke="#000" stroke-width="1.2"/>
<text x="465.10" y="375.30" font-size="9.4" fill="#111" text-anchor="end" textLength="9.72" lengthAdjust="spacingAndGlyphs" transform="rotate(-45 465.10 375.30)">61</text>
<line x1="480.40" y1="362.70" x2="480.40" y2="366.80" stroke="#000" stroke-width="1.2"/>
<text x="484.40" y="375.30" font-size="9.4" fill="#111" text-anchor="end" textLength="21.86" lengthAdjust="spacingAndGlyphs" transform="rotate(-45 484.40 375.30)">Other</text>
<line x1="499.00" y1="362.70" x2="499.00" y2="366.80" stroke="#000" stroke-width="1.2"/>
<text x="503.00" y="375.30" font-size="9.4" fill="#111" text-anchor="end" textLength="13.59" lengthAdjust="spacingAndGlyphs" transform="rotate(-45 503.00 375.30)">WT</text>
<g transform="translate(21.00 370.30) rotate(-90)">
<text x="0" y="0" font-size="12.0" font-weight="bold" fill="#111" textLength="60.00" lengthAdjust="spacingAndGlyphs">PROGENy MAPK</text>
<text x="62.00" y="0" font-size="12.0" fill="#111" textLength="22.60" lengthAdjust="spacingAndGlyphs" stroke="#111" stroke-width="0.2">scores</text>
</g>
<text x="117.80" y="406.40" font-size="10.9" fill="#111" font-style="italic" textLength="19.90" lengthAdjust="spacingAndGlyphs" stroke="#111" stroke-width="0.3">KRAS</text>
<text x="140.30" y="406.40" font-size="10.9" fill="#111" textLength="55.30" lengthAdjust="spacingAndGlyphs" stroke="#111" stroke-width="0.2">mutation codon</text>
<text x="361.90" y="406.40" font-size="10.9" fill="#111" font-style="italic" textLength="20.80" lengthAdjust="spacingAndGlyphs" stroke="#111" stroke-width="0.3">NRAS</text>
<text x="384.40" y="406.40" font-size="10.9" fill="#111" textLength="54.90" lengthAdjust="spacingAndGlyphs" stroke="#111" stroke-width="0.2">mutation codon</text>
<line x1="46.20" y1="449.20" x2="46.20" y2="564.30" stroke="#000" stroke-width="1.3"/>
<line x1="45.60" y1="563.70" x2="171.70" y2="563.70" stroke="#000" stroke-width="1.3"/>
<line x1="42.20" y1="563.70" x2="46.20" y2="563.70" stroke="#000" stroke-width="1.1"/>
<line x1="43.20" y1="547.87" x2="46.20" y2="547.87" stroke="#000" stroke-width="1.1"/>
<line x1="43.20" y1="532.04" x2="46.20" y2="532.04" stroke="#000" stroke-width="1.1"/>
<line x1="43.20" y1="516.21" x2="46.20" y2="516.21" stroke="#000" stroke-width="1.1"/>
<line x1="43.20" y1="500.38" x2="46.20" y2="500.38" stroke="#000" stroke-width="1.1"/>
<line x1="43.20" y1="484.55" x2="46.20" y2="484.55" stroke="#000" stroke-width="1.1"/>
<line x1="43.20" y1="468.72" x2="46.20" y2="468.72" stroke="#000" stroke-width="1.1"/>
<line x1="42.20" y1="452.89" x2="46.20" y2="452.89" stroke="#000" stroke-width="1.1"/>
<text x="37.90" y="566.70" font-size="8.5" fill="#111" text-anchor="end">0</text>
<text x="37.90" y="455.89" font-size="8.5" fill="#111" text-anchor="end">35</text>
<line x1="48.60" y1="563.70" x2="48.60" y2="567.20" stroke="#000" stroke-width="1.1"/>
<line x1="68.55" y1="563.70" x2="68.55" y2="567.20" stroke="#000" stroke-width="1.1"/>
<line x1="88.50" y1="563.70" x2="88.50" y2="567.20" stroke="#000" stroke-width="1.1"/>
<line x1="108.45" y1="563.70" x2="108.45" y2="567.20" stroke="#000" stroke-width="1.1"/>
<line x1="128.40" y1="563.70" x2="128.40" y2="567.20" stroke="#000" stroke-width="1.1"/>
<line x1="148.35" y1="563.70" x2="148.35" y2="567.20" stroke="#000" stroke-width="1.1"/>
<line x1="168.30" y1="563.70" x2="168.30" y2="567.20" stroke="#000" stroke-width="1.1"/>
<text x="48.80" y="580.50" font-size="8.5" fill="#111" text-anchor="middle">-3</text>
<text x="168.40" y="580.50" font-size="8.5" fill="#111" text-anchor="middle">3</text>
<g shape-rendering="crispEdges">
<rect x="50.70" y="560.90" width="2.05" height="2.80" fill="#a8002c"/>
<rect x="56.80" y="560.90" width="4.05" height="2.80" fill="#a8002c"/>
<rect x="62.80" y="551.60" width="2.05" height="12.10" fill="#a8002c"/>
<rect x="64.80" y="560.90" width="2.05" height="2.80" fill="#a8002c"/>
<rect x="66.80" y="551.60" width="4.15" height="12.10" fill="#a8002c"/>
<rect x="70.90" y="555.00" width="3.75" height="8.70" fill="#a8002c"/>
<rect x="74.60" y="536.20" width="2.35" height="27.50" fill="#a8002c"/>
<rect x="76.90" y="516.90" width="1.85" height="46.80" fill="#a8002c"/>
<rect x="78.70" y="535.70" width="2.35" height="28.00" fill="#a8002c"/>
<rect x="81.00" y="516.90" width="2.05" height="46.80" fill="#a8002c"/>
<rect x="83.00" y="504.20" width="2.05" height="59.50" fill="#a8002c"/>
<rect x="85.00" y="507.10" width="3.85" height="56.60" fill="#a8002c"/>
<rect x="88.80" y="491.40" width="2.05" height="72.30" fill="#a8002c"/>
<rect x="90.80" y="488.30" width="2.05" height="75.40" fill="#a8002c"/>
<rect x="92.80" y="450.10" width="1.95" height="113.60" fill="#2e4b7a"/>
<rect x="94.70" y="456.80" width="2.05" height="106.90" fill="#2e4b7a"/>
<rect x="96.70" y="482.00" width="2.05" height="81.70" fill="#2e4b7a"/>
<rect x="98.70" y="497.70" width="2.05" height="66.00" fill="#2e4b7a"/>
<rect x="100.70" y="453.50" width="2.05" height="110.20" fill="#2e4b7a"/>
<rect x="102.70" y="485.20" width="2.15" height="78.50" fill="#2e4b7a"/>
<rect x="104.80" y="478.90" width="1.75" height="84.80" fill="#2e4b7a"/>
<rect x="106.50" y="472.50" width="2.25" height="91.20" fill="#6aa641"/>
<rect x="108.70" y="491.20" width="2.15" height="72.50" fill="#6aa641"/>
<rect x="110.80" y="494.80" width="2.25" height="68.90" fill="#6aa641"/>
<rect x="113.00" y="482.20" width="4.05" height="81.50" fill="#6aa641"/>
<rect x="117.00" y="510.60" width="2.05" height="53.10" fill="#6aa641"/>
<rect x="119.00" y="501.30" width="1.95" height="62.40" fill="#6aa641"/>
<rect x="120.90" y="504.10" width="1.95" height="59.60" fill="#6aa641"/>
<rect x="122.80" y="475.60" width="2.05" height="88.10" fill="#53285f"/>
<rect x="124.80" y="482.20" width="1.95" height="81.50" fill="#53285f"/>
<rect x="126.70" y="516.40" width="2.15" height="47.30" fill="#53285f"/>
<rect x="128.80" y="497.60" width="1.85" height="66.10" fill="#53285f"/>
<rect x="130.60" y="510.60" width="2.35" height="53.10" fill="#53285f"/>
<rect x="132.90" y="522.90" width="2.05" height="40.80" fill="#53285f"/>
<rect x="134.90" y="529.40" width="2.05" height="34.30" fill="#53285f"/>
<rect x="136.90" y="520.00" width="2.05" height="43.70" fill="#53285f"/>
<rect x="138.90" y="526.50" width="2.25" height="37.20" fill="#53285f"/>
<rect x="141.10" y="539.00" width="2.25" height="24.70" fill="#53285f"/>
<rect x="143.30" y="545.20" width="1.75" height="18.50" fill="#53285f"/>
<rect x="145.00" y="552.00" width="1.95" height="11.70" fill="#53285f"/>
<rect x="146.90" y="558.20" width="2.15" height="5.50" fill="#53285f"/>
<rect x="149.00" y="561.10" width="1.85" height="2.60" fill="#53285f"/>
<rect x="150.80" y="551.40" width="1.85" height="12.30" fill="#53285f"/>
<rect x="152.60" y="558.20" width="1.95" height="5.50" fill="#53285f"/>
<rect x="154.50" y="561.10" width="2.05" height="2.60" fill="#53285f"/>
<rect x="156.50" y="562.60" width="2.35" height="1.10" fill="#53285f"/>
<rect x="158.80" y="561.10" width="5.85" height="2.60" fill="#53285f"/>
</g>
<rect x="152.30" y="456.30" width="6.50" height="6.30" fill="#a8002c"/>
<text x="162.70" y="461.30" font-size="7.6" fill="#111">q1</text>
<rect x="152.30" y="469.70" width="6.50" height="6.30" fill="#2e4b7a"/>
<text x="162.70" y="474.70" font-size="7.6" fill="#111">q2</text>
<rect x="152.30" y="483.10" width="6.50" height="6.30" fill="#6aa641"/>
<text x="162.70" y="488.10" font-size="7.6" fill="#111">q3</text>
<rect x="152.30" y="496.50" width="6.50" height="6.30" fill="#53285f"/>
<text x="162.70" y="501.50" font-size="7.6" fill="#111">q4</text>
<text x="20.70" y="524.70" font-size="12.0" fill="#111" textLength="36.40" lengthAdjust="spacingAndGlyphs" transform="rotate(-90 20.70 524.70)" stroke="#111" stroke-width="0.2">Frequency</text>
<text x="68.10" y="596.30" font-size="10.8" fill="#111" font-weight="bold" textLength="60.20" lengthAdjust="spacingAndGlyphs">PROGENy MAPK</text>
<text x="130.80" y="596.30" font-size="10.8" fill="#111" textLength="18.60" lengthAdjust="spacingAndGlyphs" stroke="#111" stroke-width="0.2">score</text>
<line x1="215.30" y1="449.80" x2="215.30" y2="568.10" stroke="#000" stroke-width="1.3"/>
<line x1="214.70" y1="567.50" x2="333.00" y2="567.50" stroke="#000" stroke-width="1.3"/>
<line x1="211.30" y1="567.50" x2="215.30" y2="567.50" stroke="#000" stroke-width="1.1"/>
<line x1="211.30" y1="544.70" x2="215.30" y2="544.70" stroke="#000" stroke-width="1.1"/>
<line x1="211.30" y1="521.90" x2="215.30" y2="521.90" stroke="#000" stroke-width="1.1"/>
<line x1="211.30" y1="499.10" x2="215.30" y2="499.10" stroke="#000" stroke-width="1.1"/>
<line x1="211.30" y1="476.30" x2="215.30" y2="476.30" stroke="#000" stroke-width="1.1"/>
<line x1="211.30" y1="453.50" x2="215.30" y2="453.50" stroke="#000" stroke-width="1.1"/>
<line x1="215.30" y1="567.50" x2="215.30" y2="571.50" stroke="#000" stroke-width="1.1"/>
<line x1="238.18" y1="567.50" x2="238.18" y2="571.50" stroke="#000" stroke-width="1.1"/>
<line x1="261.06" y1="567.50" x2="261.06" y2="571.50" stroke="#000" stroke-width="1.1"/>
<line x1="283.94" y1="567.50" x2="283.94" y2="571.50" stroke="#000" stroke-width="1.1"/>
<line x1="306.82" y1="567.50" x2="306.82" y2="571.50" stroke="#000" stroke-width="1.1"/>
<line x1="329.70" y1="567.50" x2="329.70" y2="571.50" stroke="#000" stroke-width="1.1"/>
<text x="203.50" y="456.20" font-size="7.6" fill="#111" text-anchor="middle">1</text>
<text x="203.50" y="570.20" font-size="7.6" fill="#111" text-anchor="middle">0</text>
<text x="215.30" y="583.30" font-size="7.6" fill="#111" text-anchor="middle">0</text>
<text x="329.70" y="583.30" font-size="7.6" fill="#111" text-anchor="middle">60</text>
<text x="274.80" y="599.60" font-size="11.5" fill="#111" text-anchor="middle" textLength="26.20" lengthAdjust="spacingAndGlyphs" stroke="#111" stroke-width="0.3">Months</text>
<text x="195.20" y="523.95" font-size="11.5" fill="#111" textLength="30.70" lengthAdjust="spacingAndGlyphs" transform="rotate(-90 195.20 523.95)" stroke="#111" stroke-width="0.2">PFS (%)</text>
<text x="295.00" y="468.00" font-size="7.4" fill="#111" text-anchor="middle" textLength="36.50" lengthAdjust="spacingAndGlyphs">P=7.21e-07</text>
<polyline points="215.30,453.40 217.00,453.40 217.00,453.40 219.76,453.40 219.76,458.68 220.60,458.68 220.60,460.30 223.11,460.30 223.11,464.51 224.30,464.51 224.30,466.50 227.13,466.50 227.13,470.02 229.20,470.02 229.20,472.60 231.83,472.60 231.83,475.86 234.20,475.86 234.20,478.80 237.56,478.80 237.56,482.99 239.10,482.99 239.10,484.90 241.19,484.90 241.19,486.99 242.72,486.99 242.72,488.52 244.00,488.52 244.00,489.80 247.10,489.80 247.10,493.73 248.51,493.73 248.51,495.51 248.90,495.51 248.90,496.00 252.71,496.00 252.71,499.81 253.80,499.81 253.80,500.90 256.70,500.90 256.70,504.50 258.41,504.50 258.41,506.62 258.80,506.62 258.80,507.10 261.47,507.10 261.47,511.14 262.93,511.14 262.93,513.34 263.70,513.34 263.70,514.50 265.63,514.50 265.63,516.43 267.01,516.43 267.01,517.81 268.60,517.81 268.60,519.40 271.05,519.40 271.05,521.85 273.50,521.85 273.50,524.30 276.15,524.30 276.15,527.59 278.50,527.59 278.50,530.50 281.10,530.50 281.10,533.10 283.40,533.10 283.40,535.40 285.89,535.40 285.89,538.23 287.10,538.23 287.10,539.60 290.80,539.60 290.80,542.80 303.10,542.80 303.10,543.50" fill="none" stroke="#5b2a7e" stroke-width="1.15" stroke-linejoin="miter"/>
<path d="M250.9,494.9v2.2M289.1,538.5v2.2M292.8,541.7v2.2M296.0,541.7v2.2M299.7,541.7v2.2M302.4,541.7v2.2" stroke="#5b2a7e" stroke-width="0.9" fill="none"/>
<polyline points="215.30,453.40 219.19,453.40 219.19,456.58 222.67,456.58 222.67,459.43 225.81,459.43 225.81,461.99 226.80,461.99 226.80,462.80 228.70,462.80 228.70,463.98 230.75,463.98 230.75,465.26 232.23,465.26 232.23,466.18 235.52,466.18 235.52,468.23 236.60,468.23 236.60,468.90 240.10,468.90 240.10,471.52 242.41,471.52 242.41,473.24 246.20,473.24 246.20,476.07 246.50,476.07 246.50,476.30 247.80,476.30 247.80,477.61 249.65,477.61 249.65,479.48 253.31,479.48 253.31,483.18 255.84,483.18 255.84,485.73 256.30,485.73 256.30,486.20 258.63,486.20 258.63,487.92 260.12,487.92 260.12,489.02 263.06,489.02 263.06,491.18 266.20,491.18 266.20,493.50 268.20,493.50 268.20,495.20 269.73,495.20 269.73,496.50 271.89,496.50 271.89,498.33 273.50,498.33 273.50,499.70 276.77,499.70 276.77,500.23 278.38,500.23 278.38,500.49 280.32,500.49 280.32,500.81 280.90,500.81 280.90,500.90 282.36,500.90 282.36,501.16 285.73,501.16 285.73,501.75 287.49,501.75 287.49,502.06 288.30,502.06 288.30,502.20 290.76,502.20 290.76,504.01 292.56,504.01 292.56,505.33 293.20,505.33 293.20,505.80 294.50,505.80 294.50,511.50 299.40,511.50 299.40,512.50 299.40,512.50 299.40,518.20 304.30,518.20 304.30,518.20 305.00,518.20 305.00,527.30 315.40,527.30 315.40,527.30" fill="none" stroke="#c8203f" stroke-width="1.15" stroke-linejoin="miter"/>
<path d="M217.3,452.3v2.2M238.6,467.8v2.2M244.4,472.1v2.2M251.6,478.4v2.2M296.5,510.4v2.2M301.4,517.1v2.2M307.0,526.2v2.2M309.6,526.2v2.2M312.1,526.2v2.2" stroke="#c8203f" stroke-width="0.9" fill="none"/>
<polyline points="215.30,453.40 216.94,453.40 216.94,454.20 219.91,454.20 219.91,455.66 221.52,455.66 221.52,456.44 223.91,456.44 223.91,457.61 224.30,457.61 224.30,457.80 226.30,457.80 226.30,459.15 230.13,459.15 230.13,461.74 231.70,461.74 231.70,462.80 233.79,462.80 233.79,464.18 237.39,464.18 237.39,466.57 239.10,466.57 239.10,467.70 241.43,467.70 241.43,470.03 244.95,470.03 244.95,473.55 246.50,473.55 246.50,475.10 248.06,475.10 248.06,476.68 251.93,476.68 251.93,480.61 253.80,480.61 253.80,482.50 255.77,482.50 255.77,484.13 259.08,484.13 259.08,486.85 261.20,486.85 261.20,488.60 263.27,488.60 263.27,489.97 264.76,489.97 264.76,490.96 266.30,490.96 266.30,491.97 268.60,491.97 268.60,493.50 270.53,493.50 270.53,494.15 273.40,494.15 273.40,495.12 275.66,495.12 275.66,495.89 276.00,495.89 276.00,496.00 279.79,496.00 279.79,497.90 282.35,497.90 282.35,499.18 283.40,499.18 283.40,499.70 286.95,499.70 286.95,500.28 288.73,500.28 288.73,500.56 290.43,500.56 290.43,500.84 290.80,500.84 290.80,500.90 296.90,500.90 296.90,500.90 298.20,500.90 298.20,511.50 325.20,511.50 325.20,511.50" fill="none" stroke="#2b55a0" stroke-width="1.15" stroke-linejoin="miter"/>
<path d="M228.3,458.1v2.2M235.8,463.1v2.2M243.4,468.9v2.2M250.1,475.6v2.2M278.0,494.9v2.2M285.4,498.6v2.2M292.8,499.8v2.2M295.9,499.8v2.2M300.2,510.4v2.2M302.9,510.4v2.2M306.4,510.4v2.2M310.4,510.4v2.2M314.7,510.4v2.2M318.7,510.4v2.2M322.6,510.4v2.2" stroke="#2b55a0" stroke-width="0.9" fill="none"/>
<polyline points="215.30,453.40 218.73,453.40 218.73,456.03 220.67,456.03 220.67,457.52 222.47,457.52 222.47,458.90 224.30,458.90 224.30,460.30 228.05,460.30 228.05,464.05 229.86,464.05 229.86,465.86 231.70,465.86 231.70,467.70 235.29,467.70 235.29,473.13 236.60,473.13 236.60,475.10 239.00,475.10 239.00,477.50 240.57,477.50 240.57,479.07 241.50,479.07 241.50,480.00 245.30,480.00 245.30,481.28 247.22,481.28 247.22,481.93 248.90,481.93 248.90,482.50 250.87,482.50 250.87,483.48 254.31,483.48 254.31,485.20 256.30,485.20 256.30,486.20 258.36,486.20 258.36,487.57 260.12,487.57 260.12,488.73 263.29,488.73 263.29,490.83 263.70,490.83 263.70,491.10 265.59,491.10 265.59,492.66 268.35,492.66 268.35,494.93 271.10,494.93 271.10,497.20 274.00,497.20 274.00,499.16 276.03,499.16 276.03,500.53 278.50,500.53 278.50,502.20 280.33,502.20 280.33,502.50 281.67,502.50 281.67,502.72 283.67,502.72 283.67,503.05 285.80,503.05 285.80,503.40 285.80,503.40 285.80,506.60 305.50,506.60 305.50,506.60 305.50,506.60 305.50,536.60 309.20,536.60 309.20,536.60" fill="none" stroke="#6db33f" stroke-width="1.15" stroke-linejoin="miter"/>
<path d="M226.3,459.2v2.2M233.7,466.6v2.2M243.5,478.9v2.2M287.8,505.5v2.2M292.1,505.5v2.2M296.3,505.5v2.2M299.7,505.5v2.2M303.8,505.5v2.2M307.5,535.5v2.2" stroke="#6db33f" stroke-width="0.9" fill="none"/>
<line x1="220.10" y1="521.80" x2="228.40" y2="521.80" stroke="#c8203f" stroke-width="1.4"/>
<text x="233.00" y="524.40" font-size="7.4" fill="#111">q1</text>
<line x1="220.10" y1="533.40" x2="228.40" y2="533.40" stroke="#2b55a0" stroke-width="1.4"/>
<text x="233.00" y="536.00" font-size="7.4" fill="#111">q2</text>
<line x1="220.10" y1="545.00" x2="228.40" y2="545.00" stroke="#6db33f" stroke-width="1.4"/>
<text x="233.00" y="547.60" font-size="7.4" fill="#111">q3</text>
<line x1="220.10" y1="556.60" x2="228.40" y2="556.60" stroke="#5b2a7e" stroke-width="1.4"/>
<text x="233.00" y="559.20" font-size="7.4" fill="#111">q4</text>
<line x1="378.20" y1="449.80" x2="378.20" y2="567.40" stroke="#000" stroke-width="1.3"/>
<line x1="377.60" y1="566.80" x2="495.30" y2="566.80" stroke="#000" stroke-width="1.3"/>
<line x1="374.20" y1="566.80" x2="378.20" y2="566.80" stroke="#000" stroke-width="1.1"/>
<line x1="374.20" y1="544.14" x2="378.20" y2="544.14" stroke="#000" stroke-width="1.1"/>
<line x1="374.20" y1="521.48" x2="378.20" y2="521.48" stroke="#000" stroke-width="1.1"/>
<line x1="374.20" y1="498.82" x2="378.20" y2="498.82" stroke="#000" stroke-width="1.1"/>
<line x1="374.20" y1="476.16" x2="378.20" y2="476.16" stroke="#000" stroke-width="1.1"/>
<line x1="374.20" y1="453.50" x2="378.20" y2="453.50" stroke="#000" stroke-width="1.1"/>
<line x1="378.20" y1="566.80" x2="378.20" y2="570.80" stroke="#000" stroke-width="1.1"/>
<line x1="400.96" y1="566.80" x2="400.96" y2="570.80" stroke="#000" stroke-width="1.1"/>
<line x1="423.72" y1="566.80" x2="423.72" y2="570.80" stroke="#000" stroke-width="1.1"/>
<line x1="446.48" y1="566.80" x2="446.48" y2="570.80" stroke="#000" stroke-width="1.1"/>
<line x1="469.24" y1="566.80" x2="469.24" y2="570.80" stroke="#000" stroke-width="1.1"/>
<line x1="492.00" y1="566.80" x2="492.00" y2="570.80" stroke="#000" stroke-width="1.1"/>
<text x="367.10" y="456.20" font-size="7.6" fill="#111" text-anchor="middle">1</text>
<text x="367.10" y="569.50" font-size="7.6" fill="#111" text-anchor="middle">0</text>
<text x="378.20" y="583.30" font-size="7.6" fill="#111" text-anchor="middle">0</text>
<text x="492.00" y="583.30" font-size="7.6" fill="#111" text-anchor="middle">60</text>
<text x="437.40" y="599.60" font-size="11.5" fill="#111" text-anchor="middle" textLength="26.20" lengthAdjust="spacingAndGlyphs" stroke="#111" stroke-width="0.3">Months</text>
<text x="358.60" y="522.10" font-size="11.5" fill="#111" textLength="27.00" lengthAdjust="spacingAndGlyphs" transform="rotate(-90 358.60 522.10)" stroke="#111" stroke-width="0.2">OS (%)</text>
<text x="457.70" y="467.00" font-size="7.4" fill="#111" text-anchor="middle" textLength="36.50" lengthAdjust="spacingAndGlyphs">P=2.17e-05</text>
<polyline points="378.20,453.00 381.12,453.00 381.12,456.80 382.20,456.80 382.20,458.20 385.01,458.20 385.01,460.08 387.90,460.08 387.90,462.00 389.40,462.00 389.40,463.00 392.36,463.00 392.36,464.48 396.25,464.48 396.25,466.42 396.60,466.42 396.60,466.60 399.79,466.60 399.79,468.20 402.10,468.20 402.10,469.35 403.80,469.35 403.80,470.20 406.61,470.20 406.61,472.05 409.06,472.05 409.06,473.66 411.10,473.66 411.10,475.00 412.62,475.00 412.62,476.03 415.87,476.03 415.87,478.25 417.25,478.25 417.25,479.18 418.30,479.18 418.30,479.90 420.85,479.90 420.85,481.00 422.75,481.00 422.75,481.82 425.50,481.82 425.50,483.00 428.09,483.00 428.09,484.04 430.99,484.04 430.99,485.21 432.70,485.21 432.70,485.90 434.67,485.90 434.67,489.18 435.99,489.18 435.99,491.39 436.30,491.39 436.30,491.90 439.36,491.90 439.36,492.16 441.19,492.16 441.19,492.31 442.93,492.31 442.93,492.45 444.70,492.45 444.70,492.60 447.10,492.60 447.10,495.50 449.50,495.50 449.50,499.10 451.40,499.10 451.40,509.40 461.50,509.40 461.50,509.40 462.00,509.40 462.00,515.40 486.80,515.40 486.80,515.40" fill="none" stroke="#5b2a7e" stroke-width="1.15" stroke-linejoin="miter"/>
<path d="M394.4,463.4v2.2M453.4,508.3v2.2M457.7,508.3v2.2M464.0,514.3v2.2M468.5,514.3v2.2M472.0,514.3v2.2M476.1,514.3v2.2M479.3,514.3v2.2M483.6,514.3v2.2" stroke="#5b2a7e" stroke-width="0.9" fill="none"/>
<polyline points="378.20,452.60 381.82,452.60 381.82,454.41 383.97,454.41 383.97,455.48 387.00,455.48 387.00,457.00 388.82,457.00 388.82,457.91 391.24,457.91 391.24,459.12 394.20,459.12 394.20,460.60 397.88,460.60 397.88,461.47 401.40,461.47 401.40,462.30 403.70,462.30 403.70,462.47 406.52,462.47 406.52,462.67 408.64,462.67 408.64,462.82 410.29,462.82 410.29,462.94 411.10,462.94 411.10,463.00 414.58,463.00 414.58,465.61 415.90,465.61 415.90,466.60 419.05,466.60 419.05,468.52 423.10,468.52 423.10,471.00 425.12,471.00 425.12,471.67 426.86,471.67 426.86,472.25 429.33,472.25 429.33,473.08 430.30,473.08 430.30,473.40 432.16,473.40 432.16,473.94 434.53,473.94 434.53,474.63 437.50,474.63 437.50,475.50 440.08,475.50 440.08,476.22 442.20,476.22 442.20,476.81 444.70,476.81 444.70,477.50 447.10,477.50 447.10,476.30 484.40,476.30 484.40,476.30" fill="none" stroke="#c8203f" stroke-width="1.15" stroke-linejoin="miter"/>
<path d="M380.2,451.5v2.2M396.2,459.5v2.2M399.9,460.4v2.2M421.0,467.4v2.2M449.1,475.2v2.2M453.1,475.2v2.2M456.6,475.2v2.2M459.2,475.2v2.2M463.3,475.2v2.2M465.9,475.2v2.2M470.0,475.2v2.2M472.9,475.2v2.2M476.0,475.2v2.2M480.1,475.2v2.2M482.9,475.2v2.2" stroke="#c8203f" stroke-width="0.9" fill="none"/>
<polyline points="378.20,452.60 382.05,452.60 382.05,454.00 384.53,454.00 384.53,454.90 386.02,454.90 386.02,455.45 387.00,455.45 387.00,455.80 390.57,455.80 390.57,456.25 391.98,456.25 391.98,456.42 395.12,456.42 395.12,456.81 396.60,456.81 396.60,457.00 398.70,457.00 398.70,457.63 402.06,457.63 402.06,458.63 403.41,458.63 403.41,459.04 405.06,459.04 405.06,459.53 406.30,459.53 406.30,459.90 407.66,459.90 407.66,460.39 411.12,460.39 411.12,461.63 413.04,461.63 413.04,462.31 414.70,462.31 414.70,462.91 416.13,462.91 416.13,463.42 418.30,463.42 418.30,464.20 420.76,464.20 420.76,465.43 423.70,465.43 423.70,466.90 425.50,466.90 425.50,467.80 428.90,467.80 428.90,470.07 432.70,470.07 432.70,472.60 435.78,472.60 435.78,473.11 437.60,473.11 437.60,473.42 439.90,473.42 439.90,473.80 441.66,473.80 441.66,474.29 442.99,474.29 442.99,474.66 445.52,474.66 445.52,475.36 447.10,475.36 447.10,475.80 478.40,475.80 478.40,475.80 478.80,475.80 478.80,490.70 482.00,490.70 482.00,490.70 482.00,490.70 482.00,509.90 488.00,509.90 488.00,509.90" fill="none" stroke="#2b55a0" stroke-width="1.15" stroke-linejoin="miter"/>
<path d="M380.2,451.5v2.2M389.0,454.7v2.2M430.9,469.0v2.2M449.1,474.7v2.2M453.0,474.7v2.2M457.4,474.7v2.2M460.9,474.7v2.2M465.3,474.7v2.2M467.9,474.7v2.2M470.9,474.7v2.2M474.4,474.7v2.2M477.5,474.7v2.2M484.0,508.8v2.2" stroke="#2b55a0" stroke-width="0.9" fill="none"/>
<polyline points="378.20,452.60 379.97,452.60 379.97,453.48 381.97,453.48 381.97,454.49 384.17,454.49 384.17,455.59 384.60,455.59 384.60,455.80 387.25,455.80 387.25,456.93 390.15,456.93 390.15,458.17 393.42,458.17 393.42,459.57 394.20,459.57 394.20,459.90 397.56,459.90 397.56,461.82 401.22,461.82 401.22,463.92 402.74,463.92 402.74,464.79 403.80,464.79 403.80,465.40 406.98,465.40 406.98,466.79 408.62,466.79 408.62,467.51 411.10,467.51 411.10,468.60 414.03,468.60 414.03,469.58 417.69,469.58 417.69,470.80 418.30,470.80 418.30,471.00 421.08,471.00 421.08,471.62 424.67,471.62 424.67,472.41 425.50,472.41 425.50,472.60 429.26,472.60 429.26,473.23 431.76,473.23 431.76,473.64 432.70,473.64 432.70,473.80 434.53,473.80 434.53,473.98 437.71,473.98 437.71,474.30 441.14,474.30 441.14,474.64 444.11,474.64 444.11,474.94 444.70,474.94 444.70,475.00 447.10,475.00 447.10,477.00 480.80,477.00 480.80,476.30" fill="none" stroke="#6db33f" stroke-width="1.15" stroke-linejoin="miter"/>
<path d="M399.6,460.7v2.2M416.0,468.5v2.2M423.1,470.5v2.2M427.5,471.5v2.2M449.1,475.9v2.2M452.4,475.9v2.2M456.6,475.9v2.2M460.9,475.9v2.2M463.8,475.9v2.2M468.0,475.9v2.2M472.4,475.9v2.2M476.0,475.9v2.2M479.6,475.9v2.2" stroke="#6db33f" stroke-width="0.9" fill="none"/>
<line x1="383.00" y1="521.80" x2="391.30" y2="521.80" stroke="#c8203f" stroke-width="1.4"/>
<text x="395.90" y="524.40" font-size="7.4" fill="#111">q1</text>
<line x1="383.00" y1="533.40" x2="391.30" y2="533.40" stroke="#2b55a0" stroke-width="1.4"/>
<text x="395.90" y="536.00" font-size="7.4" fill="#111">q2</text>
<line x1="383.00" y1="545.00" x2="391.30" y2="545.00" stroke="#6db33f" stroke-width="1.4"/>
<text x="395.90" y="547.60" font-size="7.4" fill="#111">q3</text>
<line x1="383.00" y1="556.60" x2="391.30" y2="556.60" stroke="#5b2a7e" stroke-width="1.4"/>
<text x="395.90" y="559.20" font-size="7.4" fill="#111">q4</text>
<text x="52.90" y="633.60" font-size="11.0" fill="#111" textLength="42.30" lengthAdjust="spacingAndGlyphs">amp(1q)</text>
<rect x="48.20" y="656.70" width="10.60" height="84.20" fill="#a8002c"/>
<rect x="61.25" y="670.00" width="10.60" height="70.90" fill="#2e4b7a"/>
<rect x="74.30" y="656.50" width="10.60" height="84.40" fill="#6aa641"/>
<rect x="87.35" y="644.20" width="10.60" height="96.70" fill="#53285f"/>
<line x1="46.50" y1="644.10" x2="46.50" y2="741.50" stroke="#000" stroke-width="1.3"/>
<line x1="45.90" y1="740.90" x2="101.80" y2="740.90" stroke="#000" stroke-width="1.3"/>
<line x1="42.50" y1="740.90" x2="46.50" y2="740.90" stroke="#000" stroke-width="1.1"/>
<text x="37.80" y="744.00" font-size="8.6" fill="#111" text-anchor="end">0</text>
<line x1="42.50" y1="716.10" x2="46.50" y2="716.10" stroke="#000" stroke-width="1.1"/>
<line x1="42.50" y1="691.60" x2="46.50" y2="691.60" stroke="#000" stroke-width="1.1"/>
<line x1="42.50" y1="667.90" x2="46.50" y2="667.90" stroke="#000" stroke-width="1.1"/>
<text x="37.80" y="671.00" font-size="8.6" fill="#111" text-anchor="end">30</text>
<line x1="53.50" y1="740.90" x2="53.50" y2="745.10" stroke="#000" stroke-width="1.1"/>
<text x="53.50" y="756.90" font-size="8.6" fill="#111" text-anchor="middle">1</text>
<line x1="66.55" y1="740.90" x2="66.55" y2="745.10" stroke="#000" stroke-width="1.1"/>
<text x="66.55" y="756.90" font-size="8.6" fill="#111" text-anchor="middle">2</text>
<line x1="79.60" y1="740.90" x2="79.60" y2="745.10" stroke="#000" stroke-width="1.1"/>
<text x="79.60" y="756.90" font-size="8.6" fill="#111" text-anchor="middle">3</text>
<line x1="92.65" y1="740.90" x2="92.65" y2="745.10" stroke="#000" stroke-width="1.1"/>
<text x="92.65" y="756.90" font-size="8.6" fill="#111" text-anchor="middle">4</text>
<text x="142.90" y="633.60" font-size="11.0" fill="#111" textLength="35.00" lengthAdjust="spacingAndGlyphs">del(1p)</text>
<rect x="134.90" y="673.20" width="10.60" height="67.70" fill="#a8002c"/>
<rect x="147.95" y="661.50" width="10.60" height="79.40" fill="#2e4b7a"/>
<rect x="161.00" y="652.00" width="10.60" height="88.90" fill="#6aa641"/>
<rect x="174.05" y="644.20" width="10.60" height="96.70" fill="#53285f"/>
<line x1="133.20" y1="644.10" x2="133.20" y2="741.50" stroke="#000" stroke-width="1.3"/>
<line x1="132.60" y1="740.90" x2="188.50" y2="740.90" stroke="#000" stroke-width="1.3"/>
<line x1="129.20" y1="740.90" x2="133.20" y2="740.90" stroke="#000" stroke-width="1.1"/>
<text x="124.50" y="744.00" font-size="8.6" fill="#111" text-anchor="end">0</text>
<line x1="129.20" y1="724.60" x2="133.20" y2="724.60" stroke="#000" stroke-width="1.1"/>
<line x1="129.20" y1="708.50" x2="133.20" y2="708.50" stroke="#000" stroke-width="1.1"/>
<line x1="129.20" y1="692.60" x2="133.20" y2="692.60" stroke="#000" stroke-width="1.1"/>
<line x1="129.20" y1="676.30" x2="133.20" y2="676.30" stroke="#000" stroke-width="1.1"/>
<line x1="129.20" y1="660.10" x2="133.20" y2="660.10" stroke="#000" stroke-width="1.1"/>
<text x="124.50" y="663.20" font-size="8.6" fill="#111" text-anchor="end">25</text>
<line x1="140.20" y1="740.90" x2="140.20" y2="745.10" stroke="#000" stroke-width="1.1"/>
<text x="140.20" y="756.90" font-size="8.6" fill="#111" text-anchor="middle">1</text>
<line x1="153.25" y1="740.90" x2="153.25" y2="745.10" stroke="#000" stroke-width="1.1"/>
<text x="153.25" y="756.90" font-size="8.6" fill="#111" text-anchor="middle">2</text>
<line x1="166.30" y1="740.90" x2="166.30" y2="745.10" stroke="#000" stroke-width="1.1"/>
<text x="166.30" y="756.90" font-size="8.6" fill="#111" text-anchor="middle">3</text>
<line x1="179.35" y1="740.90" x2="179.35" y2="745.10" stroke="#000" stroke-width="1.1"/>
<text x="179.35" y="756.90" font-size="8.6" fill="#111" text-anchor="middle">4</text>
<text x="226.00" y="633.60" font-size="11.0" fill="#111" textLength="41.90" lengthAdjust="spacingAndGlyphs">del(13q)</text>
<rect x="221.30" y="670.00" width="10.60" height="70.90" fill="#a8002c"/>
<rect x="234.35" y="675.30" width="10.60" height="65.60" fill="#2e4b7a"/>
<rect x="247.40" y="653.10" width="10.60" height="87.80" fill="#6aa641"/>
<rect x="260.45" y="644.20" width="10.60" height="96.70" fill="#53285f"/>
<line x1="219.60" y1="641.10" x2="219.60" y2="741.50" stroke="#000" stroke-width="1.3"/>
<line x1="219.00" y1="740.90" x2="274.90" y2="740.90" stroke="#000" stroke-width="1.3"/>
<line x1="215.60" y1="740.90" x2="219.60" y2="740.90" stroke="#000" stroke-width="1.1"/>
<text x="210.90" y="744.00" font-size="8.6" fill="#111" text-anchor="end">0</text>
<line x1="215.60" y1="725.00" x2="219.60" y2="725.00" stroke="#000" stroke-width="1.1"/>
<line x1="215.60" y1="708.70" x2="219.60" y2="708.70" stroke="#000" stroke-width="1.1"/>
<line x1="215.60" y1="692.90" x2="219.60" y2="692.90" stroke="#000" stroke-width="1.1"/>
<line x1="215.60" y1="676.80" x2="219.60" y2="676.80" stroke="#000" stroke-width="1.1"/>
<line x1="215.60" y1="660.50" x2="219.60" y2="660.50" stroke="#000" stroke-width="1.1"/>
<line x1="215.60" y1="644.60" x2="219.60" y2="644.60" stroke="#000" stroke-width="1.1"/>
<text x="210.90" y="647.70" font-size="8.6" fill="#111" text-anchor="end">60</text>
<line x1="226.60" y1="740.90" x2="226.60" y2="745.10" stroke="#000" stroke-width="1.1"/>
<text x="226.60" y="756.90" font-size="8.6" fill="#111" text-anchor="middle">1</text>
<line x1="239.65" y1="740.90" x2="239.65" y2="745.10" stroke="#000" stroke-width="1.1"/>
<text x="239.65" y="756.90" font-size="8.6" fill="#111" text-anchor="middle">2</text>
<line x1="252.70" y1="740.90" x2="252.70" y2="745.10" stroke="#000" stroke-width="1.1"/>
<text x="252.70" y="756.90" font-size="8.6" fill="#111" text-anchor="middle">3</text>
<line x1="265.75" y1="740.90" x2="265.75" y2="745.10" stroke="#000" stroke-width="1.1"/>
<text x="265.75" y="756.90" font-size="8.6" fill="#111" text-anchor="middle">4</text>
<text x="314.50" y="633.60" font-size="11.0" fill="#111" textLength="41.20" lengthAdjust="spacingAndGlyphs">del(17p)</text>
<rect x="309.60" y="665.30" width="10.60" height="75.60" fill="#a8002c"/>
<rect x="322.65" y="657.30" width="10.60" height="83.60" fill="#2e4b7a"/>
<rect x="335.70" y="644.20" width="10.60" height="96.70" fill="#6aa641"/>
<rect x="348.75" y="682.30" width="10.60" height="58.60" fill="#53285f"/>
<line x1="307.90" y1="644.10" x2="307.90" y2="741.50" stroke="#000" stroke-width="1.3"/>
<line x1="307.30" y1="740.90" x2="363.20" y2="740.90" stroke="#000" stroke-width="1.3"/>
<line x1="303.90" y1="740.90" x2="307.90" y2="740.90" stroke="#000" stroke-width="1.1"/>
<text x="299.20" y="744.00" font-size="8.6" fill="#111" text-anchor="end">0</text>
<line x1="303.90" y1="728.20" x2="307.90" y2="728.20" stroke="#000" stroke-width="1.1"/>
<line x1="303.90" y1="715.50" x2="307.90" y2="715.50" stroke="#000" stroke-width="1.1"/>
<line x1="303.90" y1="702.80" x2="307.90" y2="702.80" stroke="#000" stroke-width="1.1"/>
<line x1="303.90" y1="690.10" x2="307.90" y2="690.10" stroke="#000" stroke-width="1.1"/>
<line x1="303.90" y1="677.80" x2="307.90" y2="677.80" stroke="#000" stroke-width="1.1"/>
<line x1="303.90" y1="665.30" x2="307.90" y2="665.30" stroke="#000" stroke-width="1.1"/>
<line x1="303.90" y1="652.70" x2="307.90" y2="652.70" stroke="#000" stroke-width="1.1"/>
<text x="299.20" y="655.80" font-size="8.6" fill="#111" text-anchor="end">14</text>
<line x1="314.90" y1="740.90" x2="314.90" y2="745.10" stroke="#000" stroke-width="1.1"/>
<text x="314.90" y="756.90" font-size="8.6" fill="#111" text-anchor="middle">1</text>
<line x1="327.95" y1="740.90" x2="327.95" y2="745.10" stroke="#000" stroke-width="1.1"/>
<text x="327.95" y="756.90" font-size="8.6" fill="#111" text-anchor="middle">2</text>
<line x1="341.00" y1="740.90" x2="341.00" y2="745.10" stroke="#000" stroke-width="1.1"/>
<text x="341.00" y="756.90" font-size="8.6" fill="#111" text-anchor="middle">3</text>
<line x1="354.05" y1="740.90" x2="354.05" y2="745.10" stroke="#000" stroke-width="1.1"/>
<text x="354.05" y="756.90" font-size="8.6" fill="#111" text-anchor="middle">4</text>
<text x="390.70" y="633.60" font-size="11.0" fill="#111" textLength="62.20" lengthAdjust="spacingAndGlyphs">Hyperdiploid</text>
<rect x="396.50" y="648.80" width="10.60" height="92.10" fill="#a8002c"/>
<rect x="409.55" y="644.20" width="10.60" height="96.70" fill="#2e4b7a"/>
<rect x="422.60" y="661.10" width="10.60" height="79.80" fill="#6aa641"/>
<rect x="435.65" y="690.10" width="10.60" height="50.80" fill="#53285f"/>
<line x1="394.80" y1="641.70" x2="394.80" y2="741.50" stroke="#000" stroke-width="1.3"/>
<line x1="394.20" y1="740.90" x2="450.10" y2="740.90" stroke="#000" stroke-width="1.3"/>
<line x1="390.80" y1="740.90" x2="394.80" y2="740.90" stroke="#000" stroke-width="1.1"/>
<text x="386.10" y="744.00" font-size="8.6" fill="#111" text-anchor="end">0</text>
<line x1="390.80" y1="725.00" x2="394.80" y2="725.00" stroke="#000" stroke-width="1.1"/>
<line x1="390.80" y1="709.10" x2="394.80" y2="709.10" stroke="#000" stroke-width="1.1"/>
<line x1="390.80" y1="693.30" x2="394.80" y2="693.30" stroke="#000" stroke-width="1.1"/>
<line x1="390.80" y1="677.40" x2="394.80" y2="677.40" stroke="#000" stroke-width="1.1"/>
<line x1="390.80" y1="661.50" x2="394.80" y2="661.50" stroke="#000" stroke-width="1.1"/>
<line x1="390.80" y1="645.70" x2="394.80" y2="645.70" stroke="#000" stroke-width="1.1"/>
<text x="386.10" y="648.80" font-size="8.6" fill="#111" text-anchor="end">60</text>
<line x1="401.80" y1="740.90" x2="401.80" y2="745.10" stroke="#000" stroke-width="1.1"/>
<text x="401.80" y="756.90" font-size="8.6" fill="#111" text-anchor="middle">1</text>
<line x1="414.85" y1="740.90" x2="414.85" y2="745.10" stroke="#000" stroke-width="1.1"/>
<text x="414.85" y="756.90" font-size="8.6" fill="#111" text-anchor="middle">2</text>
<line x1="427.90" y1="740.90" x2="427.90" y2="745.10" stroke="#000" stroke-width="1.1"/>
<text x="427.90" y="756.90" font-size="8.6" fill="#111" text-anchor="middle">3</text>
<line x1="440.95" y1="740.90" x2="440.95" y2="745.10" stroke="#000" stroke-width="1.1"/>
<text x="440.95" y="756.90" font-size="8.6" fill="#111" text-anchor="middle">4</text>
<text x="57.10" y="781.60" font-size="11.0" fill="#111" textLength="33.40" lengthAdjust="spacingAndGlyphs">t(4;14)</text>
<rect x="48.20" y="881.00" width="10.60" height="4.20" fill="#a8002c"/>
<rect x="61.25" y="870.00" width="10.60" height="15.20" fill="#2e4b7a"/>
<rect x="74.30" y="852.00" width="10.60" height="33.20" fill="#6aa641"/>
<rect x="87.35" y="788.60" width="10.60" height="96.60" fill="#53285f"/>
<line x1="46.50" y1="788.10" x2="46.50" y2="885.80" stroke="#000" stroke-width="1.3"/>
<line x1="45.90" y1="885.20" x2="101.80" y2="885.20" stroke="#000" stroke-width="1.3"/>
<line x1="42.50" y1="885.20" x2="46.50" y2="885.20" stroke="#000" stroke-width="1.1"/>
<text x="37.80" y="888.30" font-size="8.6" fill="#111" text-anchor="end">0</text>
<line x1="42.50" y1="868.50" x2="46.50" y2="868.50" stroke="#000" stroke-width="1.1"/>
<line x1="42.50" y1="852.00" x2="46.50" y2="852.00" stroke="#000" stroke-width="1.1"/>
<line x1="42.50" y1="835.10" x2="46.50" y2="835.10" stroke="#000" stroke-width="1.1"/>
<line x1="42.50" y1="819.20" x2="46.50" y2="819.20" stroke="#000" stroke-width="1.1"/>
<line x1="42.50" y1="802.30" x2="46.50" y2="802.30" stroke="#000" stroke-width="1.1"/>
<text x="37.80" y="805.40" font-size="8.6" fill="#111" text-anchor="end">25</text>
<line x1="53.50" y1="885.20" x2="53.50" y2="889.40" stroke="#000" stroke-width="1.1"/>
<text x="53.50" y="900.90" font-size="8.6" fill="#111" text-anchor="middle">1</text>
<line x1="66.55" y1="885.20" x2="66.55" y2="889.40" stroke="#000" stroke-width="1.1"/>
<text x="66.55" y="900.90" font-size="8.6" fill="#111" text-anchor="middle">2</text>
<line x1="79.60" y1="885.20" x2="79.60" y2="889.40" stroke="#000" stroke-width="1.1"/>
<text x="79.60" y="900.90" font-size="8.6" fill="#111" text-anchor="middle">3</text>
<line x1="92.65" y1="885.20" x2="92.65" y2="889.40" stroke="#000" stroke-width="1.1"/>
<text x="92.65" y="900.90" font-size="8.6" fill="#111" text-anchor="middle">4</text>
<text x="140.20" y="781.60" font-size="11.0" fill="#111" textLength="40.60" lengthAdjust="spacingAndGlyphs">t(11;14)</text>
<rect x="134.90" y="811.80" width="10.60" height="73.40" fill="#a8002c"/>
<rect x="147.95" y="820.90" width="10.60" height="64.30" fill="#2e4b7a"/>
<rect x="161.00" y="813.90" width="10.60" height="71.30" fill="#6aa641"/>
<rect x="174.05" y="788.60" width="10.60" height="96.60" fill="#53285f"/>
<line x1="133.20" y1="788.10" x2="133.20" y2="885.80" stroke="#000" stroke-width="1.3"/>
<line x1="132.60" y1="885.20" x2="188.50" y2="885.20" stroke="#000" stroke-width="1.3"/>
<line x1="129.20" y1="885.20" x2="133.20" y2="885.20" stroke="#000" stroke-width="1.1"/>
<text x="124.50" y="888.30" font-size="8.6" fill="#111" text-anchor="end">0</text>
<line x1="129.20" y1="861.10" x2="133.20" y2="861.10" stroke="#000" stroke-width="1.1"/>
<line x1="129.20" y1="836.60" x2="133.20" y2="836.60" stroke="#000" stroke-width="1.1"/>
<line x1="129.20" y1="812.50" x2="133.20" y2="812.50" stroke="#000" stroke-width="1.1"/>
<text x="124.50" y="815.60" font-size="8.6" fill="#111" text-anchor="end">15</text>
<line x1="140.20" y1="885.20" x2="140.20" y2="889.40" stroke="#000" stroke-width="1.1"/>
<text x="140.20" y="900.90" font-size="8.6" fill="#111" text-anchor="middle">1</text>
<line x1="153.25" y1="885.20" x2="153.25" y2="889.40" stroke="#000" stroke-width="1.1"/>
<text x="153.25" y="900.90" font-size="8.6" fill="#111" text-anchor="middle">2</text>
<line x1="166.30" y1="885.20" x2="166.30" y2="889.40" stroke="#000" stroke-width="1.1"/>
<text x="166.30" y="900.90" font-size="8.6" fill="#111" text-anchor="middle">3</text>
<line x1="179.35" y1="885.20" x2="179.35" y2="889.40" stroke="#000" stroke-width="1.1"/>
<text x="179.35" y="900.90" font-size="8.6" fill="#111" text-anchor="middle">4</text>
<text x="226.40" y="781.60" font-size="11.0" fill="#111" textLength="40.20" lengthAdjust="spacingAndGlyphs">t(14;16)</text>
<rect x="221.30" y="851.00" width="10.60" height="34.20" fill="#a8002c"/>
<rect x="234.35" y="837.60" width="10.60" height="47.60" fill="#2e4b7a"/>
<rect x="247.40" y="788.60" width="10.60" height="96.60" fill="#6aa641"/>
<rect x="260.45" y="801.30" width="10.60" height="83.90" fill="#53285f"/>
<line x1="219.60" y1="788.10" x2="219.60" y2="885.80" stroke="#000" stroke-width="1.3"/>
<line x1="219.00" y1="885.20" x2="274.90" y2="885.20" stroke="#000" stroke-width="1.3"/>
<line x1="215.60" y1="885.20" x2="219.60" y2="885.20" stroke="#000" stroke-width="1.1"/>
<text x="210.90" y="888.30" font-size="8.6" fill="#111" text-anchor="end">0</text>
<line x1="215.60" y1="867.30" x2="219.60" y2="867.30" stroke="#000" stroke-width="1.1"/>
<line x1="215.60" y1="849.30" x2="219.60" y2="849.30" stroke="#000" stroke-width="1.1"/>
<line x1="215.60" y1="830.90" x2="219.60" y2="830.90" stroke="#000" stroke-width="1.1"/>
<line x1="215.60" y1="812.90" x2="219.60" y2="812.90" stroke="#000" stroke-width="1.1"/>
<line x1="215.60" y1="794.90" x2="219.60" y2="794.90" stroke="#000" stroke-width="1.1"/>
<text x="210.90" y="798.00" font-size="8.6" fill="#111" text-anchor="end">5</text>
<line x1="226.60" y1="885.20" x2="226.60" y2="889.40" stroke="#000" stroke-width="1.1"/>
<text x="226.60" y="900.90" font-size="8.6" fill="#111" text-anchor="middle">1</text>
<line x1="239.65" y1="885.20" x2="239.65" y2="889.40" stroke="#000" stroke-width="1.1"/>
<text x="239.65" y="900.90" font-size="8.6" fill="#111" text-anchor="middle">2</text>
<line x1="252.70" y1="885.20" x2="252.70" y2="889.40" stroke="#000" stroke-width="1.1"/>
<text x="252.70" y="900.90" font-size="8.6" fill="#111" text-anchor="middle">3</text>
<line x1="265.75" y1="885.20" x2="265.75" y2="889.40" stroke="#000" stroke-width="1.1"/>
<text x="265.75" y="900.90" font-size="8.6" fill="#111" text-anchor="middle">4</text>
<text x="314.90" y="781.60" font-size="11.0" fill="#111" textLength="40.20" lengthAdjust="spacingAndGlyphs">t(14;20)</text>
<rect x="309.60" y="793.40" width="10.60" height="91.80" fill="#a8002c"/>
<rect x="322.65" y="788.60" width="10.60" height="96.60" fill="#2e4b7a"/>
<rect x="335.70" y="836.60" width="10.60" height="48.60" fill="#6aa641"/>
<rect x="348.75" y="788.60" width="10.60" height="96.60" fill="#53285f"/>
<line x1="307.90" y1="788.10" x2="307.90" y2="885.80" stroke="#000" stroke-width="1.3"/>
<line x1="307.30" y1="885.20" x2="363.20" y2="885.20" stroke="#000" stroke-width="1.3"/>
<line x1="303.90" y1="885.20" x2="307.90" y2="885.20" stroke="#000" stroke-width="1.1"/>
<text x="299.20" y="888.30" font-size="8.6" fill="#111" text-anchor="end">0</text>
<line x1="303.90" y1="870.40" x2="307.90" y2="870.40" stroke="#000" stroke-width="1.1"/>
<line x1="303.90" y1="856.30" x2="307.90" y2="856.30" stroke="#000" stroke-width="1.1"/>
<line x1="303.90" y1="841.40" x2="307.90" y2="841.40" stroke="#000" stroke-width="1.1"/>
<line x1="303.90" y1="827.10" x2="307.90" y2="827.10" stroke="#000" stroke-width="1.1"/>
<line x1="303.90" y1="812.50" x2="307.90" y2="812.50" stroke="#000" stroke-width="1.1"/>
<line x1="303.90" y1="798.10" x2="307.90" y2="798.10" stroke="#000" stroke-width="1.1"/>
<text x="299.20" y="801.20" font-size="8.6" fill="#111" text-anchor="end">1.2</text>
<line x1="314.90" y1="885.20" x2="314.90" y2="889.40" stroke="#000" stroke-width="1.1"/>
<text x="314.90" y="900.90" font-size="8.6" fill="#111" text-anchor="middle">1</text>
<line x1="327.95" y1="885.20" x2="327.95" y2="889.40" stroke="#000" stroke-width="1.1"/>
<text x="327.95" y="900.90" font-size="8.6" fill="#111" text-anchor="middle">2</text>
<line x1="341.00" y1="885.20" x2="341.00" y2="889.40" stroke="#000" stroke-width="1.1"/>
<text x="341.00" y="900.90" font-size="8.6" fill="#111" text-anchor="middle">3</text>
<line x1="354.05" y1="885.20" x2="354.05" y2="889.40" stroke="#000" stroke-width="1.1"/>
<text x="354.05" y="900.90" font-size="8.6" fill="#111" text-anchor="middle">4</text>
<text x="404.50" y="781.60" font-size="11.0" fill="#111" textLength="34.90" lengthAdjust="spacingAndGlyphs">t(MYC)</text>
<rect x="396.50" y="788.60" width="10.60" height="96.60" fill="#a8002c"/>
<rect x="409.55" y="797.40" width="10.60" height="87.80" fill="#2e4b7a"/>
<rect x="422.60" y="820.70" width="10.60" height="64.50" fill="#6aa641"/>
<rect x="435.65" y="854.10" width="10.60" height="31.10" fill="#53285f"/>
<line x1="394.80" y1="788.10" x2="394.80" y2="885.80" stroke="#000" stroke-width="1.3"/>
<line x1="394.20" y1="885.20" x2="450.10" y2="885.20" stroke="#000" stroke-width="1.3"/>
<line x1="390.80" y1="885.20" x2="394.80" y2="885.20" stroke="#000" stroke-width="1.1"/>
<text x="386.10" y="888.30" font-size="8.6" fill="#111" text-anchor="end">0</text>
<line x1="390.80" y1="870.00" x2="394.80" y2="870.00" stroke="#000" stroke-width="1.1"/>
<line x1="390.80" y1="855.20" x2="394.80" y2="855.20" stroke="#000" stroke-width="1.1"/>
<line x1="390.80" y1="840.80" x2="394.80" y2="840.80" stroke="#000" stroke-width="1.1"/>
<line x1="390.80" y1="826.00" x2="394.80" y2="826.00" stroke="#000" stroke-width="1.1"/>
<line x1="390.80" y1="811.20" x2="394.80" y2="811.20" stroke="#000" stroke-width="1.1"/>
<line x1="390.80" y1="796.40" x2="394.80" y2="796.40" stroke="#000" stroke-width="1.1"/>
<text x="386.10" y="799.50" font-size="8.6" fill="#111" text-anchor="end">30</text>
<line x1="401.80" y1="885.20" x2="401.80" y2="889.40" stroke="#000" stroke-width="1.1"/>
<text x="401.80" y="900.90" font-size="8.6" fill="#111" text-anchor="middle">1</text>
<line x1="414.85" y1="885.20" x2="414.85" y2="889.40" stroke="#000" stroke-width="1.1"/>
<text x="414.85" y="900.90" font-size="8.6" fill="#111" text-anchor="middle">2</text>
<line x1="427.90" y1="885.20" x2="427.90" y2="889.40" stroke="#000" stroke-width="1.1"/>
<text x="427.90" y="900.90" font-size="8.6" fill="#111" text-anchor="middle">3</text>
<line x1="440.95" y1="885.20" x2="440.95" y2="889.40" stroke="#000" stroke-width="1.1"/>
<text x="440.95" y="900.90" font-size="8.6" fill="#111" text-anchor="middle">4</text>
<text x="20.00" y="797.50" font-size="11.6" fill="#111" textLength="64.50" lengthAdjust="spacingAndGlyphs" transform="rotate(-90 20.00 797.50)" stroke="#111" stroke-width="0.2">Percent of sample</text>
<text x="221.90" y="917.25" font-size="11.0" fill="#111" font-weight="bold" textLength="21.20" lengthAdjust="spacingAndGlyphs">MAPK</text>
<text x="245.60" y="917.25" font-size="11.0" fill="#111" textLength="27.10" lengthAdjust="spacingAndGlyphs" stroke="#111" stroke-width="0.2">quartile</text>
</svg>
</body></html>
